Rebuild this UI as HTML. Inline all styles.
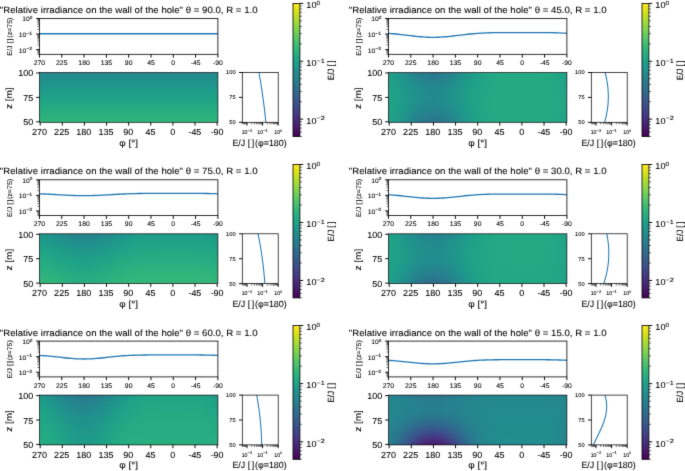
<!DOCTYPE html>
<html><head><meta charset="utf-8"><title>Relative irradiance on the wall of the hole</title>
<style>
html,body{margin:0;padding:0;background:#fff;}
body{width:685px;height:471px;overflow:hidden;font-family:"Liberation Sans",sans-serif;}
svg{display:block;font-family:"Liberation Sans",sans-serif;}
text{fill:#000;stroke:#000;stroke-width:0.08px;text-rendering:geometricPrecision;}
</style></head><body>
<svg width="685" height="471" viewBox="0 0 685 471">
<defs>
<filter id="soft" x="0" y="0" width="685" height="471" filterUnits="userSpaceOnUse" color-interpolation-filters="sRGB"><feConvolveMatrix order="3" kernelMatrix="0.01000 0.08000 0.01000 0.08000 0.64000 0.08000 0.01000 0.08000 0.01000" edgeMode="duplicate" preserveAlpha="false"/></filter>
<linearGradient id="cb" x1="0" y1="0" x2="0" y2="1"><stop offset="0" stop-color="#fde725"/><stop offset="0.03125" stop-color="#ece51b"/><stop offset="0.0625" stop-color="#d8e219"/><stop offset="0.09375" stop-color="#c2df23"/><stop offset="0.125" stop-color="#addc30"/><stop offset="0.1562" stop-color="#98d83e"/><stop offset="0.1875" stop-color="#84d44b"/><stop offset="0.2188" stop-color="#70cf57"/><stop offset="0.25" stop-color="#5ec962"/><stop offset="0.2812" stop-color="#4ec36b"/><stop offset="0.3125" stop-color="#3fbc73"/><stop offset="0.3438" stop-color="#32b67a"/><stop offset="0.375" stop-color="#28ae80"/><stop offset="0.4062" stop-color="#22a785"/><stop offset="0.4375" stop-color="#1fa088"/><stop offset="0.4688" stop-color="#1f988b"/><stop offset="0.5" stop-color="#21918c"/><stop offset="0.5312" stop-color="#23898e"/><stop offset="0.5625" stop-color="#26828e"/><stop offset="0.5938" stop-color="#297a8e"/><stop offset="0.625" stop-color="#2c728e"/><stop offset="0.6562" stop-color="#2f6b8e"/><stop offset="0.6875" stop-color="#33638d"/><stop offset="0.7188" stop-color="#375b8d"/><stop offset="0.75" stop-color="#3b528b"/><stop offset="0.7812" stop-color="#3e4989"/><stop offset="0.8125" stop-color="#424086"/><stop offset="0.8438" stop-color="#453781"/><stop offset="0.875" stop-color="#472d7b"/><stop offset="0.9062" stop-color="#482374"/><stop offset="0.9375" stop-color="#48186a"/><stop offset="0.9688" stop-color="#470d60"/><stop offset="1" stop-color="#440154"/></linearGradient>
<clipPath id="c0"><rect x="39.45" y="72.50" width="178.45" height="49.80"/></clipPath>
<linearGradient id="g0_0"><stop offset="0" stop-color="#23888e"/><stop offset="0.05" stop-color="#23888e"/><stop offset="0.1" stop-color="#23888e"/><stop offset="0.15" stop-color="#23888e"/><stop offset="0.2" stop-color="#23888e"/><stop offset="0.25" stop-color="#23888e"/><stop offset="0.3" stop-color="#23888e"/><stop offset="0.35" stop-color="#23888e"/><stop offset="0.4" stop-color="#23888e"/><stop offset="0.45" stop-color="#23888e"/><stop offset="0.5" stop-color="#23888e"/><stop offset="0.55" stop-color="#23888e"/><stop offset="0.6" stop-color="#23888e"/><stop offset="0.65" stop-color="#23888e"/><stop offset="0.7" stop-color="#23888e"/><stop offset="0.75" stop-color="#23888e"/><stop offset="0.8" stop-color="#23888e"/><stop offset="0.85" stop-color="#23888e"/><stop offset="0.9" stop-color="#23888e"/><stop offset="0.95" stop-color="#23888e"/><stop offset="1" stop-color="#23888e"/></linearGradient>
<linearGradient id="g0_1"><stop offset="0" stop-color="#228b8d"/><stop offset="0.05" stop-color="#228b8d"/><stop offset="0.1" stop-color="#228b8d"/><stop offset="0.15" stop-color="#228b8d"/><stop offset="0.2" stop-color="#228b8d"/><stop offset="0.25" stop-color="#228b8d"/><stop offset="0.3" stop-color="#228b8d"/><stop offset="0.35" stop-color="#228b8d"/><stop offset="0.4" stop-color="#228b8d"/><stop offset="0.45" stop-color="#228b8d"/><stop offset="0.5" stop-color="#228b8d"/><stop offset="0.55" stop-color="#228b8d"/><stop offset="0.6" stop-color="#228b8d"/><stop offset="0.65" stop-color="#228b8d"/><stop offset="0.7" stop-color="#228b8d"/><stop offset="0.75" stop-color="#228b8d"/><stop offset="0.8" stop-color="#228b8d"/><stop offset="0.85" stop-color="#228b8d"/><stop offset="0.9" stop-color="#228b8d"/><stop offset="0.95" stop-color="#228b8d"/><stop offset="1" stop-color="#228b8d"/></linearGradient>
<linearGradient id="g0_2"><stop offset="0" stop-color="#228d8d"/><stop offset="0.05" stop-color="#228d8d"/><stop offset="0.1" stop-color="#228d8d"/><stop offset="0.15" stop-color="#228d8d"/><stop offset="0.2" stop-color="#228d8d"/><stop offset="0.25" stop-color="#228d8d"/><stop offset="0.3" stop-color="#228d8d"/><stop offset="0.35" stop-color="#228d8d"/><stop offset="0.4" stop-color="#228d8d"/><stop offset="0.45" stop-color="#228d8d"/><stop offset="0.5" stop-color="#228d8d"/><stop offset="0.55" stop-color="#228d8d"/><stop offset="0.6" stop-color="#228d8d"/><stop offset="0.65" stop-color="#228d8d"/><stop offset="0.7" stop-color="#228d8d"/><stop offset="0.75" stop-color="#228d8d"/><stop offset="0.8" stop-color="#228d8d"/><stop offset="0.85" stop-color="#228d8d"/><stop offset="0.9" stop-color="#228d8d"/><stop offset="0.95" stop-color="#228d8d"/><stop offset="1" stop-color="#228d8d"/></linearGradient>
<linearGradient id="g0_3"><stop offset="0" stop-color="#21908d"/><stop offset="0.05" stop-color="#21908d"/><stop offset="0.1" stop-color="#21908d"/><stop offset="0.15" stop-color="#21908d"/><stop offset="0.2" stop-color="#21908d"/><stop offset="0.25" stop-color="#21908d"/><stop offset="0.3" stop-color="#21908d"/><stop offset="0.35" stop-color="#21908d"/><stop offset="0.4" stop-color="#21908d"/><stop offset="0.45" stop-color="#21908d"/><stop offset="0.5" stop-color="#21908d"/><stop offset="0.55" stop-color="#21908d"/><stop offset="0.6" stop-color="#21908d"/><stop offset="0.65" stop-color="#21908d"/><stop offset="0.7" stop-color="#21908d"/><stop offset="0.75" stop-color="#21908d"/><stop offset="0.8" stop-color="#21908d"/><stop offset="0.85" stop-color="#21908d"/><stop offset="0.9" stop-color="#21908d"/><stop offset="0.95" stop-color="#21908d"/><stop offset="1" stop-color="#21908d"/></linearGradient>
<linearGradient id="g0_4"><stop offset="0" stop-color="#20928c"/><stop offset="0.05" stop-color="#20928c"/><stop offset="0.1" stop-color="#20928c"/><stop offset="0.15" stop-color="#20928c"/><stop offset="0.2" stop-color="#20928c"/><stop offset="0.25" stop-color="#20928c"/><stop offset="0.3" stop-color="#20928c"/><stop offset="0.35" stop-color="#20928c"/><stop offset="0.4" stop-color="#20928c"/><stop offset="0.45" stop-color="#20928c"/><stop offset="0.5" stop-color="#20928c"/><stop offset="0.55" stop-color="#20928c"/><stop offset="0.6" stop-color="#20928c"/><stop offset="0.65" stop-color="#20928c"/><stop offset="0.7" stop-color="#20928c"/><stop offset="0.75" stop-color="#20928c"/><stop offset="0.8" stop-color="#20928c"/><stop offset="0.85" stop-color="#20928c"/><stop offset="0.9" stop-color="#20928c"/><stop offset="0.95" stop-color="#20928c"/><stop offset="1" stop-color="#20928c"/></linearGradient>
<linearGradient id="g0_5"><stop offset="0" stop-color="#20938c"/><stop offset="0.05" stop-color="#20938c"/><stop offset="0.1" stop-color="#20938c"/><stop offset="0.15" stop-color="#20938c"/><stop offset="0.2" stop-color="#20938c"/><stop offset="0.25" stop-color="#20938c"/><stop offset="0.3" stop-color="#20938c"/><stop offset="0.35" stop-color="#20938c"/><stop offset="0.4" stop-color="#20938c"/><stop offset="0.45" stop-color="#20938c"/><stop offset="0.5" stop-color="#20938c"/><stop offset="0.55" stop-color="#20938c"/><stop offset="0.6" stop-color="#20938c"/><stop offset="0.65" stop-color="#20938c"/><stop offset="0.7" stop-color="#20938c"/><stop offset="0.75" stop-color="#20938c"/><stop offset="0.8" stop-color="#20938c"/><stop offset="0.85" stop-color="#20938c"/><stop offset="0.9" stop-color="#20938c"/><stop offset="0.95" stop-color="#20938c"/><stop offset="1" stop-color="#20938c"/></linearGradient>
<linearGradient id="g0_6"><stop offset="0" stop-color="#1f968b"/><stop offset="0.05" stop-color="#1f968b"/><stop offset="0.1" stop-color="#1f968b"/><stop offset="0.15" stop-color="#1f968b"/><stop offset="0.2" stop-color="#1f968b"/><stop offset="0.25" stop-color="#1f968b"/><stop offset="0.3" stop-color="#1f968b"/><stop offset="0.35" stop-color="#1f968b"/><stop offset="0.4" stop-color="#1f968b"/><stop offset="0.45" stop-color="#1f968b"/><stop offset="0.5" stop-color="#1f968b"/><stop offset="0.55" stop-color="#1f968b"/><stop offset="0.6" stop-color="#1f968b"/><stop offset="0.65" stop-color="#1f968b"/><stop offset="0.7" stop-color="#1f968b"/><stop offset="0.75" stop-color="#1f968b"/><stop offset="0.8" stop-color="#1f968b"/><stop offset="0.85" stop-color="#1f968b"/><stop offset="0.9" stop-color="#1f968b"/><stop offset="0.95" stop-color="#1f968b"/><stop offset="1" stop-color="#1f968b"/></linearGradient>
<linearGradient id="g0_7"><stop offset="0" stop-color="#1f988b"/><stop offset="0.05" stop-color="#1f988b"/><stop offset="0.1" stop-color="#1f988b"/><stop offset="0.15" stop-color="#1f988b"/><stop offset="0.2" stop-color="#1f988b"/><stop offset="0.25" stop-color="#1f988b"/><stop offset="0.3" stop-color="#1f988b"/><stop offset="0.35" stop-color="#1f988b"/><stop offset="0.4" stop-color="#1f988b"/><stop offset="0.45" stop-color="#1f988b"/><stop offset="0.5" stop-color="#1f988b"/><stop offset="0.55" stop-color="#1f988b"/><stop offset="0.6" stop-color="#1f988b"/><stop offset="0.65" stop-color="#1f988b"/><stop offset="0.7" stop-color="#1f988b"/><stop offset="0.75" stop-color="#1f988b"/><stop offset="0.8" stop-color="#1f988b"/><stop offset="0.85" stop-color="#1f988b"/><stop offset="0.9" stop-color="#1f988b"/><stop offset="0.95" stop-color="#1f988b"/><stop offset="1" stop-color="#1f988b"/></linearGradient>
<linearGradient id="g0_8"><stop offset="0" stop-color="#1f9a8a"/><stop offset="0.05" stop-color="#1f9a8a"/><stop offset="0.1" stop-color="#1f9a8a"/><stop offset="0.15" stop-color="#1f9a8a"/><stop offset="0.2" stop-color="#1f9a8a"/><stop offset="0.25" stop-color="#1f9a8a"/><stop offset="0.3" stop-color="#1f9a8a"/><stop offset="0.35" stop-color="#1f9a8a"/><stop offset="0.4" stop-color="#1f9a8a"/><stop offset="0.45" stop-color="#1f9a8a"/><stop offset="0.5" stop-color="#1f9a8a"/><stop offset="0.55" stop-color="#1f9a8a"/><stop offset="0.6" stop-color="#1f9a8a"/><stop offset="0.65" stop-color="#1f9a8a"/><stop offset="0.7" stop-color="#1f9a8a"/><stop offset="0.75" stop-color="#1f9a8a"/><stop offset="0.8" stop-color="#1f9a8a"/><stop offset="0.85" stop-color="#1f9a8a"/><stop offset="0.9" stop-color="#1f9a8a"/><stop offset="0.95" stop-color="#1f9a8a"/><stop offset="1" stop-color="#1f9a8a"/></linearGradient>
<linearGradient id="g0_9"><stop offset="0" stop-color="#1e9c89"/><stop offset="0.05" stop-color="#1e9c89"/><stop offset="0.1" stop-color="#1e9c89"/><stop offset="0.15" stop-color="#1e9c89"/><stop offset="0.2" stop-color="#1e9c89"/><stop offset="0.25" stop-color="#1e9c89"/><stop offset="0.3" stop-color="#1e9c89"/><stop offset="0.35" stop-color="#1e9c89"/><stop offset="0.4" stop-color="#1e9c89"/><stop offset="0.45" stop-color="#1e9c89"/><stop offset="0.5" stop-color="#1e9c89"/><stop offset="0.55" stop-color="#1e9c89"/><stop offset="0.6" stop-color="#1e9c89"/><stop offset="0.65" stop-color="#1e9c89"/><stop offset="0.7" stop-color="#1e9c89"/><stop offset="0.75" stop-color="#1e9c89"/><stop offset="0.8" stop-color="#1e9c89"/><stop offset="0.85" stop-color="#1e9c89"/><stop offset="0.9" stop-color="#1e9c89"/><stop offset="0.95" stop-color="#1e9c89"/><stop offset="1" stop-color="#1e9c89"/></linearGradient>
<linearGradient id="g0_10"><stop offset="0" stop-color="#1f9e89"/><stop offset="0.05" stop-color="#1f9e89"/><stop offset="0.1" stop-color="#1f9e89"/><stop offset="0.15" stop-color="#1f9e89"/><stop offset="0.2" stop-color="#1f9e89"/><stop offset="0.25" stop-color="#1f9e89"/><stop offset="0.3" stop-color="#1f9e89"/><stop offset="0.35" stop-color="#1f9e89"/><stop offset="0.4" stop-color="#1f9e89"/><stop offset="0.45" stop-color="#1f9e89"/><stop offset="0.5" stop-color="#1f9e89"/><stop offset="0.55" stop-color="#1f9e89"/><stop offset="0.6" stop-color="#1f9e89"/><stop offset="0.65" stop-color="#1f9e89"/><stop offset="0.7" stop-color="#1f9e89"/><stop offset="0.75" stop-color="#1f9e89"/><stop offset="0.8" stop-color="#1f9e89"/><stop offset="0.85" stop-color="#1f9e89"/><stop offset="0.9" stop-color="#1f9e89"/><stop offset="0.95" stop-color="#1f9e89"/><stop offset="1" stop-color="#1f9e89"/></linearGradient>
<linearGradient id="g0_11"><stop offset="0" stop-color="#1fa088"/><stop offset="0.05" stop-color="#1fa088"/><stop offset="0.1" stop-color="#1fa088"/><stop offset="0.15" stop-color="#1fa088"/><stop offset="0.2" stop-color="#1fa088"/><stop offset="0.25" stop-color="#1fa088"/><stop offset="0.3" stop-color="#1fa088"/><stop offset="0.35" stop-color="#1fa088"/><stop offset="0.4" stop-color="#1fa088"/><stop offset="0.45" stop-color="#1fa088"/><stop offset="0.5" stop-color="#1fa088"/><stop offset="0.55" stop-color="#1fa088"/><stop offset="0.6" stop-color="#1fa088"/><stop offset="0.65" stop-color="#1fa088"/><stop offset="0.7" stop-color="#1fa088"/><stop offset="0.75" stop-color="#1fa088"/><stop offset="0.8" stop-color="#1fa088"/><stop offset="0.85" stop-color="#1fa088"/><stop offset="0.9" stop-color="#1fa088"/><stop offset="0.95" stop-color="#1fa088"/><stop offset="1" stop-color="#1fa088"/></linearGradient>
<linearGradient id="g0_12"><stop offset="0" stop-color="#1fa187"/><stop offset="0.05" stop-color="#1fa187"/><stop offset="0.1" stop-color="#1fa187"/><stop offset="0.15" stop-color="#1fa187"/><stop offset="0.2" stop-color="#1fa187"/><stop offset="0.25" stop-color="#1fa187"/><stop offset="0.3" stop-color="#1fa187"/><stop offset="0.35" stop-color="#1fa187"/><stop offset="0.4" stop-color="#1fa187"/><stop offset="0.45" stop-color="#1fa187"/><stop offset="0.5" stop-color="#1fa187"/><stop offset="0.55" stop-color="#1fa187"/><stop offset="0.6" stop-color="#1fa187"/><stop offset="0.65" stop-color="#1fa187"/><stop offset="0.7" stop-color="#1fa187"/><stop offset="0.75" stop-color="#1fa187"/><stop offset="0.8" stop-color="#1fa187"/><stop offset="0.85" stop-color="#1fa187"/><stop offset="0.9" stop-color="#1fa187"/><stop offset="0.95" stop-color="#1fa187"/><stop offset="1" stop-color="#1fa187"/></linearGradient>
<linearGradient id="g0_13"><stop offset="0" stop-color="#20a386"/><stop offset="0.05" stop-color="#20a386"/><stop offset="0.1" stop-color="#20a386"/><stop offset="0.15" stop-color="#20a386"/><stop offset="0.2" stop-color="#20a386"/><stop offset="0.25" stop-color="#20a386"/><stop offset="0.3" stop-color="#20a386"/><stop offset="0.35" stop-color="#20a386"/><stop offset="0.4" stop-color="#20a386"/><stop offset="0.45" stop-color="#20a386"/><stop offset="0.5" stop-color="#20a386"/><stop offset="0.55" stop-color="#20a386"/><stop offset="0.6" stop-color="#20a386"/><stop offset="0.65" stop-color="#20a386"/><stop offset="0.7" stop-color="#20a386"/><stop offset="0.75" stop-color="#20a386"/><stop offset="0.8" stop-color="#20a386"/><stop offset="0.85" stop-color="#20a386"/><stop offset="0.9" stop-color="#20a386"/><stop offset="0.95" stop-color="#20a386"/><stop offset="1" stop-color="#20a386"/></linearGradient>
<linearGradient id="g0_14"><stop offset="0" stop-color="#21a585"/><stop offset="0.05" stop-color="#21a585"/><stop offset="0.1" stop-color="#21a585"/><stop offset="0.15" stop-color="#21a585"/><stop offset="0.2" stop-color="#21a585"/><stop offset="0.25" stop-color="#21a585"/><stop offset="0.3" stop-color="#21a585"/><stop offset="0.35" stop-color="#21a585"/><stop offset="0.4" stop-color="#21a585"/><stop offset="0.45" stop-color="#21a585"/><stop offset="0.5" stop-color="#21a585"/><stop offset="0.55" stop-color="#21a585"/><stop offset="0.6" stop-color="#21a585"/><stop offset="0.65" stop-color="#21a585"/><stop offset="0.7" stop-color="#21a585"/><stop offset="0.75" stop-color="#21a585"/><stop offset="0.8" stop-color="#21a585"/><stop offset="0.85" stop-color="#21a585"/><stop offset="0.9" stop-color="#21a585"/><stop offset="0.95" stop-color="#21a585"/><stop offset="1" stop-color="#21a585"/></linearGradient>
<linearGradient id="g0_15"><stop offset="0" stop-color="#22a785"/><stop offset="0.05" stop-color="#22a785"/><stop offset="0.1" stop-color="#22a785"/><stop offset="0.15" stop-color="#22a785"/><stop offset="0.2" stop-color="#22a785"/><stop offset="0.25" stop-color="#22a785"/><stop offset="0.3" stop-color="#22a785"/><stop offset="0.35" stop-color="#22a785"/><stop offset="0.4" stop-color="#22a785"/><stop offset="0.45" stop-color="#22a785"/><stop offset="0.5" stop-color="#22a785"/><stop offset="0.55" stop-color="#22a785"/><stop offset="0.6" stop-color="#22a785"/><stop offset="0.65" stop-color="#22a785"/><stop offset="0.7" stop-color="#22a785"/><stop offset="0.75" stop-color="#22a785"/><stop offset="0.8" stop-color="#22a785"/><stop offset="0.85" stop-color="#22a785"/><stop offset="0.9" stop-color="#22a785"/><stop offset="0.95" stop-color="#22a785"/><stop offset="1" stop-color="#22a785"/></linearGradient>
<linearGradient id="g0_16"><stop offset="0" stop-color="#23a983"/><stop offset="0.05" stop-color="#23a983"/><stop offset="0.1" stop-color="#23a983"/><stop offset="0.15" stop-color="#23a983"/><stop offset="0.2" stop-color="#23a983"/><stop offset="0.25" stop-color="#23a983"/><stop offset="0.3" stop-color="#23a983"/><stop offset="0.35" stop-color="#23a983"/><stop offset="0.4" stop-color="#23a983"/><stop offset="0.45" stop-color="#23a983"/><stop offset="0.5" stop-color="#23a983"/><stop offset="0.55" stop-color="#23a983"/><stop offset="0.6" stop-color="#23a983"/><stop offset="0.65" stop-color="#23a983"/><stop offset="0.7" stop-color="#23a983"/><stop offset="0.75" stop-color="#23a983"/><stop offset="0.8" stop-color="#23a983"/><stop offset="0.85" stop-color="#23a983"/><stop offset="0.9" stop-color="#23a983"/><stop offset="0.95" stop-color="#23a983"/><stop offset="1" stop-color="#23a983"/></linearGradient>
<linearGradient id="g0_17"><stop offset="0" stop-color="#25ab82"/><stop offset="0.05" stop-color="#25ab82"/><stop offset="0.1" stop-color="#25ab82"/><stop offset="0.15" stop-color="#25ab82"/><stop offset="0.2" stop-color="#25ab82"/><stop offset="0.25" stop-color="#25ab82"/><stop offset="0.3" stop-color="#25ab82"/><stop offset="0.35" stop-color="#25ab82"/><stop offset="0.4" stop-color="#25ab82"/><stop offset="0.45" stop-color="#25ab82"/><stop offset="0.5" stop-color="#25ab82"/><stop offset="0.55" stop-color="#25ab82"/><stop offset="0.6" stop-color="#25ab82"/><stop offset="0.65" stop-color="#25ab82"/><stop offset="0.7" stop-color="#25ab82"/><stop offset="0.75" stop-color="#25ab82"/><stop offset="0.8" stop-color="#25ab82"/><stop offset="0.85" stop-color="#25ab82"/><stop offset="0.9" stop-color="#25ab82"/><stop offset="0.95" stop-color="#25ab82"/><stop offset="1" stop-color="#25ab82"/></linearGradient>
<linearGradient id="g0_18"><stop offset="0" stop-color="#26ad81"/><stop offset="0.05" stop-color="#26ad81"/><stop offset="0.1" stop-color="#26ad81"/><stop offset="0.15" stop-color="#26ad81"/><stop offset="0.2" stop-color="#26ad81"/><stop offset="0.25" stop-color="#26ad81"/><stop offset="0.3" stop-color="#26ad81"/><stop offset="0.35" stop-color="#26ad81"/><stop offset="0.4" stop-color="#26ad81"/><stop offset="0.45" stop-color="#26ad81"/><stop offset="0.5" stop-color="#26ad81"/><stop offset="0.55" stop-color="#26ad81"/><stop offset="0.6" stop-color="#26ad81"/><stop offset="0.65" stop-color="#26ad81"/><stop offset="0.7" stop-color="#26ad81"/><stop offset="0.75" stop-color="#26ad81"/><stop offset="0.8" stop-color="#26ad81"/><stop offset="0.85" stop-color="#26ad81"/><stop offset="0.9" stop-color="#26ad81"/><stop offset="0.95" stop-color="#26ad81"/><stop offset="1" stop-color="#26ad81"/></linearGradient>
<linearGradient id="g0_19"><stop offset="0" stop-color="#27ad81"/><stop offset="0.05" stop-color="#27ad81"/><stop offset="0.1" stop-color="#27ad81"/><stop offset="0.15" stop-color="#27ad81"/><stop offset="0.2" stop-color="#27ad81"/><stop offset="0.25" stop-color="#27ad81"/><stop offset="0.3" stop-color="#27ad81"/><stop offset="0.35" stop-color="#27ad81"/><stop offset="0.4" stop-color="#27ad81"/><stop offset="0.45" stop-color="#27ad81"/><stop offset="0.5" stop-color="#27ad81"/><stop offset="0.55" stop-color="#27ad81"/><stop offset="0.6" stop-color="#27ad81"/><stop offset="0.65" stop-color="#27ad81"/><stop offset="0.7" stop-color="#27ad81"/><stop offset="0.75" stop-color="#27ad81"/><stop offset="0.8" stop-color="#27ad81"/><stop offset="0.85" stop-color="#27ad81"/><stop offset="0.9" stop-color="#27ad81"/><stop offset="0.95" stop-color="#27ad81"/><stop offset="1" stop-color="#27ad81"/></linearGradient>
<linearGradient id="g0_20"><stop offset="0" stop-color="#29af7f"/><stop offset="0.05" stop-color="#29af7f"/><stop offset="0.1" stop-color="#29af7f"/><stop offset="0.15" stop-color="#29af7f"/><stop offset="0.2" stop-color="#29af7f"/><stop offset="0.25" stop-color="#29af7f"/><stop offset="0.3" stop-color="#29af7f"/><stop offset="0.35" stop-color="#29af7f"/><stop offset="0.4" stop-color="#29af7f"/><stop offset="0.45" stop-color="#29af7f"/><stop offset="0.5" stop-color="#29af7f"/><stop offset="0.55" stop-color="#29af7f"/><stop offset="0.6" stop-color="#29af7f"/><stop offset="0.65" stop-color="#29af7f"/><stop offset="0.7" stop-color="#29af7f"/><stop offset="0.75" stop-color="#29af7f"/><stop offset="0.8" stop-color="#29af7f"/><stop offset="0.85" stop-color="#29af7f"/><stop offset="0.9" stop-color="#29af7f"/><stop offset="0.95" stop-color="#29af7f"/><stop offset="1" stop-color="#29af7f"/></linearGradient>
<linearGradient id="g0_21"><stop offset="0" stop-color="#2ab07f"/><stop offset="0.05" stop-color="#2ab07f"/><stop offset="0.1" stop-color="#2ab07f"/><stop offset="0.15" stop-color="#2ab07f"/><stop offset="0.2" stop-color="#2ab07f"/><stop offset="0.25" stop-color="#2ab07f"/><stop offset="0.3" stop-color="#2ab07f"/><stop offset="0.35" stop-color="#2ab07f"/><stop offset="0.4" stop-color="#2ab07f"/><stop offset="0.45" stop-color="#2ab07f"/><stop offset="0.5" stop-color="#2ab07f"/><stop offset="0.55" stop-color="#2ab07f"/><stop offset="0.6" stop-color="#2ab07f"/><stop offset="0.65" stop-color="#2ab07f"/><stop offset="0.7" stop-color="#2ab07f"/><stop offset="0.75" stop-color="#2ab07f"/><stop offset="0.8" stop-color="#2ab07f"/><stop offset="0.85" stop-color="#2ab07f"/><stop offset="0.9" stop-color="#2ab07f"/><stop offset="0.95" stop-color="#2ab07f"/><stop offset="1" stop-color="#2ab07f"/></linearGradient>
<linearGradient id="g0_22"><stop offset="0" stop-color="#2db27d"/><stop offset="0.05" stop-color="#2db27d"/><stop offset="0.1" stop-color="#2db27d"/><stop offset="0.15" stop-color="#2db27d"/><stop offset="0.2" stop-color="#2db27d"/><stop offset="0.25" stop-color="#2db27d"/><stop offset="0.3" stop-color="#2db27d"/><stop offset="0.35" stop-color="#2db27d"/><stop offset="0.4" stop-color="#2db27d"/><stop offset="0.45" stop-color="#2db27d"/><stop offset="0.5" stop-color="#2db27d"/><stop offset="0.55" stop-color="#2db27d"/><stop offset="0.6" stop-color="#2db27d"/><stop offset="0.65" stop-color="#2db27d"/><stop offset="0.7" stop-color="#2db27d"/><stop offset="0.75" stop-color="#2db27d"/><stop offset="0.8" stop-color="#2db27d"/><stop offset="0.85" stop-color="#2db27d"/><stop offset="0.9" stop-color="#2db27d"/><stop offset="0.95" stop-color="#2db27d"/><stop offset="1" stop-color="#2db27d"/></linearGradient>
<linearGradient id="g0_23"><stop offset="0" stop-color="#2eb37c"/><stop offset="0.05" stop-color="#2eb37c"/><stop offset="0.1" stop-color="#2eb37c"/><stop offset="0.15" stop-color="#2eb37c"/><stop offset="0.2" stop-color="#2eb37c"/><stop offset="0.25" stop-color="#2eb37c"/><stop offset="0.3" stop-color="#2eb37c"/><stop offset="0.35" stop-color="#2eb37c"/><stop offset="0.4" stop-color="#2eb37c"/><stop offset="0.45" stop-color="#2eb37c"/><stop offset="0.5" stop-color="#2eb37c"/><stop offset="0.55" stop-color="#2eb37c"/><stop offset="0.6" stop-color="#2eb37c"/><stop offset="0.65" stop-color="#2eb37c"/><stop offset="0.7" stop-color="#2eb37c"/><stop offset="0.75" stop-color="#2eb37c"/><stop offset="0.8" stop-color="#2eb37c"/><stop offset="0.85" stop-color="#2eb37c"/><stop offset="0.9" stop-color="#2eb37c"/><stop offset="0.95" stop-color="#2eb37c"/><stop offset="1" stop-color="#2eb37c"/></linearGradient>
<linearGradient id="g0_24"><stop offset="0" stop-color="#31b57b"/><stop offset="0.05" stop-color="#31b57b"/><stop offset="0.1" stop-color="#31b57b"/><stop offset="0.15" stop-color="#31b57b"/><stop offset="0.2" stop-color="#31b57b"/><stop offset="0.25" stop-color="#31b57b"/><stop offset="0.3" stop-color="#31b57b"/><stop offset="0.35" stop-color="#31b57b"/><stop offset="0.4" stop-color="#31b57b"/><stop offset="0.45" stop-color="#31b57b"/><stop offset="0.5" stop-color="#31b57b"/><stop offset="0.55" stop-color="#31b57b"/><stop offset="0.6" stop-color="#31b57b"/><stop offset="0.65" stop-color="#31b57b"/><stop offset="0.7" stop-color="#31b57b"/><stop offset="0.75" stop-color="#31b57b"/><stop offset="0.8" stop-color="#31b57b"/><stop offset="0.85" stop-color="#31b57b"/><stop offset="0.9" stop-color="#31b57b"/><stop offset="0.95" stop-color="#31b57b"/><stop offset="1" stop-color="#31b57b"/></linearGradient>
<clipPath id="s1"><rect x="242.30" y="72.50" width="35.90" height="49.80"/></clipPath>
<clipPath id="c1"><rect x="39.45" y="233.80" width="178.45" height="49.80"/></clipPath>
<linearGradient id="g1_0"><stop offset="0" stop-color="#1f978b"/><stop offset="0.05" stop-color="#20928c"/><stop offset="0.1" stop-color="#228d8d"/><stop offset="0.15" stop-color="#23888e"/><stop offset="0.2" stop-color="#25848e"/><stop offset="0.25" stop-color="#26828e"/><stop offset="0.3" stop-color="#25848e"/><stop offset="0.35" stop-color="#23888e"/><stop offset="0.4" stop-color="#228d8d"/><stop offset="0.45" stop-color="#20928c"/><stop offset="0.5" stop-color="#1f978b"/><stop offset="0.55" stop-color="#1f9a8a"/><stop offset="0.6" stop-color="#1e9d89"/><stop offset="0.65" stop-color="#1e9d89"/><stop offset="0.7" stop-color="#1f9e89"/><stop offset="0.75" stop-color="#1f9e89"/><stop offset="0.8" stop-color="#1f9e89"/><stop offset="0.85" stop-color="#1e9d89"/><stop offset="0.9" stop-color="#1e9d89"/><stop offset="0.95" stop-color="#1f9a8a"/><stop offset="1" stop-color="#1f978b"/></linearGradient>
<linearGradient id="g1_1"><stop offset="0" stop-color="#1f998a"/><stop offset="0.05" stop-color="#1f948c"/><stop offset="0.1" stop-color="#218f8d"/><stop offset="0.15" stop-color="#238a8d"/><stop offset="0.2" stop-color="#24878e"/><stop offset="0.25" stop-color="#25858e"/><stop offset="0.3" stop-color="#24878e"/><stop offset="0.35" stop-color="#238a8d"/><stop offset="0.4" stop-color="#218f8d"/><stop offset="0.45" stop-color="#1f948c"/><stop offset="0.5" stop-color="#1f998a"/><stop offset="0.55" stop-color="#1e9c89"/><stop offset="0.6" stop-color="#1f9e89"/><stop offset="0.65" stop-color="#1f9f88"/><stop offset="0.7" stop-color="#1f9f88"/><stop offset="0.75" stop-color="#1f9f88"/><stop offset="0.8" stop-color="#1f9f88"/><stop offset="0.85" stop-color="#1f9f88"/><stop offset="0.9" stop-color="#1f9e89"/><stop offset="0.95" stop-color="#1e9c89"/><stop offset="1" stop-color="#1f998a"/></linearGradient>
<linearGradient id="g1_2"><stop offset="0" stop-color="#1e9b8a"/><stop offset="0.05" stop-color="#1f968b"/><stop offset="0.1" stop-color="#20928c"/><stop offset="0.15" stop-color="#228d8d"/><stop offset="0.2" stop-color="#23898e"/><stop offset="0.25" stop-color="#23888e"/><stop offset="0.3" stop-color="#23898e"/><stop offset="0.35" stop-color="#228d8d"/><stop offset="0.4" stop-color="#20928c"/><stop offset="0.45" stop-color="#1f968b"/><stop offset="0.5" stop-color="#1e9b8a"/><stop offset="0.55" stop-color="#1f9e89"/><stop offset="0.6" stop-color="#1fa088"/><stop offset="0.65" stop-color="#1fa188"/><stop offset="0.7" stop-color="#1fa188"/><stop offset="0.75" stop-color="#1fa188"/><stop offset="0.8" stop-color="#1fa188"/><stop offset="0.85" stop-color="#1fa188"/><stop offset="0.9" stop-color="#1fa088"/><stop offset="0.95" stop-color="#1f9e89"/><stop offset="1" stop-color="#1e9b8a"/></linearGradient>
<linearGradient id="g1_3"><stop offset="0" stop-color="#1e9d89"/><stop offset="0.05" stop-color="#1f988b"/><stop offset="0.1" stop-color="#20938c"/><stop offset="0.15" stop-color="#218f8d"/><stop offset="0.2" stop-color="#228c8d"/><stop offset="0.25" stop-color="#228b8d"/><stop offset="0.3" stop-color="#228c8d"/><stop offset="0.35" stop-color="#218f8d"/><stop offset="0.4" stop-color="#20938c"/><stop offset="0.45" stop-color="#1f988b"/><stop offset="0.5" stop-color="#1e9d89"/><stop offset="0.55" stop-color="#1fa088"/><stop offset="0.6" stop-color="#1fa187"/><stop offset="0.65" stop-color="#1fa187"/><stop offset="0.7" stop-color="#1fa187"/><stop offset="0.75" stop-color="#1fa187"/><stop offset="0.8" stop-color="#1fa187"/><stop offset="0.85" stop-color="#1fa187"/><stop offset="0.9" stop-color="#1fa187"/><stop offset="0.95" stop-color="#1fa088"/><stop offset="1" stop-color="#1e9d89"/></linearGradient>
<linearGradient id="g1_4"><stop offset="0" stop-color="#1f9f88"/><stop offset="0.05" stop-color="#1f9a8a"/><stop offset="0.1" stop-color="#1f968b"/><stop offset="0.15" stop-color="#20928c"/><stop offset="0.2" stop-color="#218e8d"/><stop offset="0.25" stop-color="#228d8d"/><stop offset="0.3" stop-color="#218e8d"/><stop offset="0.35" stop-color="#20928c"/><stop offset="0.4" stop-color="#1f968b"/><stop offset="0.45" stop-color="#1f9a8a"/><stop offset="0.5" stop-color="#1f9f88"/><stop offset="0.55" stop-color="#1fa188"/><stop offset="0.6" stop-color="#1fa287"/><stop offset="0.65" stop-color="#20a386"/><stop offset="0.7" stop-color="#20a386"/><stop offset="0.75" stop-color="#20a386"/><stop offset="0.8" stop-color="#20a386"/><stop offset="0.85" stop-color="#20a386"/><stop offset="0.9" stop-color="#1fa287"/><stop offset="0.95" stop-color="#1fa188"/><stop offset="1" stop-color="#1f9f88"/></linearGradient>
<linearGradient id="g1_5"><stop offset="0" stop-color="#1fa088"/><stop offset="0.05" stop-color="#1e9c89"/><stop offset="0.1" stop-color="#1f988b"/><stop offset="0.15" stop-color="#20938c"/><stop offset="0.2" stop-color="#21918c"/><stop offset="0.25" stop-color="#21908d"/><stop offset="0.3" stop-color="#21918c"/><stop offset="0.35" stop-color="#20938c"/><stop offset="0.4" stop-color="#1f988b"/><stop offset="0.45" stop-color="#1e9c89"/><stop offset="0.5" stop-color="#1fa088"/><stop offset="0.55" stop-color="#1fa287"/><stop offset="0.6" stop-color="#20a486"/><stop offset="0.65" stop-color="#20a486"/><stop offset="0.7" stop-color="#20a486"/><stop offset="0.75" stop-color="#20a486"/><stop offset="0.8" stop-color="#20a486"/><stop offset="0.85" stop-color="#20a486"/><stop offset="0.9" stop-color="#20a486"/><stop offset="0.95" stop-color="#1fa287"/><stop offset="1" stop-color="#1fa088"/></linearGradient>
<linearGradient id="g1_6"><stop offset="0" stop-color="#1fa187"/><stop offset="0.05" stop-color="#1f9e89"/><stop offset="0.1" stop-color="#1f9a8a"/><stop offset="0.15" stop-color="#1f958b"/><stop offset="0.2" stop-color="#20928c"/><stop offset="0.25" stop-color="#20928c"/><stop offset="0.3" stop-color="#20928c"/><stop offset="0.35" stop-color="#1f958b"/><stop offset="0.4" stop-color="#1f9a8a"/><stop offset="0.45" stop-color="#1f9e89"/><stop offset="0.5" stop-color="#1fa187"/><stop offset="0.55" stop-color="#20a486"/><stop offset="0.6" stop-color="#21a585"/><stop offset="0.65" stop-color="#21a685"/><stop offset="0.7" stop-color="#21a685"/><stop offset="0.75" stop-color="#21a685"/><stop offset="0.8" stop-color="#21a685"/><stop offset="0.85" stop-color="#21a685"/><stop offset="0.9" stop-color="#21a585"/><stop offset="0.95" stop-color="#20a486"/><stop offset="1" stop-color="#1fa187"/></linearGradient>
<linearGradient id="g1_7"><stop offset="0" stop-color="#20a386"/><stop offset="0.05" stop-color="#1fa088"/><stop offset="0.1" stop-color="#1e9c89"/><stop offset="0.15" stop-color="#1f988b"/><stop offset="0.2" stop-color="#1f958b"/><stop offset="0.25" stop-color="#20938c"/><stop offset="0.3" stop-color="#1f958b"/><stop offset="0.35" stop-color="#1f988b"/><stop offset="0.4" stop-color="#1e9c89"/><stop offset="0.45" stop-color="#1fa088"/><stop offset="0.5" stop-color="#20a386"/><stop offset="0.55" stop-color="#21a585"/><stop offset="0.6" stop-color="#21a685"/><stop offset="0.65" stop-color="#22a785"/><stop offset="0.7" stop-color="#22a785"/><stop offset="0.75" stop-color="#22a785"/><stop offset="0.8" stop-color="#22a785"/><stop offset="0.85" stop-color="#22a785"/><stop offset="0.9" stop-color="#21a685"/><stop offset="0.95" stop-color="#21a585"/><stop offset="1" stop-color="#20a386"/></linearGradient>
<linearGradient id="g1_8"><stop offset="0" stop-color="#20a486"/><stop offset="0.05" stop-color="#1fa187"/><stop offset="0.1" stop-color="#1f9e89"/><stop offset="0.15" stop-color="#1f9a8a"/><stop offset="0.2" stop-color="#1f978b"/><stop offset="0.25" stop-color="#1f968b"/><stop offset="0.3" stop-color="#1f978b"/><stop offset="0.35" stop-color="#1f9a8a"/><stop offset="0.4" stop-color="#1f9e89"/><stop offset="0.45" stop-color="#1fa187"/><stop offset="0.5" stop-color="#20a486"/><stop offset="0.55" stop-color="#22a785"/><stop offset="0.6" stop-color="#22a884"/><stop offset="0.65" stop-color="#22a884"/><stop offset="0.7" stop-color="#22a884"/><stop offset="0.75" stop-color="#22a884"/><stop offset="0.8" stop-color="#22a884"/><stop offset="0.85" stop-color="#22a884"/><stop offset="0.9" stop-color="#22a884"/><stop offset="0.95" stop-color="#22a785"/><stop offset="1" stop-color="#20a486"/></linearGradient>
<linearGradient id="g1_9"><stop offset="0" stop-color="#21a685"/><stop offset="0.05" stop-color="#20a386"/><stop offset="0.1" stop-color="#1fa088"/><stop offset="0.15" stop-color="#1e9c89"/><stop offset="0.2" stop-color="#1f998a"/><stop offset="0.25" stop-color="#1f988b"/><stop offset="0.3" stop-color="#1f998a"/><stop offset="0.35" stop-color="#1e9c89"/><stop offset="0.4" stop-color="#1fa088"/><stop offset="0.45" stop-color="#20a386"/><stop offset="0.5" stop-color="#21a685"/><stop offset="0.55" stop-color="#22a884"/><stop offset="0.6" stop-color="#23a983"/><stop offset="0.65" stop-color="#24aa83"/><stop offset="0.7" stop-color="#24aa83"/><stop offset="0.75" stop-color="#24aa83"/><stop offset="0.8" stop-color="#24aa83"/><stop offset="0.85" stop-color="#24aa83"/><stop offset="0.9" stop-color="#23a983"/><stop offset="0.95" stop-color="#22a884"/><stop offset="1" stop-color="#21a685"/></linearGradient>
<linearGradient id="g1_10"><stop offset="0" stop-color="#22a884"/><stop offset="0.05" stop-color="#21a585"/><stop offset="0.1" stop-color="#1fa187"/><stop offset="0.15" stop-color="#1f9e89"/><stop offset="0.2" stop-color="#1e9b8a"/><stop offset="0.25" stop-color="#1f9a8a"/><stop offset="0.3" stop-color="#1e9b8a"/><stop offset="0.35" stop-color="#1f9e89"/><stop offset="0.4" stop-color="#1fa187"/><stop offset="0.45" stop-color="#21a585"/><stop offset="0.5" stop-color="#22a884"/><stop offset="0.55" stop-color="#24aa83"/><stop offset="0.6" stop-color="#25ab82"/><stop offset="0.65" stop-color="#25ab82"/><stop offset="0.7" stop-color="#25ab82"/><stop offset="0.75" stop-color="#25ab82"/><stop offset="0.8" stop-color="#25ab82"/><stop offset="0.85" stop-color="#25ab82"/><stop offset="0.9" stop-color="#25ab82"/><stop offset="0.95" stop-color="#24aa83"/><stop offset="1" stop-color="#22a884"/></linearGradient>
<linearGradient id="g1_11"><stop offset="0" stop-color="#23a983"/><stop offset="0.05" stop-color="#21a685"/><stop offset="0.1" stop-color="#1fa287"/><stop offset="0.15" stop-color="#1fa088"/><stop offset="0.2" stop-color="#1e9d89"/><stop offset="0.25" stop-color="#1e9c89"/><stop offset="0.3" stop-color="#1e9d89"/><stop offset="0.35" stop-color="#1fa088"/><stop offset="0.4" stop-color="#1fa287"/><stop offset="0.45" stop-color="#21a685"/><stop offset="0.5" stop-color="#23a983"/><stop offset="0.55" stop-color="#25ab82"/><stop offset="0.6" stop-color="#25ac82"/><stop offset="0.65" stop-color="#25ac82"/><stop offset="0.7" stop-color="#25ac82"/><stop offset="0.75" stop-color="#25ac82"/><stop offset="0.8" stop-color="#25ac82"/><stop offset="0.85" stop-color="#25ac82"/><stop offset="0.9" stop-color="#25ac82"/><stop offset="0.95" stop-color="#25ab82"/><stop offset="1" stop-color="#23a983"/></linearGradient>
<linearGradient id="g1_12"><stop offset="0" stop-color="#24aa83"/><stop offset="0.05" stop-color="#22a884"/><stop offset="0.1" stop-color="#20a486"/><stop offset="0.15" stop-color="#1fa187"/><stop offset="0.2" stop-color="#1f9f88"/><stop offset="0.25" stop-color="#1f9e89"/><stop offset="0.3" stop-color="#1f9f88"/><stop offset="0.35" stop-color="#1fa187"/><stop offset="0.4" stop-color="#20a486"/><stop offset="0.45" stop-color="#22a884"/><stop offset="0.5" stop-color="#24aa83"/><stop offset="0.55" stop-color="#25ac82"/><stop offset="0.6" stop-color="#26ad81"/><stop offset="0.65" stop-color="#26ad81"/><stop offset="0.7" stop-color="#26ad81"/><stop offset="0.75" stop-color="#26ad81"/><stop offset="0.8" stop-color="#26ad81"/><stop offset="0.85" stop-color="#26ad81"/><stop offset="0.9" stop-color="#26ad81"/><stop offset="0.95" stop-color="#25ac82"/><stop offset="1" stop-color="#24aa83"/></linearGradient>
<linearGradient id="g1_13"><stop offset="0" stop-color="#25ac82"/><stop offset="0.05" stop-color="#23a983"/><stop offset="0.1" stop-color="#21a685"/><stop offset="0.15" stop-color="#1fa287"/><stop offset="0.2" stop-color="#1fa188"/><stop offset="0.25" stop-color="#1fa088"/><stop offset="0.3" stop-color="#1fa188"/><stop offset="0.35" stop-color="#1fa287"/><stop offset="0.4" stop-color="#21a685"/><stop offset="0.45" stop-color="#23a983"/><stop offset="0.5" stop-color="#25ac82"/><stop offset="0.55" stop-color="#26ad81"/><stop offset="0.6" stop-color="#27ad81"/><stop offset="0.65" stop-color="#27ad81"/><stop offset="0.7" stop-color="#28ae80"/><stop offset="0.75" stop-color="#28ae80"/><stop offset="0.8" stop-color="#28ae80"/><stop offset="0.85" stop-color="#27ad81"/><stop offset="0.9" stop-color="#27ad81"/><stop offset="0.95" stop-color="#26ad81"/><stop offset="1" stop-color="#25ac82"/></linearGradient>
<linearGradient id="g1_14"><stop offset="0" stop-color="#26ad81"/><stop offset="0.05" stop-color="#25ab82"/><stop offset="0.1" stop-color="#22a785"/><stop offset="0.15" stop-color="#20a486"/><stop offset="0.2" stop-color="#1fa287"/><stop offset="0.25" stop-color="#1fa187"/><stop offset="0.3" stop-color="#1fa287"/><stop offset="0.35" stop-color="#20a486"/><stop offset="0.4" stop-color="#22a785"/><stop offset="0.45" stop-color="#25ab82"/><stop offset="0.5" stop-color="#26ad81"/><stop offset="0.55" stop-color="#28ae80"/><stop offset="0.6" stop-color="#28ae80"/><stop offset="0.65" stop-color="#29af7f"/><stop offset="0.7" stop-color="#29af7f"/><stop offset="0.75" stop-color="#29af7f"/><stop offset="0.8" stop-color="#29af7f"/><stop offset="0.85" stop-color="#29af7f"/><stop offset="0.9" stop-color="#28ae80"/><stop offset="0.95" stop-color="#28ae80"/><stop offset="1" stop-color="#26ad81"/></linearGradient>
<linearGradient id="g1_15"><stop offset="0" stop-color="#27ad81"/><stop offset="0.05" stop-color="#25ac82"/><stop offset="0.1" stop-color="#23a983"/><stop offset="0.15" stop-color="#21a685"/><stop offset="0.2" stop-color="#20a386"/><stop offset="0.25" stop-color="#1fa287"/><stop offset="0.3" stop-color="#20a386"/><stop offset="0.35" stop-color="#21a685"/><stop offset="0.4" stop-color="#23a983"/><stop offset="0.45" stop-color="#25ac82"/><stop offset="0.5" stop-color="#27ad81"/><stop offset="0.55" stop-color="#29af7f"/><stop offset="0.6" stop-color="#2ab07f"/><stop offset="0.65" stop-color="#2ab07f"/><stop offset="0.7" stop-color="#2ab07f"/><stop offset="0.75" stop-color="#2ab07f"/><stop offset="0.8" stop-color="#2ab07f"/><stop offset="0.85" stop-color="#2ab07f"/><stop offset="0.9" stop-color="#2ab07f"/><stop offset="0.95" stop-color="#29af7f"/><stop offset="1" stop-color="#27ad81"/></linearGradient>
<linearGradient id="g1_16"><stop offset="0" stop-color="#29af7f"/><stop offset="0.05" stop-color="#26ad81"/><stop offset="0.1" stop-color="#24aa83"/><stop offset="0.15" stop-color="#22a785"/><stop offset="0.2" stop-color="#21a585"/><stop offset="0.25" stop-color="#20a486"/><stop offset="0.3" stop-color="#21a585"/><stop offset="0.35" stop-color="#22a785"/><stop offset="0.4" stop-color="#24aa83"/><stop offset="0.45" stop-color="#26ad81"/><stop offset="0.5" stop-color="#29af7f"/><stop offset="0.55" stop-color="#2ab07f"/><stop offset="0.6" stop-color="#2cb17e"/><stop offset="0.65" stop-color="#2cb17e"/><stop offset="0.7" stop-color="#2cb17e"/><stop offset="0.75" stop-color="#2cb17e"/><stop offset="0.8" stop-color="#2cb17e"/><stop offset="0.85" stop-color="#2cb17e"/><stop offset="0.9" stop-color="#2cb17e"/><stop offset="0.95" stop-color="#2ab07f"/><stop offset="1" stop-color="#29af7f"/></linearGradient>
<linearGradient id="g1_17"><stop offset="0" stop-color="#2ab07f"/><stop offset="0.05" stop-color="#28ae80"/><stop offset="0.1" stop-color="#25ac82"/><stop offset="0.15" stop-color="#23a983"/><stop offset="0.2" stop-color="#22a785"/><stop offset="0.25" stop-color="#21a685"/><stop offset="0.3" stop-color="#22a785"/><stop offset="0.35" stop-color="#23a983"/><stop offset="0.4" stop-color="#25ac82"/><stop offset="0.45" stop-color="#28ae80"/><stop offset="0.5" stop-color="#2ab07f"/><stop offset="0.55" stop-color="#2cb17e"/><stop offset="0.6" stop-color="#2db27d"/><stop offset="0.65" stop-color="#2db27d"/><stop offset="0.7" stop-color="#2db27d"/><stop offset="0.75" stop-color="#2db27d"/><stop offset="0.8" stop-color="#2db27d"/><stop offset="0.85" stop-color="#2db27d"/><stop offset="0.9" stop-color="#2db27d"/><stop offset="0.95" stop-color="#2cb17e"/><stop offset="1" stop-color="#2ab07f"/></linearGradient>
<linearGradient id="g1_18"><stop offset="0" stop-color="#2cb17e"/><stop offset="0.05" stop-color="#29af7f"/><stop offset="0.1" stop-color="#26ad81"/><stop offset="0.15" stop-color="#24aa83"/><stop offset="0.2" stop-color="#22a884"/><stop offset="0.25" stop-color="#22a785"/><stop offset="0.3" stop-color="#22a884"/><stop offset="0.35" stop-color="#24aa83"/><stop offset="0.4" stop-color="#26ad81"/><stop offset="0.45" stop-color="#29af7f"/><stop offset="0.5" stop-color="#2cb17e"/><stop offset="0.55" stop-color="#2db27d"/><stop offset="0.6" stop-color="#2eb37c"/><stop offset="0.65" stop-color="#2eb37c"/><stop offset="0.7" stop-color="#2eb37c"/><stop offset="0.75" stop-color="#2eb37c"/><stop offset="0.8" stop-color="#2eb37c"/><stop offset="0.85" stop-color="#2eb37c"/><stop offset="0.9" stop-color="#2eb37c"/><stop offset="0.95" stop-color="#2db27d"/><stop offset="1" stop-color="#2cb17e"/></linearGradient>
<linearGradient id="g1_19"><stop offset="0" stop-color="#2db27d"/><stop offset="0.05" stop-color="#2ab07f"/><stop offset="0.1" stop-color="#27ad81"/><stop offset="0.15" stop-color="#25ac82"/><stop offset="0.2" stop-color="#23a983"/><stop offset="0.25" stop-color="#23a983"/><stop offset="0.3" stop-color="#23a983"/><stop offset="0.35" stop-color="#25ac82"/><stop offset="0.4" stop-color="#27ad81"/><stop offset="0.45" stop-color="#2ab07f"/><stop offset="0.5" stop-color="#2db27d"/><stop offset="0.55" stop-color="#2eb37c"/><stop offset="0.6" stop-color="#2fb47c"/><stop offset="0.65" stop-color="#2fb47c"/><stop offset="0.7" stop-color="#2fb47c"/><stop offset="0.75" stop-color="#2fb47c"/><stop offset="0.8" stop-color="#2fb47c"/><stop offset="0.85" stop-color="#2fb47c"/><stop offset="0.9" stop-color="#2fb47c"/><stop offset="0.95" stop-color="#2eb37c"/><stop offset="1" stop-color="#2db27d"/></linearGradient>
<linearGradient id="g1_20"><stop offset="0" stop-color="#2eb37c"/><stop offset="0.05" stop-color="#2cb17e"/><stop offset="0.1" stop-color="#29af7f"/><stop offset="0.15" stop-color="#26ad81"/><stop offset="0.2" stop-color="#25ab82"/><stop offset="0.25" stop-color="#24aa83"/><stop offset="0.3" stop-color="#25ab82"/><stop offset="0.35" stop-color="#26ad81"/><stop offset="0.4" stop-color="#29af7f"/><stop offset="0.45" stop-color="#2cb17e"/><stop offset="0.5" stop-color="#2eb37c"/><stop offset="0.55" stop-color="#2fb47c"/><stop offset="0.6" stop-color="#31b57b"/><stop offset="0.65" stop-color="#31b57b"/><stop offset="0.7" stop-color="#31b57b"/><stop offset="0.75" stop-color="#31b57b"/><stop offset="0.8" stop-color="#31b57b"/><stop offset="0.85" stop-color="#31b57b"/><stop offset="0.9" stop-color="#31b57b"/><stop offset="0.95" stop-color="#2fb47c"/><stop offset="1" stop-color="#2eb37c"/></linearGradient>
<linearGradient id="g1_21"><stop offset="0" stop-color="#2fb47c"/><stop offset="0.05" stop-color="#2db27d"/><stop offset="0.1" stop-color="#2ab07f"/><stop offset="0.15" stop-color="#27ad81"/><stop offset="0.2" stop-color="#25ac82"/><stop offset="0.25" stop-color="#25ab82"/><stop offset="0.3" stop-color="#25ac82"/><stop offset="0.35" stop-color="#27ad81"/><stop offset="0.4" stop-color="#2ab07f"/><stop offset="0.45" stop-color="#2db27d"/><stop offset="0.5" stop-color="#2fb47c"/><stop offset="0.55" stop-color="#31b57b"/><stop offset="0.6" stop-color="#31b57b"/><stop offset="0.65" stop-color="#32b67a"/><stop offset="0.7" stop-color="#32b67a"/><stop offset="0.75" stop-color="#32b67a"/><stop offset="0.8" stop-color="#32b67a"/><stop offset="0.85" stop-color="#32b67a"/><stop offset="0.9" stop-color="#31b57b"/><stop offset="0.95" stop-color="#31b57b"/><stop offset="1" stop-color="#2fb47c"/></linearGradient>
<linearGradient id="g1_22"><stop offset="0" stop-color="#31b57b"/><stop offset="0.05" stop-color="#2eb37c"/><stop offset="0.1" stop-color="#2cb17e"/><stop offset="0.15" stop-color="#28ae80"/><stop offset="0.2" stop-color="#26ad81"/><stop offset="0.25" stop-color="#26ad81"/><stop offset="0.3" stop-color="#26ad81"/><stop offset="0.35" stop-color="#28ae80"/><stop offset="0.4" stop-color="#2cb17e"/><stop offset="0.45" stop-color="#2eb37c"/><stop offset="0.5" stop-color="#31b57b"/><stop offset="0.55" stop-color="#32b67a"/><stop offset="0.6" stop-color="#32b67a"/><stop offset="0.65" stop-color="#32b67a"/><stop offset="0.7" stop-color="#32b67a"/><stop offset="0.75" stop-color="#32b67a"/><stop offset="0.8" stop-color="#32b67a"/><stop offset="0.85" stop-color="#32b67a"/><stop offset="0.9" stop-color="#32b67a"/><stop offset="0.95" stop-color="#32b67a"/><stop offset="1" stop-color="#31b57b"/></linearGradient>
<linearGradient id="g1_23"><stop offset="0" stop-color="#32b67a"/><stop offset="0.05" stop-color="#2fb47c"/><stop offset="0.1" stop-color="#2db27d"/><stop offset="0.15" stop-color="#29af7f"/><stop offset="0.2" stop-color="#27ad81"/><stop offset="0.25" stop-color="#27ad81"/><stop offset="0.3" stop-color="#27ad81"/><stop offset="0.35" stop-color="#29af7f"/><stop offset="0.4" stop-color="#2db27d"/><stop offset="0.45" stop-color="#2fb47c"/><stop offset="0.5" stop-color="#32b67a"/><stop offset="0.55" stop-color="#34b679"/><stop offset="0.6" stop-color="#34b679"/><stop offset="0.65" stop-color="#34b679"/><stop offset="0.7" stop-color="#34b679"/><stop offset="0.75" stop-color="#34b679"/><stop offset="0.8" stop-color="#34b679"/><stop offset="0.85" stop-color="#34b679"/><stop offset="0.9" stop-color="#34b679"/><stop offset="0.95" stop-color="#34b679"/><stop offset="1" stop-color="#32b67a"/></linearGradient>
<linearGradient id="g1_24"><stop offset="0" stop-color="#34b679"/><stop offset="0.05" stop-color="#31b57b"/><stop offset="0.1" stop-color="#2eb37c"/><stop offset="0.15" stop-color="#2ab07f"/><stop offset="0.2" stop-color="#28ae80"/><stop offset="0.25" stop-color="#28ae80"/><stop offset="0.3" stop-color="#28ae80"/><stop offset="0.35" stop-color="#2ab07f"/><stop offset="0.4" stop-color="#2eb37c"/><stop offset="0.45" stop-color="#31b57b"/><stop offset="0.5" stop-color="#34b679"/><stop offset="0.55" stop-color="#35b779"/><stop offset="0.6" stop-color="#35b779"/><stop offset="0.65" stop-color="#35b779"/><stop offset="0.7" stop-color="#35b779"/><stop offset="0.75" stop-color="#35b779"/><stop offset="0.8" stop-color="#35b779"/><stop offset="0.85" stop-color="#35b779"/><stop offset="0.9" stop-color="#35b779"/><stop offset="0.95" stop-color="#35b779"/><stop offset="1" stop-color="#34b679"/></linearGradient>
<clipPath id="s2"><rect x="242.30" y="233.80" width="35.90" height="49.80"/></clipPath>
<clipPath id="c2"><rect x="39.45" y="395.10" width="178.45" height="49.80"/></clipPath>
<linearGradient id="g2_0"><stop offset="0" stop-color="#1e9b8a"/><stop offset="0.05" stop-color="#20928c"/><stop offset="0.1" stop-color="#238a8d"/><stop offset="0.15" stop-color="#26828e"/><stop offset="0.2" stop-color="#287c8e"/><stop offset="0.25" stop-color="#29798e"/><stop offset="0.3" stop-color="#287c8e"/><stop offset="0.35" stop-color="#26828e"/><stop offset="0.4" stop-color="#238a8d"/><stop offset="0.45" stop-color="#20928c"/><stop offset="0.5" stop-color="#1e9b8a"/><stop offset="0.55" stop-color="#1fa188"/><stop offset="0.6" stop-color="#20a386"/><stop offset="0.65" stop-color="#21a585"/><stop offset="0.7" stop-color="#21a585"/><stop offset="0.75" stop-color="#21a585"/><stop offset="0.8" stop-color="#21a585"/><stop offset="0.85" stop-color="#21a585"/><stop offset="0.9" stop-color="#20a386"/><stop offset="0.95" stop-color="#1fa188"/><stop offset="1" stop-color="#1e9b8a"/></linearGradient>
<linearGradient id="g2_1"><stop offset="0" stop-color="#1e9c89"/><stop offset="0.05" stop-color="#1f948c"/><stop offset="0.1" stop-color="#228c8d"/><stop offset="0.15" stop-color="#25838e"/><stop offset="0.2" stop-color="#277e8e"/><stop offset="0.25" stop-color="#287c8e"/><stop offset="0.3" stop-color="#277e8e"/><stop offset="0.35" stop-color="#25838e"/><stop offset="0.4" stop-color="#228c8d"/><stop offset="0.45" stop-color="#1f948c"/><stop offset="0.5" stop-color="#1e9c89"/><stop offset="0.55" stop-color="#1fa187"/><stop offset="0.6" stop-color="#20a486"/><stop offset="0.65" stop-color="#21a585"/><stop offset="0.7" stop-color="#21a685"/><stop offset="0.75" stop-color="#21a685"/><stop offset="0.8" stop-color="#21a685"/><stop offset="0.85" stop-color="#21a585"/><stop offset="0.9" stop-color="#20a486"/><stop offset="0.95" stop-color="#1fa187"/><stop offset="1" stop-color="#1e9c89"/></linearGradient>
<linearGradient id="g2_2"><stop offset="0" stop-color="#1f9e89"/><stop offset="0.05" stop-color="#1f968b"/><stop offset="0.1" stop-color="#218e8d"/><stop offset="0.15" stop-color="#24868e"/><stop offset="0.2" stop-color="#26818e"/><stop offset="0.25" stop-color="#277e8e"/><stop offset="0.3" stop-color="#26818e"/><stop offset="0.35" stop-color="#24868e"/><stop offset="0.4" stop-color="#218e8d"/><stop offset="0.45" stop-color="#1f968b"/><stop offset="0.5" stop-color="#1f9e89"/><stop offset="0.55" stop-color="#1fa287"/><stop offset="0.6" stop-color="#21a585"/><stop offset="0.65" stop-color="#21a685"/><stop offset="0.7" stop-color="#21a685"/><stop offset="0.75" stop-color="#21a685"/><stop offset="0.8" stop-color="#21a685"/><stop offset="0.85" stop-color="#21a685"/><stop offset="0.9" stop-color="#21a585"/><stop offset="0.95" stop-color="#1fa287"/><stop offset="1" stop-color="#1f9e89"/></linearGradient>
<linearGradient id="g2_3"><stop offset="0" stop-color="#1f9f88"/><stop offset="0.05" stop-color="#1f988b"/><stop offset="0.1" stop-color="#21918c"/><stop offset="0.15" stop-color="#23888e"/><stop offset="0.2" stop-color="#26828e"/><stop offset="0.25" stop-color="#26818e"/><stop offset="0.3" stop-color="#26828e"/><stop offset="0.35" stop-color="#23888e"/><stop offset="0.4" stop-color="#21918c"/><stop offset="0.45" stop-color="#1f988b"/><stop offset="0.5" stop-color="#1f9f88"/><stop offset="0.55" stop-color="#20a386"/><stop offset="0.6" stop-color="#21a685"/><stop offset="0.65" stop-color="#22a785"/><stop offset="0.7" stop-color="#22a785"/><stop offset="0.75" stop-color="#22a785"/><stop offset="0.8" stop-color="#22a785"/><stop offset="0.85" stop-color="#22a785"/><stop offset="0.9" stop-color="#21a685"/><stop offset="0.95" stop-color="#20a386"/><stop offset="1" stop-color="#1f9f88"/></linearGradient>
<linearGradient id="g2_4"><stop offset="0" stop-color="#1fa188"/><stop offset="0.05" stop-color="#1f9a8a"/><stop offset="0.1" stop-color="#20928c"/><stop offset="0.15" stop-color="#238a8d"/><stop offset="0.2" stop-color="#25848e"/><stop offset="0.25" stop-color="#26828e"/><stop offset="0.3" stop-color="#25848e"/><stop offset="0.35" stop-color="#238a8d"/><stop offset="0.4" stop-color="#20928c"/><stop offset="0.45" stop-color="#1f9a8a"/><stop offset="0.5" stop-color="#1fa188"/><stop offset="0.55" stop-color="#20a486"/><stop offset="0.6" stop-color="#22a785"/><stop offset="0.65" stop-color="#22a785"/><stop offset="0.7" stop-color="#22a785"/><stop offset="0.75" stop-color="#22a785"/><stop offset="0.8" stop-color="#22a785"/><stop offset="0.85" stop-color="#22a785"/><stop offset="0.9" stop-color="#22a785"/><stop offset="0.95" stop-color="#20a486"/><stop offset="1" stop-color="#1fa188"/></linearGradient>
<linearGradient id="g2_5"><stop offset="0" stop-color="#1fa187"/><stop offset="0.05" stop-color="#1e9c89"/><stop offset="0.1" stop-color="#20938c"/><stop offset="0.15" stop-color="#228c8d"/><stop offset="0.2" stop-color="#24868e"/><stop offset="0.25" stop-color="#25848e"/><stop offset="0.3" stop-color="#24868e"/><stop offset="0.35" stop-color="#228c8d"/><stop offset="0.4" stop-color="#20938c"/><stop offset="0.45" stop-color="#1e9c89"/><stop offset="0.5" stop-color="#1fa187"/><stop offset="0.55" stop-color="#21a585"/><stop offset="0.6" stop-color="#22a785"/><stop offset="0.65" stop-color="#22a884"/><stop offset="0.7" stop-color="#22a884"/><stop offset="0.75" stop-color="#22a884"/><stop offset="0.8" stop-color="#22a884"/><stop offset="0.85" stop-color="#22a884"/><stop offset="0.9" stop-color="#22a785"/><stop offset="0.95" stop-color="#21a585"/><stop offset="1" stop-color="#1fa187"/></linearGradient>
<linearGradient id="g2_6"><stop offset="0" stop-color="#1fa287"/><stop offset="0.05" stop-color="#1e9d89"/><stop offset="0.1" stop-color="#1f958b"/><stop offset="0.15" stop-color="#218e8d"/><stop offset="0.2" stop-color="#23888e"/><stop offset="0.25" stop-color="#24868e"/><stop offset="0.3" stop-color="#23888e"/><stop offset="0.35" stop-color="#218e8d"/><stop offset="0.4" stop-color="#1f958b"/><stop offset="0.45" stop-color="#1e9d89"/><stop offset="0.5" stop-color="#1fa287"/><stop offset="0.55" stop-color="#21a685"/><stop offset="0.6" stop-color="#22a884"/><stop offset="0.65" stop-color="#22a884"/><stop offset="0.7" stop-color="#23a983"/><stop offset="0.75" stop-color="#23a983"/><stop offset="0.8" stop-color="#23a983"/><stop offset="0.85" stop-color="#22a884"/><stop offset="0.9" stop-color="#22a884"/><stop offset="0.95" stop-color="#21a685"/><stop offset="1" stop-color="#1fa287"/></linearGradient>
<linearGradient id="g2_7"><stop offset="0" stop-color="#20a386"/><stop offset="0.05" stop-color="#1f9e89"/><stop offset="0.1" stop-color="#1f978b"/><stop offset="0.15" stop-color="#21908d"/><stop offset="0.2" stop-color="#238a8d"/><stop offset="0.25" stop-color="#23888e"/><stop offset="0.3" stop-color="#238a8d"/><stop offset="0.35" stop-color="#21908d"/><stop offset="0.4" stop-color="#1f978b"/><stop offset="0.45" stop-color="#1f9e89"/><stop offset="0.5" stop-color="#20a386"/><stop offset="0.55" stop-color="#22a785"/><stop offset="0.6" stop-color="#23a983"/><stop offset="0.65" stop-color="#23a983"/><stop offset="0.7" stop-color="#23a983"/><stop offset="0.75" stop-color="#23a983"/><stop offset="0.8" stop-color="#23a983"/><stop offset="0.85" stop-color="#23a983"/><stop offset="0.9" stop-color="#23a983"/><stop offset="0.95" stop-color="#22a785"/><stop offset="1" stop-color="#20a386"/></linearGradient>
<linearGradient id="g2_8"><stop offset="0" stop-color="#20a486"/><stop offset="0.05" stop-color="#1fa088"/><stop offset="0.1" stop-color="#1f998a"/><stop offset="0.15" stop-color="#20928c"/><stop offset="0.2" stop-color="#228c8d"/><stop offset="0.25" stop-color="#238a8d"/><stop offset="0.3" stop-color="#228c8d"/><stop offset="0.35" stop-color="#20928c"/><stop offset="0.4" stop-color="#1f998a"/><stop offset="0.45" stop-color="#1fa088"/><stop offset="0.5" stop-color="#20a486"/><stop offset="0.55" stop-color="#22a884"/><stop offset="0.6" stop-color="#23a983"/><stop offset="0.65" stop-color="#24aa83"/><stop offset="0.7" stop-color="#24aa83"/><stop offset="0.75" stop-color="#24aa83"/><stop offset="0.8" stop-color="#24aa83"/><stop offset="0.85" stop-color="#24aa83"/><stop offset="0.9" stop-color="#23a983"/><stop offset="0.95" stop-color="#22a884"/><stop offset="1" stop-color="#20a486"/></linearGradient>
<linearGradient id="g2_9"><stop offset="0" stop-color="#21a585"/><stop offset="0.05" stop-color="#1fa188"/><stop offset="0.1" stop-color="#1f9a8a"/><stop offset="0.15" stop-color="#20938c"/><stop offset="0.2" stop-color="#218e8d"/><stop offset="0.25" stop-color="#228c8d"/><stop offset="0.3" stop-color="#218e8d"/><stop offset="0.35" stop-color="#20938c"/><stop offset="0.4" stop-color="#1f9a8a"/><stop offset="0.45" stop-color="#1fa188"/><stop offset="0.5" stop-color="#21a585"/><stop offset="0.55" stop-color="#22a884"/><stop offset="0.6" stop-color="#24aa83"/><stop offset="0.65" stop-color="#24aa83"/><stop offset="0.7" stop-color="#24aa83"/><stop offset="0.75" stop-color="#24aa83"/><stop offset="0.8" stop-color="#24aa83"/><stop offset="0.85" stop-color="#24aa83"/><stop offset="0.9" stop-color="#24aa83"/><stop offset="0.95" stop-color="#22a884"/><stop offset="1" stop-color="#21a585"/></linearGradient>
<linearGradient id="g2_10"><stop offset="0" stop-color="#21a685"/><stop offset="0.05" stop-color="#1fa187"/><stop offset="0.1" stop-color="#1e9b8a"/><stop offset="0.15" stop-color="#1f948c"/><stop offset="0.2" stop-color="#21908d"/><stop offset="0.25" stop-color="#228d8d"/><stop offset="0.3" stop-color="#21908d"/><stop offset="0.35" stop-color="#1f948c"/><stop offset="0.4" stop-color="#1e9b8a"/><stop offset="0.45" stop-color="#1fa187"/><stop offset="0.5" stop-color="#21a685"/><stop offset="0.55" stop-color="#23a983"/><stop offset="0.6" stop-color="#24aa83"/><stop offset="0.65" stop-color="#25ab82"/><stop offset="0.7" stop-color="#25ab82"/><stop offset="0.75" stop-color="#25ab82"/><stop offset="0.8" stop-color="#25ab82"/><stop offset="0.85" stop-color="#25ab82"/><stop offset="0.9" stop-color="#24aa83"/><stop offset="0.95" stop-color="#23a983"/><stop offset="1" stop-color="#21a685"/></linearGradient>
<linearGradient id="g2_11"><stop offset="0" stop-color="#22a785"/><stop offset="0.05" stop-color="#1fa287"/><stop offset="0.1" stop-color="#1e9d89"/><stop offset="0.15" stop-color="#1f968b"/><stop offset="0.2" stop-color="#21918c"/><stop offset="0.25" stop-color="#218f8d"/><stop offset="0.3" stop-color="#21918c"/><stop offset="0.35" stop-color="#1f968b"/><stop offset="0.4" stop-color="#1e9d89"/><stop offset="0.45" stop-color="#1fa287"/><stop offset="0.5" stop-color="#22a785"/><stop offset="0.55" stop-color="#24aa83"/><stop offset="0.6" stop-color="#25ab82"/><stop offset="0.65" stop-color="#25ab82"/><stop offset="0.7" stop-color="#25ab82"/><stop offset="0.75" stop-color="#25ab82"/><stop offset="0.8" stop-color="#25ab82"/><stop offset="0.85" stop-color="#25ab82"/><stop offset="0.9" stop-color="#25ab82"/><stop offset="0.95" stop-color="#24aa83"/><stop offset="1" stop-color="#22a785"/></linearGradient>
<linearGradient id="g2_12"><stop offset="0" stop-color="#22a884"/><stop offset="0.05" stop-color="#20a386"/><stop offset="0.1" stop-color="#1f9e89"/><stop offset="0.15" stop-color="#1f978b"/><stop offset="0.2" stop-color="#20928c"/><stop offset="0.25" stop-color="#21918c"/><stop offset="0.3" stop-color="#20928c"/><stop offset="0.35" stop-color="#1f978b"/><stop offset="0.4" stop-color="#1f9e89"/><stop offset="0.45" stop-color="#20a386"/><stop offset="0.5" stop-color="#22a884"/><stop offset="0.55" stop-color="#24aa83"/><stop offset="0.6" stop-color="#25ab82"/><stop offset="0.65" stop-color="#25ab82"/><stop offset="0.7" stop-color="#25ab82"/><stop offset="0.75" stop-color="#25ab82"/><stop offset="0.8" stop-color="#25ab82"/><stop offset="0.85" stop-color="#25ab82"/><stop offset="0.9" stop-color="#25ab82"/><stop offset="0.95" stop-color="#24aa83"/><stop offset="1" stop-color="#22a884"/></linearGradient>
<linearGradient id="g2_13"><stop offset="0" stop-color="#23a983"/><stop offset="0.05" stop-color="#20a486"/><stop offset="0.1" stop-color="#1f9f88"/><stop offset="0.15" stop-color="#1f988b"/><stop offset="0.2" stop-color="#20938c"/><stop offset="0.25" stop-color="#20928c"/><stop offset="0.3" stop-color="#20938c"/><stop offset="0.35" stop-color="#1f988b"/><stop offset="0.4" stop-color="#1f9f88"/><stop offset="0.45" stop-color="#20a486"/><stop offset="0.5" stop-color="#23a983"/><stop offset="0.55" stop-color="#25ab82"/><stop offset="0.6" stop-color="#25ac82"/><stop offset="0.65" stop-color="#25ac82"/><stop offset="0.7" stop-color="#25ac82"/><stop offset="0.75" stop-color="#25ac82"/><stop offset="0.8" stop-color="#25ac82"/><stop offset="0.85" stop-color="#25ac82"/><stop offset="0.9" stop-color="#25ac82"/><stop offset="0.95" stop-color="#25ab82"/><stop offset="1" stop-color="#23a983"/></linearGradient>
<linearGradient id="g2_14"><stop offset="0" stop-color="#23a983"/><stop offset="0.05" stop-color="#21a585"/><stop offset="0.1" stop-color="#1fa088"/><stop offset="0.15" stop-color="#1f9a8a"/><stop offset="0.2" stop-color="#1f948c"/><stop offset="0.25" stop-color="#20928c"/><stop offset="0.3" stop-color="#1f948c"/><stop offset="0.35" stop-color="#1f9a8a"/><stop offset="0.4" stop-color="#1fa088"/><stop offset="0.45" stop-color="#21a585"/><stop offset="0.5" stop-color="#23a983"/><stop offset="0.55" stop-color="#25ab82"/><stop offset="0.6" stop-color="#25ac82"/><stop offset="0.65" stop-color="#25ac82"/><stop offset="0.7" stop-color="#25ac82"/><stop offset="0.75" stop-color="#25ac82"/><stop offset="0.8" stop-color="#25ac82"/><stop offset="0.85" stop-color="#25ac82"/><stop offset="0.9" stop-color="#25ac82"/><stop offset="0.95" stop-color="#25ab82"/><stop offset="1" stop-color="#23a983"/></linearGradient>
<linearGradient id="g2_15"><stop offset="0" stop-color="#24aa83"/><stop offset="0.05" stop-color="#21a685"/><stop offset="0.1" stop-color="#1fa188"/><stop offset="0.15" stop-color="#1e9b8a"/><stop offset="0.2" stop-color="#1f958b"/><stop offset="0.25" stop-color="#20938c"/><stop offset="0.3" stop-color="#1f958b"/><stop offset="0.35" stop-color="#1e9b8a"/><stop offset="0.4" stop-color="#1fa188"/><stop offset="0.45" stop-color="#21a685"/><stop offset="0.5" stop-color="#24aa83"/><stop offset="0.55" stop-color="#25ac82"/><stop offset="0.6" stop-color="#26ad81"/><stop offset="0.65" stop-color="#26ad81"/><stop offset="0.7" stop-color="#26ad81"/><stop offset="0.75" stop-color="#26ad81"/><stop offset="0.8" stop-color="#26ad81"/><stop offset="0.85" stop-color="#26ad81"/><stop offset="0.9" stop-color="#26ad81"/><stop offset="0.95" stop-color="#25ac82"/><stop offset="1" stop-color="#24aa83"/></linearGradient>
<linearGradient id="g2_16"><stop offset="0" stop-color="#25ab82"/><stop offset="0.05" stop-color="#22a785"/><stop offset="0.1" stop-color="#1fa187"/><stop offset="0.15" stop-color="#1e9c89"/><stop offset="0.2" stop-color="#1f978b"/><stop offset="0.25" stop-color="#1f958b"/><stop offset="0.3" stop-color="#1f978b"/><stop offset="0.35" stop-color="#1e9c89"/><stop offset="0.4" stop-color="#1fa187"/><stop offset="0.45" stop-color="#22a785"/><stop offset="0.5" stop-color="#25ab82"/><stop offset="0.55" stop-color="#25ac82"/><stop offset="0.6" stop-color="#26ad81"/><stop offset="0.65" stop-color="#26ad81"/><stop offset="0.7" stop-color="#26ad81"/><stop offset="0.75" stop-color="#26ad81"/><stop offset="0.8" stop-color="#26ad81"/><stop offset="0.85" stop-color="#26ad81"/><stop offset="0.9" stop-color="#26ad81"/><stop offset="0.95" stop-color="#25ac82"/><stop offset="1" stop-color="#25ab82"/></linearGradient>
<linearGradient id="g2_17"><stop offset="0" stop-color="#25ab82"/><stop offset="0.05" stop-color="#22a884"/><stop offset="0.1" stop-color="#1fa287"/><stop offset="0.15" stop-color="#1e9d89"/><stop offset="0.2" stop-color="#1f988b"/><stop offset="0.25" stop-color="#1f968b"/><stop offset="0.3" stop-color="#1f988b"/><stop offset="0.35" stop-color="#1e9d89"/><stop offset="0.4" stop-color="#1fa287"/><stop offset="0.45" stop-color="#22a884"/><stop offset="0.5" stop-color="#25ab82"/><stop offset="0.55" stop-color="#26ad81"/><stop offset="0.6" stop-color="#26ad81"/><stop offset="0.65" stop-color="#27ad81"/><stop offset="0.7" stop-color="#27ad81"/><stop offset="0.75" stop-color="#27ad81"/><stop offset="0.8" stop-color="#27ad81"/><stop offset="0.85" stop-color="#27ad81"/><stop offset="0.9" stop-color="#26ad81"/><stop offset="0.95" stop-color="#26ad81"/><stop offset="1" stop-color="#25ab82"/></linearGradient>
<linearGradient id="g2_18"><stop offset="0" stop-color="#25ac82"/><stop offset="0.05" stop-color="#22a884"/><stop offset="0.1" stop-color="#20a386"/><stop offset="0.15" stop-color="#1f9e89"/><stop offset="0.2" stop-color="#1f988b"/><stop offset="0.25" stop-color="#1f968b"/><stop offset="0.3" stop-color="#1f988b"/><stop offset="0.35" stop-color="#1f9e89"/><stop offset="0.4" stop-color="#20a386"/><stop offset="0.45" stop-color="#22a884"/><stop offset="0.5" stop-color="#25ac82"/><stop offset="0.55" stop-color="#26ad81"/><stop offset="0.6" stop-color="#27ad81"/><stop offset="0.65" stop-color="#27ad81"/><stop offset="0.7" stop-color="#27ad81"/><stop offset="0.75" stop-color="#27ad81"/><stop offset="0.8" stop-color="#27ad81"/><stop offset="0.85" stop-color="#27ad81"/><stop offset="0.9" stop-color="#27ad81"/><stop offset="0.95" stop-color="#26ad81"/><stop offset="1" stop-color="#25ac82"/></linearGradient>
<linearGradient id="g2_19"><stop offset="0" stop-color="#25ac82"/><stop offset="0.05" stop-color="#23a983"/><stop offset="0.1" stop-color="#20a486"/><stop offset="0.15" stop-color="#1f9e89"/><stop offset="0.2" stop-color="#1f998a"/><stop offset="0.25" stop-color="#1f978b"/><stop offset="0.3" stop-color="#1f998a"/><stop offset="0.35" stop-color="#1f9e89"/><stop offset="0.4" stop-color="#20a486"/><stop offset="0.45" stop-color="#23a983"/><stop offset="0.5" stop-color="#25ac82"/><stop offset="0.55" stop-color="#27ad81"/><stop offset="0.6" stop-color="#27ad81"/><stop offset="0.65" stop-color="#27ad81"/><stop offset="0.7" stop-color="#27ad81"/><stop offset="0.75" stop-color="#27ad81"/><stop offset="0.8" stop-color="#27ad81"/><stop offset="0.85" stop-color="#27ad81"/><stop offset="0.9" stop-color="#27ad81"/><stop offset="0.95" stop-color="#27ad81"/><stop offset="1" stop-color="#25ac82"/></linearGradient>
<linearGradient id="g2_20"><stop offset="0" stop-color="#26ad81"/><stop offset="0.05" stop-color="#24aa83"/><stop offset="0.1" stop-color="#20a486"/><stop offset="0.15" stop-color="#1f9f88"/><stop offset="0.2" stop-color="#1f9a8a"/><stop offset="0.25" stop-color="#1f988b"/><stop offset="0.3" stop-color="#1f9a8a"/><stop offset="0.35" stop-color="#1f9f88"/><stop offset="0.4" stop-color="#20a486"/><stop offset="0.45" stop-color="#24aa83"/><stop offset="0.5" stop-color="#26ad81"/><stop offset="0.55" stop-color="#27ad81"/><stop offset="0.6" stop-color="#28ae80"/><stop offset="0.65" stop-color="#28ae80"/><stop offset="0.7" stop-color="#28ae80"/><stop offset="0.75" stop-color="#28ae80"/><stop offset="0.8" stop-color="#28ae80"/><stop offset="0.85" stop-color="#28ae80"/><stop offset="0.9" stop-color="#28ae80"/><stop offset="0.95" stop-color="#27ad81"/><stop offset="1" stop-color="#26ad81"/></linearGradient>
<linearGradient id="g2_21"><stop offset="0" stop-color="#26ad81"/><stop offset="0.05" stop-color="#24aa83"/><stop offset="0.1" stop-color="#21a585"/><stop offset="0.15" stop-color="#1fa088"/><stop offset="0.2" stop-color="#1e9b8a"/><stop offset="0.25" stop-color="#1f998a"/><stop offset="0.3" stop-color="#1e9b8a"/><stop offset="0.35" stop-color="#1fa088"/><stop offset="0.4" stop-color="#21a585"/><stop offset="0.45" stop-color="#24aa83"/><stop offset="0.5" stop-color="#26ad81"/><stop offset="0.55" stop-color="#27ad81"/><stop offset="0.6" stop-color="#28ae80"/><stop offset="0.65" stop-color="#28ae80"/><stop offset="0.7" stop-color="#28ae80"/><stop offset="0.75" stop-color="#28ae80"/><stop offset="0.8" stop-color="#28ae80"/><stop offset="0.85" stop-color="#28ae80"/><stop offset="0.9" stop-color="#28ae80"/><stop offset="0.95" stop-color="#27ad81"/><stop offset="1" stop-color="#26ad81"/></linearGradient>
<linearGradient id="g2_22"><stop offset="0" stop-color="#27ad81"/><stop offset="0.05" stop-color="#25ab82"/><stop offset="0.1" stop-color="#21a685"/><stop offset="0.15" stop-color="#1fa088"/><stop offset="0.2" stop-color="#1e9b8a"/><stop offset="0.25" stop-color="#1f998a"/><stop offset="0.3" stop-color="#1e9b8a"/><stop offset="0.35" stop-color="#1fa088"/><stop offset="0.4" stop-color="#21a685"/><stop offset="0.45" stop-color="#25ab82"/><stop offset="0.5" stop-color="#27ad81"/><stop offset="0.55" stop-color="#28ae80"/><stop offset="0.6" stop-color="#28ae80"/><stop offset="0.65" stop-color="#28ae80"/><stop offset="0.7" stop-color="#28ae80"/><stop offset="0.75" stop-color="#28ae80"/><stop offset="0.8" stop-color="#28ae80"/><stop offset="0.85" stop-color="#28ae80"/><stop offset="0.9" stop-color="#28ae80"/><stop offset="0.95" stop-color="#28ae80"/><stop offset="1" stop-color="#27ad81"/></linearGradient>
<linearGradient id="g2_23"><stop offset="0" stop-color="#27ad81"/><stop offset="0.05" stop-color="#25ab82"/><stop offset="0.1" stop-color="#21a685"/><stop offset="0.15" stop-color="#1fa188"/><stop offset="0.2" stop-color="#1e9c89"/><stop offset="0.25" stop-color="#1f998a"/><stop offset="0.3" stop-color="#1e9c89"/><stop offset="0.35" stop-color="#1fa188"/><stop offset="0.4" stop-color="#21a685"/><stop offset="0.45" stop-color="#25ab82"/><stop offset="0.5" stop-color="#27ad81"/><stop offset="0.55" stop-color="#28ae80"/><stop offset="0.6" stop-color="#28ae80"/><stop offset="0.65" stop-color="#29af7f"/><stop offset="0.7" stop-color="#29af7f"/><stop offset="0.75" stop-color="#29af7f"/><stop offset="0.8" stop-color="#29af7f"/><stop offset="0.85" stop-color="#29af7f"/><stop offset="0.9" stop-color="#28ae80"/><stop offset="0.95" stop-color="#28ae80"/><stop offset="1" stop-color="#27ad81"/></linearGradient>
<linearGradient id="g2_24"><stop offset="0" stop-color="#27ad81"/><stop offset="0.05" stop-color="#25ac82"/><stop offset="0.1" stop-color="#22a785"/><stop offset="0.15" stop-color="#1fa188"/><stop offset="0.2" stop-color="#1e9c89"/><stop offset="0.25" stop-color="#1f9a8a"/><stop offset="0.3" stop-color="#1e9c89"/><stop offset="0.35" stop-color="#1fa188"/><stop offset="0.4" stop-color="#22a785"/><stop offset="0.45" stop-color="#25ac82"/><stop offset="0.5" stop-color="#27ad81"/><stop offset="0.55" stop-color="#28ae80"/><stop offset="0.6" stop-color="#29af7f"/><stop offset="0.65" stop-color="#29af7f"/><stop offset="0.7" stop-color="#29af7f"/><stop offset="0.75" stop-color="#29af7f"/><stop offset="0.8" stop-color="#29af7f"/><stop offset="0.85" stop-color="#29af7f"/><stop offset="0.9" stop-color="#29af7f"/><stop offset="0.95" stop-color="#28ae80"/><stop offset="1" stop-color="#27ad81"/></linearGradient>
<clipPath id="s3"><rect x="242.30" y="395.10" width="35.90" height="49.80"/></clipPath>
<clipPath id="c3"><rect x="388.45" y="72.50" width="178.45" height="49.80"/></clipPath>
<linearGradient id="g3_0"><stop offset="0" stop-color="#1fa088"/><stop offset="0.05" stop-color="#1f968b"/><stop offset="0.1" stop-color="#228c8d"/><stop offset="0.15" stop-color="#26818e"/><stop offset="0.2" stop-color="#29798e"/><stop offset="0.25" stop-color="#2b758e"/><stop offset="0.3" stop-color="#29798e"/><stop offset="0.35" stop-color="#26818e"/><stop offset="0.4" stop-color="#228c8d"/><stop offset="0.45" stop-color="#1f968b"/><stop offset="0.5" stop-color="#1fa088"/><stop offset="0.55" stop-color="#21a585"/><stop offset="0.6" stop-color="#22a884"/><stop offset="0.65" stop-color="#23a983"/><stop offset="0.7" stop-color="#23a983"/><stop offset="0.75" stop-color="#23a983"/><stop offset="0.8" stop-color="#23a983"/><stop offset="0.85" stop-color="#23a983"/><stop offset="0.9" stop-color="#22a884"/><stop offset="0.95" stop-color="#21a585"/><stop offset="1" stop-color="#1fa088"/></linearGradient>
<linearGradient id="g3_1"><stop offset="0" stop-color="#1fa088"/><stop offset="0.05" stop-color="#1f988b"/><stop offset="0.1" stop-color="#218e8d"/><stop offset="0.15" stop-color="#25838e"/><stop offset="0.2" stop-color="#287c8e"/><stop offset="0.25" stop-color="#29798e"/><stop offset="0.3" stop-color="#287c8e"/><stop offset="0.35" stop-color="#25838e"/><stop offset="0.4" stop-color="#218e8d"/><stop offset="0.45" stop-color="#1f988b"/><stop offset="0.5" stop-color="#1fa088"/><stop offset="0.55" stop-color="#21a585"/><stop offset="0.6" stop-color="#22a884"/><stop offset="0.65" stop-color="#23a983"/><stop offset="0.7" stop-color="#23a983"/><stop offset="0.75" stop-color="#23a983"/><stop offset="0.8" stop-color="#23a983"/><stop offset="0.85" stop-color="#23a983"/><stop offset="0.9" stop-color="#22a884"/><stop offset="0.95" stop-color="#21a585"/><stop offset="1" stop-color="#1fa088"/></linearGradient>
<linearGradient id="g3_2"><stop offset="0" stop-color="#1fa188"/><stop offset="0.05" stop-color="#1f998a"/><stop offset="0.1" stop-color="#21908d"/><stop offset="0.15" stop-color="#24868e"/><stop offset="0.2" stop-color="#277f8e"/><stop offset="0.25" stop-color="#287c8e"/><stop offset="0.3" stop-color="#277f8e"/><stop offset="0.35" stop-color="#24868e"/><stop offset="0.4" stop-color="#21908d"/><stop offset="0.45" stop-color="#1f998a"/><stop offset="0.5" stop-color="#1fa188"/><stop offset="0.55" stop-color="#21a585"/><stop offset="0.6" stop-color="#22a884"/><stop offset="0.65" stop-color="#23a983"/><stop offset="0.7" stop-color="#23a983"/><stop offset="0.75" stop-color="#23a983"/><stop offset="0.8" stop-color="#23a983"/><stop offset="0.85" stop-color="#23a983"/><stop offset="0.9" stop-color="#22a884"/><stop offset="0.95" stop-color="#21a585"/><stop offset="1" stop-color="#1fa188"/></linearGradient>
<linearGradient id="g3_3"><stop offset="0" stop-color="#1fa187"/><stop offset="0.05" stop-color="#1f9a8a"/><stop offset="0.1" stop-color="#20928c"/><stop offset="0.15" stop-color="#23888e"/><stop offset="0.2" stop-color="#26828e"/><stop offset="0.25" stop-color="#277f8e"/><stop offset="0.3" stop-color="#26828e"/><stop offset="0.35" stop-color="#23888e"/><stop offset="0.4" stop-color="#20928c"/><stop offset="0.45" stop-color="#1f9a8a"/><stop offset="0.5" stop-color="#1fa187"/><stop offset="0.55" stop-color="#21a685"/><stop offset="0.6" stop-color="#22a884"/><stop offset="0.65" stop-color="#23a983"/><stop offset="0.7" stop-color="#23a983"/><stop offset="0.75" stop-color="#23a983"/><stop offset="0.8" stop-color="#23a983"/><stop offset="0.85" stop-color="#23a983"/><stop offset="0.9" stop-color="#22a884"/><stop offset="0.95" stop-color="#21a685"/><stop offset="1" stop-color="#1fa187"/></linearGradient>
<linearGradient id="g3_4"><stop offset="0" stop-color="#1fa287"/><stop offset="0.05" stop-color="#1e9b8a"/><stop offset="0.1" stop-color="#20928c"/><stop offset="0.15" stop-color="#238a8d"/><stop offset="0.2" stop-color="#25838e"/><stop offset="0.25" stop-color="#26828e"/><stop offset="0.3" stop-color="#25838e"/><stop offset="0.35" stop-color="#238a8d"/><stop offset="0.4" stop-color="#20928c"/><stop offset="0.45" stop-color="#1e9b8a"/><stop offset="0.5" stop-color="#1fa287"/><stop offset="0.55" stop-color="#21a685"/><stop offset="0.6" stop-color="#22a884"/><stop offset="0.65" stop-color="#23a983"/><stop offset="0.7" stop-color="#23a983"/><stop offset="0.75" stop-color="#23a983"/><stop offset="0.8" stop-color="#23a983"/><stop offset="0.85" stop-color="#23a983"/><stop offset="0.9" stop-color="#22a884"/><stop offset="0.95" stop-color="#21a685"/><stop offset="1" stop-color="#1fa287"/></linearGradient>
<linearGradient id="g3_5"><stop offset="0" stop-color="#1fa287"/><stop offset="0.05" stop-color="#1e9c89"/><stop offset="0.1" stop-color="#1f948c"/><stop offset="0.15" stop-color="#228c8d"/><stop offset="0.2" stop-color="#25858e"/><stop offset="0.25" stop-color="#25838e"/><stop offset="0.3" stop-color="#25858e"/><stop offset="0.35" stop-color="#228c8d"/><stop offset="0.4" stop-color="#1f948c"/><stop offset="0.45" stop-color="#1e9c89"/><stop offset="0.5" stop-color="#1fa287"/><stop offset="0.55" stop-color="#21a685"/><stop offset="0.6" stop-color="#23a983"/><stop offset="0.65" stop-color="#23a983"/><stop offset="0.7" stop-color="#23a983"/><stop offset="0.75" stop-color="#23a983"/><stop offset="0.8" stop-color="#23a983"/><stop offset="0.85" stop-color="#23a983"/><stop offset="0.9" stop-color="#23a983"/><stop offset="0.95" stop-color="#21a685"/><stop offset="1" stop-color="#1fa287"/></linearGradient>
<linearGradient id="g3_6"><stop offset="0" stop-color="#20a386"/><stop offset="0.05" stop-color="#1e9d89"/><stop offset="0.1" stop-color="#1f958b"/><stop offset="0.15" stop-color="#228d8d"/><stop offset="0.2" stop-color="#24878e"/><stop offset="0.25" stop-color="#25858e"/><stop offset="0.3" stop-color="#24878e"/><stop offset="0.35" stop-color="#228d8d"/><stop offset="0.4" stop-color="#1f958b"/><stop offset="0.45" stop-color="#1e9d89"/><stop offset="0.5" stop-color="#20a386"/><stop offset="0.55" stop-color="#22a785"/><stop offset="0.6" stop-color="#23a983"/><stop offset="0.65" stop-color="#23a983"/><stop offset="0.7" stop-color="#23a983"/><stop offset="0.75" stop-color="#23a983"/><stop offset="0.8" stop-color="#23a983"/><stop offset="0.85" stop-color="#23a983"/><stop offset="0.9" stop-color="#23a983"/><stop offset="0.95" stop-color="#22a785"/><stop offset="1" stop-color="#20a386"/></linearGradient>
<linearGradient id="g3_7"><stop offset="0" stop-color="#20a386"/><stop offset="0.05" stop-color="#1f9e89"/><stop offset="0.1" stop-color="#1f968b"/><stop offset="0.15" stop-color="#218f8d"/><stop offset="0.2" stop-color="#23898e"/><stop offset="0.25" stop-color="#24878e"/><stop offset="0.3" stop-color="#23898e"/><stop offset="0.35" stop-color="#218f8d"/><stop offset="0.4" stop-color="#1f968b"/><stop offset="0.45" stop-color="#1f9e89"/><stop offset="0.5" stop-color="#20a386"/><stop offset="0.55" stop-color="#22a785"/><stop offset="0.6" stop-color="#23a983"/><stop offset="0.65" stop-color="#23a983"/><stop offset="0.7" stop-color="#23a983"/><stop offset="0.75" stop-color="#24aa83"/><stop offset="0.8" stop-color="#23a983"/><stop offset="0.85" stop-color="#23a983"/><stop offset="0.9" stop-color="#23a983"/><stop offset="0.95" stop-color="#22a785"/><stop offset="1" stop-color="#20a386"/></linearGradient>
<linearGradient id="g3_8"><stop offset="0" stop-color="#20a386"/><stop offset="0.05" stop-color="#1f9e89"/><stop offset="0.1" stop-color="#1f978b"/><stop offset="0.15" stop-color="#21908d"/><stop offset="0.2" stop-color="#238a8d"/><stop offset="0.25" stop-color="#23888e"/><stop offset="0.3" stop-color="#238a8d"/><stop offset="0.35" stop-color="#21908d"/><stop offset="0.4" stop-color="#1f978b"/><stop offset="0.45" stop-color="#1f9e89"/><stop offset="0.5" stop-color="#20a386"/><stop offset="0.55" stop-color="#22a785"/><stop offset="0.6" stop-color="#23a983"/><stop offset="0.65" stop-color="#23a983"/><stop offset="0.7" stop-color="#24aa83"/><stop offset="0.75" stop-color="#24aa83"/><stop offset="0.8" stop-color="#24aa83"/><stop offset="0.85" stop-color="#23a983"/><stop offset="0.9" stop-color="#23a983"/><stop offset="0.95" stop-color="#22a785"/><stop offset="1" stop-color="#20a386"/></linearGradient>
<linearGradient id="g3_9"><stop offset="0" stop-color="#20a486"/><stop offset="0.05" stop-color="#1f9f88"/><stop offset="0.1" stop-color="#1f978b"/><stop offset="0.15" stop-color="#21918c"/><stop offset="0.2" stop-color="#228b8d"/><stop offset="0.25" stop-color="#23898e"/><stop offset="0.3" stop-color="#228b8d"/><stop offset="0.35" stop-color="#21918c"/><stop offset="0.4" stop-color="#1f978b"/><stop offset="0.45" stop-color="#1f9f88"/><stop offset="0.5" stop-color="#20a486"/><stop offset="0.55" stop-color="#22a785"/><stop offset="0.6" stop-color="#23a983"/><stop offset="0.65" stop-color="#24aa83"/><stop offset="0.7" stop-color="#24aa83"/><stop offset="0.75" stop-color="#24aa83"/><stop offset="0.8" stop-color="#24aa83"/><stop offset="0.85" stop-color="#24aa83"/><stop offset="0.9" stop-color="#23a983"/><stop offset="0.95" stop-color="#22a785"/><stop offset="1" stop-color="#20a486"/></linearGradient>
<linearGradient id="g3_10"><stop offset="0" stop-color="#20a486"/><stop offset="0.05" stop-color="#1f9f88"/><stop offset="0.1" stop-color="#1f988b"/><stop offset="0.15" stop-color="#21918c"/><stop offset="0.2" stop-color="#228c8d"/><stop offset="0.25" stop-color="#238a8d"/><stop offset="0.3" stop-color="#228c8d"/><stop offset="0.35" stop-color="#21918c"/><stop offset="0.4" stop-color="#1f988b"/><stop offset="0.45" stop-color="#1f9f88"/><stop offset="0.5" stop-color="#20a486"/><stop offset="0.55" stop-color="#22a785"/><stop offset="0.6" stop-color="#23a983"/><stop offset="0.65" stop-color="#24aa83"/><stop offset="0.7" stop-color="#24aa83"/><stop offset="0.75" stop-color="#24aa83"/><stop offset="0.8" stop-color="#24aa83"/><stop offset="0.85" stop-color="#24aa83"/><stop offset="0.9" stop-color="#23a983"/><stop offset="0.95" stop-color="#22a785"/><stop offset="1" stop-color="#20a486"/></linearGradient>
<linearGradient id="g3_11"><stop offset="0" stop-color="#20a486"/><stop offset="0.05" stop-color="#1f9f88"/><stop offset="0.1" stop-color="#1f988b"/><stop offset="0.15" stop-color="#20928c"/><stop offset="0.2" stop-color="#228c8d"/><stop offset="0.25" stop-color="#238a8d"/><stop offset="0.3" stop-color="#228c8d"/><stop offset="0.35" stop-color="#20928c"/><stop offset="0.4" stop-color="#1f988b"/><stop offset="0.45" stop-color="#1f9f88"/><stop offset="0.5" stop-color="#20a486"/><stop offset="0.55" stop-color="#22a884"/><stop offset="0.6" stop-color="#23a983"/><stop offset="0.65" stop-color="#24aa83"/><stop offset="0.7" stop-color="#24aa83"/><stop offset="0.75" stop-color="#24aa83"/><stop offset="0.8" stop-color="#24aa83"/><stop offset="0.85" stop-color="#24aa83"/><stop offset="0.9" stop-color="#23a983"/><stop offset="0.95" stop-color="#22a884"/><stop offset="1" stop-color="#20a486"/></linearGradient>
<linearGradient id="g3_12"><stop offset="0" stop-color="#20a486"/><stop offset="0.05" stop-color="#1fa088"/><stop offset="0.1" stop-color="#1f988b"/><stop offset="0.15" stop-color="#20928c"/><stop offset="0.2" stop-color="#228c8d"/><stop offset="0.25" stop-color="#238a8d"/><stop offset="0.3" stop-color="#228c8d"/><stop offset="0.35" stop-color="#20928c"/><stop offset="0.4" stop-color="#1f988b"/><stop offset="0.45" stop-color="#1fa088"/><stop offset="0.5" stop-color="#20a486"/><stop offset="0.55" stop-color="#22a884"/><stop offset="0.6" stop-color="#23a983"/><stop offset="0.65" stop-color="#24aa83"/><stop offset="0.7" stop-color="#24aa83"/><stop offset="0.75" stop-color="#24aa83"/><stop offset="0.8" stop-color="#24aa83"/><stop offset="0.85" stop-color="#24aa83"/><stop offset="0.9" stop-color="#23a983"/><stop offset="0.95" stop-color="#22a884"/><stop offset="1" stop-color="#20a486"/></linearGradient>
<linearGradient id="g3_13"><stop offset="0" stop-color="#20a486"/><stop offset="0.05" stop-color="#1fa088"/><stop offset="0.1" stop-color="#1f988b"/><stop offset="0.15" stop-color="#20928c"/><stop offset="0.2" stop-color="#228c8d"/><stop offset="0.25" stop-color="#238a8d"/><stop offset="0.3" stop-color="#228c8d"/><stop offset="0.35" stop-color="#20928c"/><stop offset="0.4" stop-color="#1f988b"/><stop offset="0.45" stop-color="#1fa088"/><stop offset="0.5" stop-color="#20a486"/><stop offset="0.55" stop-color="#22a884"/><stop offset="0.6" stop-color="#23a983"/><stop offset="0.65" stop-color="#24aa83"/><stop offset="0.7" stop-color="#24aa83"/><stop offset="0.75" stop-color="#24aa83"/><stop offset="0.8" stop-color="#24aa83"/><stop offset="0.85" stop-color="#24aa83"/><stop offset="0.9" stop-color="#23a983"/><stop offset="0.95" stop-color="#22a884"/><stop offset="1" stop-color="#20a486"/></linearGradient>
<linearGradient id="g3_14"><stop offset="0" stop-color="#20a486"/><stop offset="0.05" stop-color="#1f9f88"/><stop offset="0.1" stop-color="#1f988b"/><stop offset="0.15" stop-color="#21918c"/><stop offset="0.2" stop-color="#228b8d"/><stop offset="0.25" stop-color="#23898e"/><stop offset="0.3" stop-color="#228b8d"/><stop offset="0.35" stop-color="#21918c"/><stop offset="0.4" stop-color="#1f988b"/><stop offset="0.45" stop-color="#1f9f88"/><stop offset="0.5" stop-color="#20a486"/><stop offset="0.55" stop-color="#22a884"/><stop offset="0.6" stop-color="#23a983"/><stop offset="0.65" stop-color="#24aa83"/><stop offset="0.7" stop-color="#24aa83"/><stop offset="0.75" stop-color="#24aa83"/><stop offset="0.8" stop-color="#24aa83"/><stop offset="0.85" stop-color="#24aa83"/><stop offset="0.9" stop-color="#23a983"/><stop offset="0.95" stop-color="#22a884"/><stop offset="1" stop-color="#20a486"/></linearGradient>
<linearGradient id="g3_15"><stop offset="0" stop-color="#20a486"/><stop offset="0.05" stop-color="#1f9f88"/><stop offset="0.1" stop-color="#1f978b"/><stop offset="0.15" stop-color="#21908d"/><stop offset="0.2" stop-color="#238a8d"/><stop offset="0.25" stop-color="#23888e"/><stop offset="0.3" stop-color="#238a8d"/><stop offset="0.35" stop-color="#21908d"/><stop offset="0.4" stop-color="#1f978b"/><stop offset="0.45" stop-color="#1f9f88"/><stop offset="0.5" stop-color="#20a486"/><stop offset="0.55" stop-color="#22a884"/><stop offset="0.6" stop-color="#23a983"/><stop offset="0.65" stop-color="#24aa83"/><stop offset="0.7" stop-color="#24aa83"/><stop offset="0.75" stop-color="#24aa83"/><stop offset="0.8" stop-color="#24aa83"/><stop offset="0.85" stop-color="#24aa83"/><stop offset="0.9" stop-color="#23a983"/><stop offset="0.95" stop-color="#22a884"/><stop offset="1" stop-color="#20a486"/></linearGradient>
<linearGradient id="g3_16"><stop offset="0" stop-color="#20a486"/><stop offset="0.05" stop-color="#1f9f88"/><stop offset="0.1" stop-color="#1f978b"/><stop offset="0.15" stop-color="#21908d"/><stop offset="0.2" stop-color="#23898e"/><stop offset="0.25" stop-color="#24878e"/><stop offset="0.3" stop-color="#23898e"/><stop offset="0.35" stop-color="#21908d"/><stop offset="0.4" stop-color="#1f978b"/><stop offset="0.45" stop-color="#1f9f88"/><stop offset="0.5" stop-color="#20a486"/><stop offset="0.55" stop-color="#22a884"/><stop offset="0.6" stop-color="#23a983"/><stop offset="0.65" stop-color="#24aa83"/><stop offset="0.7" stop-color="#24aa83"/><stop offset="0.75" stop-color="#24aa83"/><stop offset="0.8" stop-color="#24aa83"/><stop offset="0.85" stop-color="#24aa83"/><stop offset="0.9" stop-color="#23a983"/><stop offset="0.95" stop-color="#22a884"/><stop offset="1" stop-color="#20a486"/></linearGradient>
<linearGradient id="g3_17"><stop offset="0" stop-color="#20a486"/><stop offset="0.05" stop-color="#1f9f88"/><stop offset="0.1" stop-color="#1f968b"/><stop offset="0.15" stop-color="#218e8d"/><stop offset="0.2" stop-color="#23888e"/><stop offset="0.25" stop-color="#25858e"/><stop offset="0.3" stop-color="#23888e"/><stop offset="0.35" stop-color="#218e8d"/><stop offset="0.4" stop-color="#1f968b"/><stop offset="0.45" stop-color="#1f9f88"/><stop offset="0.5" stop-color="#20a486"/><stop offset="0.55" stop-color="#22a884"/><stop offset="0.6" stop-color="#23a983"/><stop offset="0.65" stop-color="#24aa83"/><stop offset="0.7" stop-color="#24aa83"/><stop offset="0.75" stop-color="#24aa83"/><stop offset="0.8" stop-color="#24aa83"/><stop offset="0.85" stop-color="#24aa83"/><stop offset="0.9" stop-color="#23a983"/><stop offset="0.95" stop-color="#22a884"/><stop offset="1" stop-color="#20a486"/></linearGradient>
<linearGradient id="g3_18"><stop offset="0" stop-color="#20a486"/><stop offset="0.05" stop-color="#1f9e89"/><stop offset="0.1" stop-color="#1f958b"/><stop offset="0.15" stop-color="#228d8d"/><stop offset="0.2" stop-color="#24868e"/><stop offset="0.25" stop-color="#25838e"/><stop offset="0.3" stop-color="#24868e"/><stop offset="0.35" stop-color="#228d8d"/><stop offset="0.4" stop-color="#1f958b"/><stop offset="0.45" stop-color="#1f9e89"/><stop offset="0.5" stop-color="#20a486"/><stop offset="0.55" stop-color="#22a884"/><stop offset="0.6" stop-color="#23a983"/><stop offset="0.65" stop-color="#24aa83"/><stop offset="0.7" stop-color="#24aa83"/><stop offset="0.75" stop-color="#24aa83"/><stop offset="0.8" stop-color="#24aa83"/><stop offset="0.85" stop-color="#24aa83"/><stop offset="0.9" stop-color="#23a983"/><stop offset="0.95" stop-color="#22a884"/><stop offset="1" stop-color="#20a486"/></linearGradient>
<linearGradient id="g3_19"><stop offset="0" stop-color="#20a386"/><stop offset="0.05" stop-color="#1e9d89"/><stop offset="0.1" stop-color="#1f948c"/><stop offset="0.15" stop-color="#228b8d"/><stop offset="0.2" stop-color="#25848e"/><stop offset="0.25" stop-color="#26828e"/><stop offset="0.3" stop-color="#25848e"/><stop offset="0.35" stop-color="#228b8d"/><stop offset="0.4" stop-color="#1f948c"/><stop offset="0.45" stop-color="#1e9d89"/><stop offset="0.5" stop-color="#20a386"/><stop offset="0.55" stop-color="#22a884"/><stop offset="0.6" stop-color="#23a983"/><stop offset="0.65" stop-color="#24aa83"/><stop offset="0.7" stop-color="#24aa83"/><stop offset="0.75" stop-color="#24aa83"/><stop offset="0.8" stop-color="#24aa83"/><stop offset="0.85" stop-color="#24aa83"/><stop offset="0.9" stop-color="#23a983"/><stop offset="0.95" stop-color="#22a884"/><stop offset="1" stop-color="#20a386"/></linearGradient>
<linearGradient id="g3_20"><stop offset="0" stop-color="#20a386"/><stop offset="0.05" stop-color="#1e9d89"/><stop offset="0.1" stop-color="#20938c"/><stop offset="0.15" stop-color="#23898e"/><stop offset="0.2" stop-color="#26828e"/><stop offset="0.25" stop-color="#27808e"/><stop offset="0.3" stop-color="#26828e"/><stop offset="0.35" stop-color="#23898e"/><stop offset="0.4" stop-color="#20938c"/><stop offset="0.45" stop-color="#1e9d89"/><stop offset="0.5" stop-color="#20a386"/><stop offset="0.55" stop-color="#22a785"/><stop offset="0.6" stop-color="#23a983"/><stop offset="0.65" stop-color="#24aa83"/><stop offset="0.7" stop-color="#24aa83"/><stop offset="0.75" stop-color="#24aa83"/><stop offset="0.8" stop-color="#24aa83"/><stop offset="0.85" stop-color="#24aa83"/><stop offset="0.9" stop-color="#23a983"/><stop offset="0.95" stop-color="#22a785"/><stop offset="1" stop-color="#20a386"/></linearGradient>
<linearGradient id="g3_21"><stop offset="0" stop-color="#20a386"/><stop offset="0.05" stop-color="#1e9c89"/><stop offset="0.1" stop-color="#20928c"/><stop offset="0.15" stop-color="#24878e"/><stop offset="0.2" stop-color="#27808e"/><stop offset="0.25" stop-color="#287d8e"/><stop offset="0.3" stop-color="#27808e"/><stop offset="0.35" stop-color="#24878e"/><stop offset="0.4" stop-color="#20928c"/><stop offset="0.45" stop-color="#1e9c89"/><stop offset="0.5" stop-color="#20a386"/><stop offset="0.55" stop-color="#22a785"/><stop offset="0.6" stop-color="#23a983"/><stop offset="0.65" stop-color="#24aa83"/><stop offset="0.7" stop-color="#24aa83"/><stop offset="0.75" stop-color="#24aa83"/><stop offset="0.8" stop-color="#24aa83"/><stop offset="0.85" stop-color="#24aa83"/><stop offset="0.9" stop-color="#23a983"/><stop offset="0.95" stop-color="#22a785"/><stop offset="1" stop-color="#20a386"/></linearGradient>
<linearGradient id="g3_22"><stop offset="0" stop-color="#1fa287"/><stop offset="0.05" stop-color="#1e9b8a"/><stop offset="0.1" stop-color="#21918c"/><stop offset="0.15" stop-color="#25858e"/><stop offset="0.2" stop-color="#287d8e"/><stop offset="0.25" stop-color="#297a8e"/><stop offset="0.3" stop-color="#287d8e"/><stop offset="0.35" stop-color="#25858e"/><stop offset="0.4" stop-color="#21918c"/><stop offset="0.45" stop-color="#1e9b8a"/><stop offset="0.5" stop-color="#1fa287"/><stop offset="0.55" stop-color="#22a785"/><stop offset="0.6" stop-color="#23a983"/><stop offset="0.65" stop-color="#24aa83"/><stop offset="0.7" stop-color="#24aa83"/><stop offset="0.75" stop-color="#24aa83"/><stop offset="0.8" stop-color="#24aa83"/><stop offset="0.85" stop-color="#24aa83"/><stop offset="0.9" stop-color="#23a983"/><stop offset="0.95" stop-color="#22a785"/><stop offset="1" stop-color="#1fa287"/></linearGradient>
<linearGradient id="g3_23"><stop offset="0" stop-color="#1fa287"/><stop offset="0.05" stop-color="#1f9a8a"/><stop offset="0.1" stop-color="#218f8d"/><stop offset="0.15" stop-color="#26828e"/><stop offset="0.2" stop-color="#297a8e"/><stop offset="0.25" stop-color="#2a768e"/><stop offset="0.3" stop-color="#297a8e"/><stop offset="0.35" stop-color="#26828e"/><stop offset="0.4" stop-color="#218f8d"/><stop offset="0.45" stop-color="#1f9a8a"/><stop offset="0.5" stop-color="#1fa287"/><stop offset="0.55" stop-color="#22a785"/><stop offset="0.6" stop-color="#23a983"/><stop offset="0.65" stop-color="#24aa83"/><stop offset="0.7" stop-color="#24aa83"/><stop offset="0.75" stop-color="#24aa83"/><stop offset="0.8" stop-color="#24aa83"/><stop offset="0.85" stop-color="#24aa83"/><stop offset="0.9" stop-color="#23a983"/><stop offset="0.95" stop-color="#22a785"/><stop offset="1" stop-color="#1fa287"/></linearGradient>
<linearGradient id="g3_24"><stop offset="0" stop-color="#1fa187"/><stop offset="0.05" stop-color="#1f998a"/><stop offset="0.1" stop-color="#228d8d"/><stop offset="0.15" stop-color="#26818e"/><stop offset="0.2" stop-color="#2a768e"/><stop offset="0.25" stop-color="#2c728e"/><stop offset="0.3" stop-color="#2a768e"/><stop offset="0.35" stop-color="#26818e"/><stop offset="0.4" stop-color="#228d8d"/><stop offset="0.45" stop-color="#1f998a"/><stop offset="0.5" stop-color="#1fa187"/><stop offset="0.55" stop-color="#22a785"/><stop offset="0.6" stop-color="#23a983"/><stop offset="0.65" stop-color="#24aa83"/><stop offset="0.7" stop-color="#24aa83"/><stop offset="0.75" stop-color="#24aa83"/><stop offset="0.8" stop-color="#24aa83"/><stop offset="0.85" stop-color="#24aa83"/><stop offset="0.9" stop-color="#23a983"/><stop offset="0.95" stop-color="#22a785"/><stop offset="1" stop-color="#1fa187"/></linearGradient>
<clipPath id="s4"><rect x="591.30" y="72.50" width="35.90" height="49.80"/></clipPath>
<clipPath id="c4"><rect x="388.45" y="233.80" width="178.45" height="49.80"/></clipPath>
<linearGradient id="g4_0"><stop offset="0" stop-color="#1fa187"/><stop offset="0.05" stop-color="#1e9b8a"/><stop offset="0.1" stop-color="#20928c"/><stop offset="0.15" stop-color="#238a8d"/><stop offset="0.2" stop-color="#25838e"/><stop offset="0.25" stop-color="#26818e"/><stop offset="0.3" stop-color="#25838e"/><stop offset="0.35" stop-color="#238a8d"/><stop offset="0.4" stop-color="#20928c"/><stop offset="0.45" stop-color="#1e9b8a"/><stop offset="0.5" stop-color="#1fa187"/><stop offset="0.55" stop-color="#21a685"/><stop offset="0.6" stop-color="#22a884"/><stop offset="0.65" stop-color="#23a983"/><stop offset="0.7" stop-color="#23a983"/><stop offset="0.75" stop-color="#23a983"/><stop offset="0.8" stop-color="#23a983"/><stop offset="0.85" stop-color="#23a983"/><stop offset="0.9" stop-color="#22a884"/><stop offset="0.95" stop-color="#21a685"/><stop offset="1" stop-color="#1fa187"/></linearGradient>
<linearGradient id="g4_1"><stop offset="0" stop-color="#1fa287"/><stop offset="0.05" stop-color="#1e9c89"/><stop offset="0.1" stop-color="#20938c"/><stop offset="0.15" stop-color="#228c8d"/><stop offset="0.2" stop-color="#25858e"/><stop offset="0.25" stop-color="#25838e"/><stop offset="0.3" stop-color="#25858e"/><stop offset="0.35" stop-color="#228c8d"/><stop offset="0.4" stop-color="#20938c"/><stop offset="0.45" stop-color="#1e9c89"/><stop offset="0.5" stop-color="#1fa287"/><stop offset="0.55" stop-color="#21a685"/><stop offset="0.6" stop-color="#22a884"/><stop offset="0.65" stop-color="#23a983"/><stop offset="0.7" stop-color="#23a983"/><stop offset="0.75" stop-color="#23a983"/><stop offset="0.8" stop-color="#23a983"/><stop offset="0.85" stop-color="#23a983"/><stop offset="0.9" stop-color="#22a884"/><stop offset="0.95" stop-color="#21a685"/><stop offset="1" stop-color="#1fa287"/></linearGradient>
<linearGradient id="g4_2"><stop offset="0" stop-color="#1fa287"/><stop offset="0.05" stop-color="#1e9d89"/><stop offset="0.1" stop-color="#1f958b"/><stop offset="0.15" stop-color="#218e8d"/><stop offset="0.2" stop-color="#23888e"/><stop offset="0.25" stop-color="#25858e"/><stop offset="0.3" stop-color="#23888e"/><stop offset="0.35" stop-color="#218e8d"/><stop offset="0.4" stop-color="#1f958b"/><stop offset="0.45" stop-color="#1e9d89"/><stop offset="0.5" stop-color="#1fa287"/><stop offset="0.55" stop-color="#21a685"/><stop offset="0.6" stop-color="#22a884"/><stop offset="0.65" stop-color="#23a983"/><stop offset="0.7" stop-color="#23a983"/><stop offset="0.75" stop-color="#23a983"/><stop offset="0.8" stop-color="#23a983"/><stop offset="0.85" stop-color="#23a983"/><stop offset="0.9" stop-color="#22a884"/><stop offset="0.95" stop-color="#21a685"/><stop offset="1" stop-color="#1fa287"/></linearGradient>
<linearGradient id="g4_3"><stop offset="0" stop-color="#20a386"/><stop offset="0.05" stop-color="#1f9e89"/><stop offset="0.1" stop-color="#1f968b"/><stop offset="0.15" stop-color="#218f8d"/><stop offset="0.2" stop-color="#23898e"/><stop offset="0.25" stop-color="#24878e"/><stop offset="0.3" stop-color="#23898e"/><stop offset="0.35" stop-color="#218f8d"/><stop offset="0.4" stop-color="#1f968b"/><stop offset="0.45" stop-color="#1f9e89"/><stop offset="0.5" stop-color="#20a386"/><stop offset="0.55" stop-color="#21a685"/><stop offset="0.6" stop-color="#22a884"/><stop offset="0.65" stop-color="#23a983"/><stop offset="0.7" stop-color="#23a983"/><stop offset="0.75" stop-color="#23a983"/><stop offset="0.8" stop-color="#23a983"/><stop offset="0.85" stop-color="#23a983"/><stop offset="0.9" stop-color="#22a884"/><stop offset="0.95" stop-color="#21a685"/><stop offset="1" stop-color="#20a386"/></linearGradient>
<linearGradient id="g4_4"><stop offset="0" stop-color="#20a386"/><stop offset="0.05" stop-color="#1f9e89"/><stop offset="0.1" stop-color="#1f978b"/><stop offset="0.15" stop-color="#21918c"/><stop offset="0.2" stop-color="#228b8d"/><stop offset="0.25" stop-color="#23898e"/><stop offset="0.3" stop-color="#228b8d"/><stop offset="0.35" stop-color="#21918c"/><stop offset="0.4" stop-color="#1f978b"/><stop offset="0.45" stop-color="#1f9e89"/><stop offset="0.5" stop-color="#20a386"/><stop offset="0.55" stop-color="#22a785"/><stop offset="0.6" stop-color="#22a884"/><stop offset="0.65" stop-color="#23a983"/><stop offset="0.7" stop-color="#23a983"/><stop offset="0.75" stop-color="#23a983"/><stop offset="0.8" stop-color="#23a983"/><stop offset="0.85" stop-color="#23a983"/><stop offset="0.9" stop-color="#22a884"/><stop offset="0.95" stop-color="#22a785"/><stop offset="1" stop-color="#20a386"/></linearGradient>
<linearGradient id="g4_5"><stop offset="0" stop-color="#20a386"/><stop offset="0.05" stop-color="#1f9f88"/><stop offset="0.1" stop-color="#1f988b"/><stop offset="0.15" stop-color="#20928c"/><stop offset="0.2" stop-color="#228d8d"/><stop offset="0.25" stop-color="#228b8d"/><stop offset="0.3" stop-color="#228d8d"/><stop offset="0.35" stop-color="#20928c"/><stop offset="0.4" stop-color="#1f988b"/><stop offset="0.45" stop-color="#1f9f88"/><stop offset="0.5" stop-color="#20a386"/><stop offset="0.55" stop-color="#22a785"/><stop offset="0.6" stop-color="#22a884"/><stop offset="0.65" stop-color="#23a983"/><stop offset="0.7" stop-color="#23a983"/><stop offset="0.75" stop-color="#23a983"/><stop offset="0.8" stop-color="#23a983"/><stop offset="0.85" stop-color="#23a983"/><stop offset="0.9" stop-color="#22a884"/><stop offset="0.95" stop-color="#22a785"/><stop offset="1" stop-color="#20a386"/></linearGradient>
<linearGradient id="g4_6"><stop offset="0" stop-color="#20a486"/><stop offset="0.05" stop-color="#1f9f88"/><stop offset="0.1" stop-color="#1f998a"/><stop offset="0.15" stop-color="#20928c"/><stop offset="0.2" stop-color="#218e8d"/><stop offset="0.25" stop-color="#228c8d"/><stop offset="0.3" stop-color="#218e8d"/><stop offset="0.35" stop-color="#20928c"/><stop offset="0.4" stop-color="#1f998a"/><stop offset="0.45" stop-color="#1f9f88"/><stop offset="0.5" stop-color="#20a486"/><stop offset="0.55" stop-color="#22a785"/><stop offset="0.6" stop-color="#22a884"/><stop offset="0.65" stop-color="#23a983"/><stop offset="0.7" stop-color="#23a983"/><stop offset="0.75" stop-color="#23a983"/><stop offset="0.8" stop-color="#23a983"/><stop offset="0.85" stop-color="#23a983"/><stop offset="0.9" stop-color="#22a884"/><stop offset="0.95" stop-color="#22a785"/><stop offset="1" stop-color="#20a486"/></linearGradient>
<linearGradient id="g4_7"><stop offset="0" stop-color="#20a486"/><stop offset="0.05" stop-color="#1fa088"/><stop offset="0.1" stop-color="#1f998a"/><stop offset="0.15" stop-color="#20928c"/><stop offset="0.2" stop-color="#218e8d"/><stop offset="0.25" stop-color="#228d8d"/><stop offset="0.3" stop-color="#218e8d"/><stop offset="0.35" stop-color="#20928c"/><stop offset="0.4" stop-color="#1f998a"/><stop offset="0.45" stop-color="#1fa088"/><stop offset="0.5" stop-color="#20a486"/><stop offset="0.55" stop-color="#22a785"/><stop offset="0.6" stop-color="#22a884"/><stop offset="0.65" stop-color="#23a983"/><stop offset="0.7" stop-color="#23a983"/><stop offset="0.75" stop-color="#23a983"/><stop offset="0.8" stop-color="#23a983"/><stop offset="0.85" stop-color="#23a983"/><stop offset="0.9" stop-color="#22a884"/><stop offset="0.95" stop-color="#22a785"/><stop offset="1" stop-color="#20a486"/></linearGradient>
<linearGradient id="g4_8"><stop offset="0" stop-color="#20a486"/><stop offset="0.05" stop-color="#1fa088"/><stop offset="0.1" stop-color="#1f998a"/><stop offset="0.15" stop-color="#20938c"/><stop offset="0.2" stop-color="#218f8d"/><stop offset="0.25" stop-color="#228d8d"/><stop offset="0.3" stop-color="#218f8d"/><stop offset="0.35" stop-color="#20938c"/><stop offset="0.4" stop-color="#1f998a"/><stop offset="0.45" stop-color="#1fa088"/><stop offset="0.5" stop-color="#20a486"/><stop offset="0.55" stop-color="#22a785"/><stop offset="0.6" stop-color="#22a884"/><stop offset="0.65" stop-color="#23a983"/><stop offset="0.7" stop-color="#23a983"/><stop offset="0.75" stop-color="#23a983"/><stop offset="0.8" stop-color="#23a983"/><stop offset="0.85" stop-color="#23a983"/><stop offset="0.9" stop-color="#22a884"/><stop offset="0.95" stop-color="#22a785"/><stop offset="1" stop-color="#20a486"/></linearGradient>
<linearGradient id="g4_9"><stop offset="0" stop-color="#20a486"/><stop offset="0.05" stop-color="#1fa088"/><stop offset="0.1" stop-color="#1f9a8a"/><stop offset="0.15" stop-color="#20938c"/><stop offset="0.2" stop-color="#218f8d"/><stop offset="0.25" stop-color="#228d8d"/><stop offset="0.3" stop-color="#218f8d"/><stop offset="0.35" stop-color="#20938c"/><stop offset="0.4" stop-color="#1f9a8a"/><stop offset="0.45" stop-color="#1fa088"/><stop offset="0.5" stop-color="#20a486"/><stop offset="0.55" stop-color="#22a785"/><stop offset="0.6" stop-color="#22a884"/><stop offset="0.65" stop-color="#23a983"/><stop offset="0.7" stop-color="#23a983"/><stop offset="0.75" stop-color="#23a983"/><stop offset="0.8" stop-color="#23a983"/><stop offset="0.85" stop-color="#23a983"/><stop offset="0.9" stop-color="#22a884"/><stop offset="0.95" stop-color="#22a785"/><stop offset="1" stop-color="#20a486"/></linearGradient>
<linearGradient id="g4_10"><stop offset="0" stop-color="#20a486"/><stop offset="0.05" stop-color="#1fa088"/><stop offset="0.1" stop-color="#1f9a8a"/><stop offset="0.15" stop-color="#20938c"/><stop offset="0.2" stop-color="#218f8d"/><stop offset="0.25" stop-color="#228d8d"/><stop offset="0.3" stop-color="#218f8d"/><stop offset="0.35" stop-color="#20938c"/><stop offset="0.4" stop-color="#1f9a8a"/><stop offset="0.45" stop-color="#1fa088"/><stop offset="0.5" stop-color="#20a486"/><stop offset="0.55" stop-color="#22a785"/><stop offset="0.6" stop-color="#22a884"/><stop offset="0.65" stop-color="#23a983"/><stop offset="0.7" stop-color="#23a983"/><stop offset="0.75" stop-color="#23a983"/><stop offset="0.8" stop-color="#23a983"/><stop offset="0.85" stop-color="#23a983"/><stop offset="0.9" stop-color="#22a884"/><stop offset="0.95" stop-color="#22a785"/><stop offset="1" stop-color="#20a486"/></linearGradient>
<linearGradient id="g4_11"><stop offset="0" stop-color="#20a486"/><stop offset="0.05" stop-color="#1fa088"/><stop offset="0.1" stop-color="#1f998a"/><stop offset="0.15" stop-color="#20938c"/><stop offset="0.2" stop-color="#218f8d"/><stop offset="0.25" stop-color="#228d8d"/><stop offset="0.3" stop-color="#218f8d"/><stop offset="0.35" stop-color="#20938c"/><stop offset="0.4" stop-color="#1f998a"/><stop offset="0.45" stop-color="#1fa088"/><stop offset="0.5" stop-color="#20a486"/><stop offset="0.55" stop-color="#22a785"/><stop offset="0.6" stop-color="#22a884"/><stop offset="0.65" stop-color="#23a983"/><stop offset="0.7" stop-color="#23a983"/><stop offset="0.75" stop-color="#23a983"/><stop offset="0.8" stop-color="#23a983"/><stop offset="0.85" stop-color="#23a983"/><stop offset="0.9" stop-color="#22a884"/><stop offset="0.95" stop-color="#22a785"/><stop offset="1" stop-color="#20a486"/></linearGradient>
<linearGradient id="g4_12"><stop offset="0" stop-color="#20a486"/><stop offset="0.05" stop-color="#1fa088"/><stop offset="0.1" stop-color="#1f998a"/><stop offset="0.15" stop-color="#20928c"/><stop offset="0.2" stop-color="#218e8d"/><stop offset="0.25" stop-color="#228c8d"/><stop offset="0.3" stop-color="#218e8d"/><stop offset="0.35" stop-color="#20928c"/><stop offset="0.4" stop-color="#1f998a"/><stop offset="0.45" stop-color="#1fa088"/><stop offset="0.5" stop-color="#20a486"/><stop offset="0.55" stop-color="#22a785"/><stop offset="0.6" stop-color="#22a884"/><stop offset="0.65" stop-color="#23a983"/><stop offset="0.7" stop-color="#23a983"/><stop offset="0.75" stop-color="#23a983"/><stop offset="0.8" stop-color="#23a983"/><stop offset="0.85" stop-color="#23a983"/><stop offset="0.9" stop-color="#22a884"/><stop offset="0.95" stop-color="#22a785"/><stop offset="1" stop-color="#20a486"/></linearGradient>
<linearGradient id="g4_13"><stop offset="0" stop-color="#20a486"/><stop offset="0.05" stop-color="#1f9f88"/><stop offset="0.1" stop-color="#1f998a"/><stop offset="0.15" stop-color="#20928c"/><stop offset="0.2" stop-color="#228d8d"/><stop offset="0.25" stop-color="#228b8d"/><stop offset="0.3" stop-color="#228d8d"/><stop offset="0.35" stop-color="#20928c"/><stop offset="0.4" stop-color="#1f998a"/><stop offset="0.45" stop-color="#1f9f88"/><stop offset="0.5" stop-color="#20a486"/><stop offset="0.55" stop-color="#22a785"/><stop offset="0.6" stop-color="#22a884"/><stop offset="0.65" stop-color="#23a983"/><stop offset="0.7" stop-color="#23a983"/><stop offset="0.75" stop-color="#23a983"/><stop offset="0.8" stop-color="#23a983"/><stop offset="0.85" stop-color="#23a983"/><stop offset="0.9" stop-color="#22a884"/><stop offset="0.95" stop-color="#22a785"/><stop offset="1" stop-color="#20a486"/></linearGradient>
<linearGradient id="g4_14"><stop offset="0" stop-color="#20a386"/><stop offset="0.05" stop-color="#1f9f88"/><stop offset="0.1" stop-color="#1f988b"/><stop offset="0.15" stop-color="#20928c"/><stop offset="0.2" stop-color="#228c8d"/><stop offset="0.25" stop-color="#238a8d"/><stop offset="0.3" stop-color="#228c8d"/><stop offset="0.35" stop-color="#20928c"/><stop offset="0.4" stop-color="#1f988b"/><stop offset="0.45" stop-color="#1f9f88"/><stop offset="0.5" stop-color="#20a386"/><stop offset="0.55" stop-color="#22a785"/><stop offset="0.6" stop-color="#22a884"/><stop offset="0.65" stop-color="#23a983"/><stop offset="0.7" stop-color="#23a983"/><stop offset="0.75" stop-color="#23a983"/><stop offset="0.8" stop-color="#23a983"/><stop offset="0.85" stop-color="#23a983"/><stop offset="0.9" stop-color="#22a884"/><stop offset="0.95" stop-color="#22a785"/><stop offset="1" stop-color="#20a386"/></linearGradient>
<linearGradient id="g4_15"><stop offset="0" stop-color="#20a386"/><stop offset="0.05" stop-color="#1f9f88"/><stop offset="0.1" stop-color="#1f978b"/><stop offset="0.15" stop-color="#21908d"/><stop offset="0.2" stop-color="#238a8d"/><stop offset="0.25" stop-color="#23888e"/><stop offset="0.3" stop-color="#238a8d"/><stop offset="0.35" stop-color="#21908d"/><stop offset="0.4" stop-color="#1f978b"/><stop offset="0.45" stop-color="#1f9f88"/><stop offset="0.5" stop-color="#20a386"/><stop offset="0.55" stop-color="#22a785"/><stop offset="0.6" stop-color="#22a884"/><stop offset="0.65" stop-color="#22a884"/><stop offset="0.7" stop-color="#23a983"/><stop offset="0.75" stop-color="#23a983"/><stop offset="0.8" stop-color="#23a983"/><stop offset="0.85" stop-color="#22a884"/><stop offset="0.9" stop-color="#22a884"/><stop offset="0.95" stop-color="#22a785"/><stop offset="1" stop-color="#20a386"/></linearGradient>
<linearGradient id="g4_16"><stop offset="0" stop-color="#20a386"/><stop offset="0.05" stop-color="#1f9e89"/><stop offset="0.1" stop-color="#1f968b"/><stop offset="0.15" stop-color="#218f8d"/><stop offset="0.2" stop-color="#23898e"/><stop offset="0.25" stop-color="#24868e"/><stop offset="0.3" stop-color="#23898e"/><stop offset="0.35" stop-color="#218f8d"/><stop offset="0.4" stop-color="#1f968b"/><stop offset="0.45" stop-color="#1f9e89"/><stop offset="0.5" stop-color="#20a386"/><stop offset="0.55" stop-color="#21a685"/><stop offset="0.6" stop-color="#22a884"/><stop offset="0.65" stop-color="#22a884"/><stop offset="0.7" stop-color="#22a884"/><stop offset="0.75" stop-color="#22a884"/><stop offset="0.8" stop-color="#22a884"/><stop offset="0.85" stop-color="#22a884"/><stop offset="0.9" stop-color="#22a884"/><stop offset="0.95" stop-color="#21a685"/><stop offset="1" stop-color="#20a386"/></linearGradient>
<linearGradient id="g4_17"><stop offset="0" stop-color="#20a386"/><stop offset="0.05" stop-color="#1e9d89"/><stop offset="0.1" stop-color="#1f958b"/><stop offset="0.15" stop-color="#228d8d"/><stop offset="0.2" stop-color="#24878e"/><stop offset="0.25" stop-color="#25848e"/><stop offset="0.3" stop-color="#24878e"/><stop offset="0.35" stop-color="#228d8d"/><stop offset="0.4" stop-color="#1f958b"/><stop offset="0.45" stop-color="#1e9d89"/><stop offset="0.5" stop-color="#20a386"/><stop offset="0.55" stop-color="#21a685"/><stop offset="0.6" stop-color="#22a884"/><stop offset="0.65" stop-color="#22a884"/><stop offset="0.7" stop-color="#22a884"/><stop offset="0.75" stop-color="#22a884"/><stop offset="0.8" stop-color="#22a884"/><stop offset="0.85" stop-color="#22a884"/><stop offset="0.9" stop-color="#22a884"/><stop offset="0.95" stop-color="#21a685"/><stop offset="1" stop-color="#20a386"/></linearGradient>
<linearGradient id="g4_18"><stop offset="0" stop-color="#1fa287"/><stop offset="0.05" stop-color="#1e9c89"/><stop offset="0.1" stop-color="#1f948c"/><stop offset="0.15" stop-color="#228b8d"/><stop offset="0.2" stop-color="#25848e"/><stop offset="0.25" stop-color="#26828e"/><stop offset="0.3" stop-color="#25848e"/><stop offset="0.35" stop-color="#228b8d"/><stop offset="0.4" stop-color="#1f948c"/><stop offset="0.45" stop-color="#1e9c89"/><stop offset="0.5" stop-color="#1fa287"/><stop offset="0.55" stop-color="#21a685"/><stop offset="0.6" stop-color="#22a884"/><stop offset="0.65" stop-color="#22a884"/><stop offset="0.7" stop-color="#22a884"/><stop offset="0.75" stop-color="#22a884"/><stop offset="0.8" stop-color="#22a884"/><stop offset="0.85" stop-color="#22a884"/><stop offset="0.9" stop-color="#22a884"/><stop offset="0.95" stop-color="#21a685"/><stop offset="1" stop-color="#1fa287"/></linearGradient>
<linearGradient id="g4_19"><stop offset="0" stop-color="#1fa287"/><stop offset="0.05" stop-color="#1e9c89"/><stop offset="0.1" stop-color="#20928c"/><stop offset="0.15" stop-color="#23898e"/><stop offset="0.2" stop-color="#26828e"/><stop offset="0.25" stop-color="#27808e"/><stop offset="0.3" stop-color="#26828e"/><stop offset="0.35" stop-color="#23898e"/><stop offset="0.4" stop-color="#20928c"/><stop offset="0.45" stop-color="#1e9c89"/><stop offset="0.5" stop-color="#1fa287"/><stop offset="0.55" stop-color="#21a685"/><stop offset="0.6" stop-color="#22a884"/><stop offset="0.65" stop-color="#22a884"/><stop offset="0.7" stop-color="#22a884"/><stop offset="0.75" stop-color="#22a884"/><stop offset="0.8" stop-color="#22a884"/><stop offset="0.85" stop-color="#22a884"/><stop offset="0.9" stop-color="#22a884"/><stop offset="0.95" stop-color="#21a685"/><stop offset="1" stop-color="#1fa287"/></linearGradient>
<linearGradient id="g4_20"><stop offset="0" stop-color="#1fa187"/><stop offset="0.05" stop-color="#1e9b8a"/><stop offset="0.1" stop-color="#21918c"/><stop offset="0.15" stop-color="#24878e"/><stop offset="0.2" stop-color="#27808e"/><stop offset="0.25" stop-color="#287d8e"/><stop offset="0.3" stop-color="#27808e"/><stop offset="0.35" stop-color="#24878e"/><stop offset="0.4" stop-color="#21918c"/><stop offset="0.45" stop-color="#1e9b8a"/><stop offset="0.5" stop-color="#1fa187"/><stop offset="0.55" stop-color="#21a685"/><stop offset="0.6" stop-color="#22a884"/><stop offset="0.65" stop-color="#22a884"/><stop offset="0.7" stop-color="#22a884"/><stop offset="0.75" stop-color="#22a884"/><stop offset="0.8" stop-color="#22a884"/><stop offset="0.85" stop-color="#22a884"/><stop offset="0.9" stop-color="#22a884"/><stop offset="0.95" stop-color="#21a685"/><stop offset="1" stop-color="#1fa187"/></linearGradient>
<linearGradient id="g4_21"><stop offset="0" stop-color="#1fa187"/><stop offset="0.05" stop-color="#1f9a8a"/><stop offset="0.1" stop-color="#21908d"/><stop offset="0.15" stop-color="#25848e"/><stop offset="0.2" stop-color="#287c8e"/><stop offset="0.25" stop-color="#29798e"/><stop offset="0.3" stop-color="#287c8e"/><stop offset="0.35" stop-color="#25848e"/><stop offset="0.4" stop-color="#21908d"/><stop offset="0.45" stop-color="#1f9a8a"/><stop offset="0.5" stop-color="#1fa187"/><stop offset="0.55" stop-color="#21a585"/><stop offset="0.6" stop-color="#22a785"/><stop offset="0.65" stop-color="#22a884"/><stop offset="0.7" stop-color="#22a884"/><stop offset="0.75" stop-color="#22a884"/><stop offset="0.8" stop-color="#22a884"/><stop offset="0.85" stop-color="#22a884"/><stop offset="0.9" stop-color="#22a785"/><stop offset="0.95" stop-color="#21a585"/><stop offset="1" stop-color="#1fa187"/></linearGradient>
<linearGradient id="g4_22"><stop offset="0" stop-color="#1fa188"/><stop offset="0.05" stop-color="#1f988b"/><stop offset="0.1" stop-color="#218e8d"/><stop offset="0.15" stop-color="#26828e"/><stop offset="0.2" stop-color="#29798e"/><stop offset="0.25" stop-color="#2b758e"/><stop offset="0.3" stop-color="#29798e"/><stop offset="0.35" stop-color="#26828e"/><stop offset="0.4" stop-color="#218e8d"/><stop offset="0.45" stop-color="#1f988b"/><stop offset="0.5" stop-color="#1fa188"/><stop offset="0.55" stop-color="#21a585"/><stop offset="0.6" stop-color="#22a785"/><stop offset="0.65" stop-color="#22a884"/><stop offset="0.7" stop-color="#22a884"/><stop offset="0.75" stop-color="#22a884"/><stop offset="0.8" stop-color="#22a884"/><stop offset="0.85" stop-color="#22a884"/><stop offset="0.9" stop-color="#22a785"/><stop offset="0.95" stop-color="#21a585"/><stop offset="1" stop-color="#1fa188"/></linearGradient>
<linearGradient id="g4_23"><stop offset="0" stop-color="#1fa088"/><stop offset="0.05" stop-color="#1f978b"/><stop offset="0.1" stop-color="#228c8d"/><stop offset="0.15" stop-color="#277f8e"/><stop offset="0.2" stop-color="#2b758e"/><stop offset="0.25" stop-color="#2c718e"/><stop offset="0.3" stop-color="#2b758e"/><stop offset="0.35" stop-color="#277f8e"/><stop offset="0.4" stop-color="#228c8d"/><stop offset="0.45" stop-color="#1f978b"/><stop offset="0.5" stop-color="#1fa088"/><stop offset="0.55" stop-color="#21a585"/><stop offset="0.6" stop-color="#22a785"/><stop offset="0.65" stop-color="#22a884"/><stop offset="0.7" stop-color="#22a884"/><stop offset="0.75" stop-color="#22a884"/><stop offset="0.8" stop-color="#22a884"/><stop offset="0.85" stop-color="#22a884"/><stop offset="0.9" stop-color="#22a785"/><stop offset="0.95" stop-color="#21a585"/><stop offset="1" stop-color="#1fa088"/></linearGradient>
<linearGradient id="g4_24"><stop offset="0" stop-color="#1fa088"/><stop offset="0.05" stop-color="#1f968b"/><stop offset="0.1" stop-color="#23898e"/><stop offset="0.15" stop-color="#287c8e"/><stop offset="0.2" stop-color="#2c718e"/><stop offset="0.25" stop-color="#2e6e8e"/><stop offset="0.3" stop-color="#2c718e"/><stop offset="0.35" stop-color="#287c8e"/><stop offset="0.4" stop-color="#23898e"/><stop offset="0.45" stop-color="#1f968b"/><stop offset="0.5" stop-color="#1fa088"/><stop offset="0.55" stop-color="#20a486"/><stop offset="0.6" stop-color="#22a785"/><stop offset="0.65" stop-color="#22a884"/><stop offset="0.7" stop-color="#22a884"/><stop offset="0.75" stop-color="#22a884"/><stop offset="0.8" stop-color="#22a884"/><stop offset="0.85" stop-color="#22a884"/><stop offset="0.9" stop-color="#22a785"/><stop offset="0.95" stop-color="#20a486"/><stop offset="1" stop-color="#1fa088"/></linearGradient>
<clipPath id="s5"><rect x="591.30" y="233.80" width="35.90" height="49.80"/></clipPath>
<clipPath id="c5"><rect x="388.45" y="395.10" width="178.45" height="49.80"/></clipPath>
<linearGradient id="g5_0"><stop offset="0" stop-color="#25848e"/><stop offset="0.05" stop-color="#26828e"/><stop offset="0.1" stop-color="#287d8e"/><stop offset="0.15" stop-color="#29798e"/><stop offset="0.2" stop-color="#2a768e"/><stop offset="0.25" stop-color="#2b758e"/><stop offset="0.3" stop-color="#2a768e"/><stop offset="0.35" stop-color="#29798e"/><stop offset="0.4" stop-color="#287d8e"/><stop offset="0.45" stop-color="#26828e"/><stop offset="0.5" stop-color="#25848e"/><stop offset="0.55" stop-color="#24878e"/><stop offset="0.6" stop-color="#23888e"/><stop offset="0.65" stop-color="#23888e"/><stop offset="0.7" stop-color="#23888e"/><stop offset="0.75" stop-color="#23888e"/><stop offset="0.8" stop-color="#23888e"/><stop offset="0.85" stop-color="#23888e"/><stop offset="0.9" stop-color="#23888e"/><stop offset="0.95" stop-color="#24878e"/><stop offset="1" stop-color="#25848e"/></linearGradient>
<linearGradient id="g5_1"><stop offset="0" stop-color="#25858e"/><stop offset="0.05" stop-color="#25838e"/><stop offset="0.1" stop-color="#27808e"/><stop offset="0.15" stop-color="#287c8e"/><stop offset="0.2" stop-color="#29798e"/><stop offset="0.25" stop-color="#2a788e"/><stop offset="0.3" stop-color="#29798e"/><stop offset="0.35" stop-color="#287c8e"/><stop offset="0.4" stop-color="#27808e"/><stop offset="0.45" stop-color="#25838e"/><stop offset="0.5" stop-color="#25858e"/><stop offset="0.55" stop-color="#24878e"/><stop offset="0.6" stop-color="#23888e"/><stop offset="0.65" stop-color="#23898e"/><stop offset="0.7" stop-color="#23898e"/><stop offset="0.75" stop-color="#23898e"/><stop offset="0.8" stop-color="#23898e"/><stop offset="0.85" stop-color="#23898e"/><stop offset="0.9" stop-color="#23888e"/><stop offset="0.95" stop-color="#24878e"/><stop offset="1" stop-color="#25858e"/></linearGradient>
<linearGradient id="g5_2"><stop offset="0" stop-color="#24868e"/><stop offset="0.05" stop-color="#25848e"/><stop offset="0.1" stop-color="#26828e"/><stop offset="0.15" stop-color="#277e8e"/><stop offset="0.2" stop-color="#287c8e"/><stop offset="0.25" stop-color="#297b8e"/><stop offset="0.3" stop-color="#287c8e"/><stop offset="0.35" stop-color="#277e8e"/><stop offset="0.4" stop-color="#26828e"/><stop offset="0.45" stop-color="#25848e"/><stop offset="0.5" stop-color="#24868e"/><stop offset="0.55" stop-color="#23888e"/><stop offset="0.6" stop-color="#23898e"/><stop offset="0.65" stop-color="#23898e"/><stop offset="0.7" stop-color="#23898e"/><stop offset="0.75" stop-color="#23898e"/><stop offset="0.8" stop-color="#23898e"/><stop offset="0.85" stop-color="#23898e"/><stop offset="0.9" stop-color="#23898e"/><stop offset="0.95" stop-color="#23888e"/><stop offset="1" stop-color="#24868e"/></linearGradient>
<linearGradient id="g5_3"><stop offset="0" stop-color="#24878e"/><stop offset="0.05" stop-color="#25858e"/><stop offset="0.1" stop-color="#26828e"/><stop offset="0.15" stop-color="#27808e"/><stop offset="0.2" stop-color="#277e8e"/><stop offset="0.25" stop-color="#287d8e"/><stop offset="0.3" stop-color="#277e8e"/><stop offset="0.35" stop-color="#27808e"/><stop offset="0.4" stop-color="#26828e"/><stop offset="0.45" stop-color="#25858e"/><stop offset="0.5" stop-color="#24878e"/><stop offset="0.55" stop-color="#23888e"/><stop offset="0.6" stop-color="#23898e"/><stop offset="0.65" stop-color="#23898e"/><stop offset="0.7" stop-color="#23898e"/><stop offset="0.75" stop-color="#23898e"/><stop offset="0.8" stop-color="#23898e"/><stop offset="0.85" stop-color="#23898e"/><stop offset="0.9" stop-color="#23898e"/><stop offset="0.95" stop-color="#23888e"/><stop offset="1" stop-color="#24878e"/></linearGradient>
<linearGradient id="g5_4"><stop offset="0" stop-color="#23888e"/><stop offset="0.05" stop-color="#25858e"/><stop offset="0.1" stop-color="#25838e"/><stop offset="0.15" stop-color="#26818e"/><stop offset="0.2" stop-color="#277f8e"/><stop offset="0.25" stop-color="#277f8e"/><stop offset="0.3" stop-color="#277f8e"/><stop offset="0.35" stop-color="#26818e"/><stop offset="0.4" stop-color="#25838e"/><stop offset="0.45" stop-color="#25858e"/><stop offset="0.5" stop-color="#23888e"/><stop offset="0.55" stop-color="#23898e"/><stop offset="0.6" stop-color="#23898e"/><stop offset="0.65" stop-color="#238a8d"/><stop offset="0.7" stop-color="#238a8d"/><stop offset="0.75" stop-color="#238a8d"/><stop offset="0.8" stop-color="#238a8d"/><stop offset="0.85" stop-color="#238a8d"/><stop offset="0.9" stop-color="#23898e"/><stop offset="0.95" stop-color="#23898e"/><stop offset="1" stop-color="#23888e"/></linearGradient>
<linearGradient id="g5_5"><stop offset="0" stop-color="#23888e"/><stop offset="0.05" stop-color="#24868e"/><stop offset="0.1" stop-color="#25838e"/><stop offset="0.15" stop-color="#26828e"/><stop offset="0.2" stop-color="#27808e"/><stop offset="0.25" stop-color="#277f8e"/><stop offset="0.3" stop-color="#27808e"/><stop offset="0.35" stop-color="#26828e"/><stop offset="0.4" stop-color="#25838e"/><stop offset="0.45" stop-color="#24868e"/><stop offset="0.5" stop-color="#23888e"/><stop offset="0.55" stop-color="#23898e"/><stop offset="0.6" stop-color="#238a8d"/><stop offset="0.65" stop-color="#238a8d"/><stop offset="0.7" stop-color="#238a8d"/><stop offset="0.75" stop-color="#238a8d"/><stop offset="0.8" stop-color="#238a8d"/><stop offset="0.85" stop-color="#238a8d"/><stop offset="0.9" stop-color="#238a8d"/><stop offset="0.95" stop-color="#23898e"/><stop offset="1" stop-color="#23888e"/></linearGradient>
<linearGradient id="g5_6"><stop offset="0" stop-color="#23888e"/><stop offset="0.05" stop-color="#24868e"/><stop offset="0.1" stop-color="#25838e"/><stop offset="0.15" stop-color="#26828e"/><stop offset="0.2" stop-color="#27808e"/><stop offset="0.25" stop-color="#277f8e"/><stop offset="0.3" stop-color="#27808e"/><stop offset="0.35" stop-color="#26828e"/><stop offset="0.4" stop-color="#25838e"/><stop offset="0.45" stop-color="#24868e"/><stop offset="0.5" stop-color="#23888e"/><stop offset="0.55" stop-color="#23898e"/><stop offset="0.6" stop-color="#238a8d"/><stop offset="0.65" stop-color="#238a8d"/><stop offset="0.7" stop-color="#238a8d"/><stop offset="0.75" stop-color="#238a8d"/><stop offset="0.8" stop-color="#238a8d"/><stop offset="0.85" stop-color="#238a8d"/><stop offset="0.9" stop-color="#238a8d"/><stop offset="0.95" stop-color="#23898e"/><stop offset="1" stop-color="#23888e"/></linearGradient>
<linearGradient id="g5_7"><stop offset="0" stop-color="#23888e"/><stop offset="0.05" stop-color="#24868e"/><stop offset="0.1" stop-color="#25838e"/><stop offset="0.15" stop-color="#26818e"/><stop offset="0.2" stop-color="#277f8e"/><stop offset="0.25" stop-color="#277e8e"/><stop offset="0.3" stop-color="#277f8e"/><stop offset="0.35" stop-color="#26818e"/><stop offset="0.4" stop-color="#25838e"/><stop offset="0.45" stop-color="#24868e"/><stop offset="0.5" stop-color="#23888e"/><stop offset="0.55" stop-color="#238a8d"/><stop offset="0.6" stop-color="#238a8d"/><stop offset="0.65" stop-color="#238a8d"/><stop offset="0.7" stop-color="#238a8d"/><stop offset="0.75" stop-color="#238a8d"/><stop offset="0.8" stop-color="#238a8d"/><stop offset="0.85" stop-color="#238a8d"/><stop offset="0.9" stop-color="#238a8d"/><stop offset="0.95" stop-color="#238a8d"/><stop offset="1" stop-color="#23888e"/></linearGradient>
<linearGradient id="g5_8"><stop offset="0" stop-color="#23888e"/><stop offset="0.05" stop-color="#24868e"/><stop offset="0.1" stop-color="#26828e"/><stop offset="0.15" stop-color="#27808e"/><stop offset="0.2" stop-color="#287d8e"/><stop offset="0.25" stop-color="#287c8e"/><stop offset="0.3" stop-color="#287d8e"/><stop offset="0.35" stop-color="#27808e"/><stop offset="0.4" stop-color="#26828e"/><stop offset="0.45" stop-color="#24868e"/><stop offset="0.5" stop-color="#23888e"/><stop offset="0.55" stop-color="#238a8d"/><stop offset="0.6" stop-color="#238a8d"/><stop offset="0.65" stop-color="#228b8d"/><stop offset="0.7" stop-color="#228b8d"/><stop offset="0.75" stop-color="#228b8d"/><stop offset="0.8" stop-color="#228b8d"/><stop offset="0.85" stop-color="#228b8d"/><stop offset="0.9" stop-color="#238a8d"/><stop offset="0.95" stop-color="#238a8d"/><stop offset="1" stop-color="#23888e"/></linearGradient>
<linearGradient id="g5_9"><stop offset="0" stop-color="#23888e"/><stop offset="0.05" stop-color="#25858e"/><stop offset="0.1" stop-color="#26828e"/><stop offset="0.15" stop-color="#277e8e"/><stop offset="0.2" stop-color="#297b8e"/><stop offset="0.25" stop-color="#297a8e"/><stop offset="0.3" stop-color="#297b8e"/><stop offset="0.35" stop-color="#277e8e"/><stop offset="0.4" stop-color="#26828e"/><stop offset="0.45" stop-color="#25858e"/><stop offset="0.5" stop-color="#23888e"/><stop offset="0.55" stop-color="#238a8d"/><stop offset="0.6" stop-color="#228b8d"/><stop offset="0.65" stop-color="#228b8d"/><stop offset="0.7" stop-color="#228b8d"/><stop offset="0.75" stop-color="#228b8d"/><stop offset="0.8" stop-color="#228b8d"/><stop offset="0.85" stop-color="#228b8d"/><stop offset="0.9" stop-color="#228b8d"/><stop offset="0.95" stop-color="#238a8d"/><stop offset="1" stop-color="#23888e"/></linearGradient>
<linearGradient id="g5_10"><stop offset="0" stop-color="#23888e"/><stop offset="0.05" stop-color="#25848e"/><stop offset="0.1" stop-color="#26818e"/><stop offset="0.15" stop-color="#287c8e"/><stop offset="0.2" stop-color="#2a788e"/><stop offset="0.25" stop-color="#2a778e"/><stop offset="0.3" stop-color="#2a788e"/><stop offset="0.35" stop-color="#287c8e"/><stop offset="0.4" stop-color="#26818e"/><stop offset="0.45" stop-color="#25848e"/><stop offset="0.5" stop-color="#23888e"/><stop offset="0.55" stop-color="#238a8d"/><stop offset="0.6" stop-color="#228b8d"/><stop offset="0.65" stop-color="#228b8d"/><stop offset="0.7" stop-color="#228b8d"/><stop offset="0.75" stop-color="#228b8d"/><stop offset="0.8" stop-color="#228b8d"/><stop offset="0.85" stop-color="#228b8d"/><stop offset="0.9" stop-color="#228b8d"/><stop offset="0.95" stop-color="#238a8d"/><stop offset="1" stop-color="#23888e"/></linearGradient>
<linearGradient id="g5_11"><stop offset="0" stop-color="#24878e"/><stop offset="0.05" stop-color="#25838e"/><stop offset="0.1" stop-color="#277f8e"/><stop offset="0.15" stop-color="#29798e"/><stop offset="0.2" stop-color="#2b758e"/><stop offset="0.25" stop-color="#2c738e"/><stop offset="0.3" stop-color="#2b758e"/><stop offset="0.35" stop-color="#29798e"/><stop offset="0.4" stop-color="#277f8e"/><stop offset="0.45" stop-color="#25838e"/><stop offset="0.5" stop-color="#24878e"/><stop offset="0.55" stop-color="#238a8d"/><stop offset="0.6" stop-color="#228b8d"/><stop offset="0.65" stop-color="#228b8d"/><stop offset="0.7" stop-color="#228b8d"/><stop offset="0.75" stop-color="#228b8d"/><stop offset="0.8" stop-color="#228b8d"/><stop offset="0.85" stop-color="#228b8d"/><stop offset="0.9" stop-color="#228b8d"/><stop offset="0.95" stop-color="#238a8d"/><stop offset="1" stop-color="#24878e"/></linearGradient>
<linearGradient id="g5_12"><stop offset="0" stop-color="#24878e"/><stop offset="0.05" stop-color="#26828e"/><stop offset="0.1" stop-color="#287d8e"/><stop offset="0.15" stop-color="#2a768e"/><stop offset="0.2" stop-color="#2c718e"/><stop offset="0.25" stop-color="#2d708e"/><stop offset="0.3" stop-color="#2c718e"/><stop offset="0.35" stop-color="#2a768e"/><stop offset="0.4" stop-color="#287d8e"/><stop offset="0.45" stop-color="#26828e"/><stop offset="0.5" stop-color="#24878e"/><stop offset="0.55" stop-color="#238a8d"/><stop offset="0.6" stop-color="#228b8d"/><stop offset="0.65" stop-color="#228b8d"/><stop offset="0.7" stop-color="#228c8d"/><stop offset="0.75" stop-color="#228c8d"/><stop offset="0.8" stop-color="#228c8d"/><stop offset="0.85" stop-color="#228b8d"/><stop offset="0.9" stop-color="#228b8d"/><stop offset="0.95" stop-color="#238a8d"/><stop offset="1" stop-color="#24878e"/></linearGradient>
<linearGradient id="g5_13"><stop offset="0" stop-color="#24868e"/><stop offset="0.05" stop-color="#26828e"/><stop offset="0.1" stop-color="#297a8e"/><stop offset="0.15" stop-color="#2c728e"/><stop offset="0.2" stop-color="#2e6e8e"/><stop offset="0.25" stop-color="#2f6b8e"/><stop offset="0.3" stop-color="#2e6e8e"/><stop offset="0.35" stop-color="#2c728e"/><stop offset="0.4" stop-color="#297a8e"/><stop offset="0.45" stop-color="#26828e"/><stop offset="0.5" stop-color="#24868e"/><stop offset="0.55" stop-color="#238a8d"/><stop offset="0.6" stop-color="#228b8d"/><stop offset="0.65" stop-color="#228c8d"/><stop offset="0.7" stop-color="#228c8d"/><stop offset="0.75" stop-color="#228c8d"/><stop offset="0.8" stop-color="#228c8d"/><stop offset="0.85" stop-color="#228c8d"/><stop offset="0.9" stop-color="#228b8d"/><stop offset="0.95" stop-color="#238a8d"/><stop offset="1" stop-color="#24868e"/></linearGradient>
<linearGradient id="g5_14"><stop offset="0" stop-color="#24868e"/><stop offset="0.05" stop-color="#27808e"/><stop offset="0.1" stop-color="#2a788e"/><stop offset="0.15" stop-color="#2d708e"/><stop offset="0.2" stop-color="#30698e"/><stop offset="0.25" stop-color="#31668e"/><stop offset="0.3" stop-color="#30698e"/><stop offset="0.35" stop-color="#2d708e"/><stop offset="0.4" stop-color="#2a788e"/><stop offset="0.45" stop-color="#27808e"/><stop offset="0.5" stop-color="#24868e"/><stop offset="0.55" stop-color="#238a8d"/><stop offset="0.6" stop-color="#228b8d"/><stop offset="0.65" stop-color="#228c8d"/><stop offset="0.7" stop-color="#228c8d"/><stop offset="0.75" stop-color="#228c8d"/><stop offset="0.8" stop-color="#228c8d"/><stop offset="0.85" stop-color="#228c8d"/><stop offset="0.9" stop-color="#228b8d"/><stop offset="0.95" stop-color="#238a8d"/><stop offset="1" stop-color="#24868e"/></linearGradient>
<linearGradient id="g5_15"><stop offset="0" stop-color="#25858e"/><stop offset="0.05" stop-color="#277f8e"/><stop offset="0.1" stop-color="#2b758e"/><stop offset="0.15" stop-color="#2f6b8e"/><stop offset="0.2" stop-color="#33638d"/><stop offset="0.25" stop-color="#34618d"/><stop offset="0.3" stop-color="#33638d"/><stop offset="0.35" stop-color="#2f6b8e"/><stop offset="0.4" stop-color="#2b758e"/><stop offset="0.45" stop-color="#277f8e"/><stop offset="0.5" stop-color="#25858e"/><stop offset="0.55" stop-color="#23898e"/><stop offset="0.6" stop-color="#228b8d"/><stop offset="0.65" stop-color="#228c8d"/><stop offset="0.7" stop-color="#228c8d"/><stop offset="0.75" stop-color="#228c8d"/><stop offset="0.8" stop-color="#228c8d"/><stop offset="0.85" stop-color="#228c8d"/><stop offset="0.9" stop-color="#228b8d"/><stop offset="0.95" stop-color="#23898e"/><stop offset="1" stop-color="#25858e"/></linearGradient>
<linearGradient id="g5_16"><stop offset="0" stop-color="#25848e"/><stop offset="0.05" stop-color="#287d8e"/><stop offset="0.1" stop-color="#2c728e"/><stop offset="0.15" stop-color="#31678e"/><stop offset="0.2" stop-color="#355e8d"/><stop offset="0.25" stop-color="#375b8d"/><stop offset="0.3" stop-color="#355e8d"/><stop offset="0.35" stop-color="#31678e"/><stop offset="0.4" stop-color="#2c728e"/><stop offset="0.45" stop-color="#287d8e"/><stop offset="0.5" stop-color="#25848e"/><stop offset="0.55" stop-color="#23898e"/><stop offset="0.6" stop-color="#228b8d"/><stop offset="0.65" stop-color="#228c8d"/><stop offset="0.7" stop-color="#228c8d"/><stop offset="0.75" stop-color="#228c8d"/><stop offset="0.8" stop-color="#228c8d"/><stop offset="0.85" stop-color="#228c8d"/><stop offset="0.9" stop-color="#228b8d"/><stop offset="0.95" stop-color="#23898e"/><stop offset="1" stop-color="#25848e"/></linearGradient>
<linearGradient id="g5_17"><stop offset="0" stop-color="#25848e"/><stop offset="0.05" stop-color="#297b8e"/><stop offset="0.1" stop-color="#2e6f8e"/><stop offset="0.15" stop-color="#33628d"/><stop offset="0.2" stop-color="#38588c"/><stop offset="0.25" stop-color="#3a538b"/><stop offset="0.3" stop-color="#38588c"/><stop offset="0.35" stop-color="#33628d"/><stop offset="0.4" stop-color="#2e6f8e"/><stop offset="0.45" stop-color="#297b8e"/><stop offset="0.5" stop-color="#25848e"/><stop offset="0.55" stop-color="#23898e"/><stop offset="0.6" stop-color="#228c8d"/><stop offset="0.65" stop-color="#228c8d"/><stop offset="0.7" stop-color="#228c8d"/><stop offset="0.75" stop-color="#228c8d"/><stop offset="0.8" stop-color="#228c8d"/><stop offset="0.85" stop-color="#228c8d"/><stop offset="0.9" stop-color="#228c8d"/><stop offset="0.95" stop-color="#23898e"/><stop offset="1" stop-color="#25848e"/></linearGradient>
<linearGradient id="g5_18"><stop offset="0" stop-color="#25838e"/><stop offset="0.05" stop-color="#29798e"/><stop offset="0.1" stop-color="#2f6c8e"/><stop offset="0.15" stop-color="#365d8d"/><stop offset="0.2" stop-color="#3b518b"/><stop offset="0.25" stop-color="#3d4d8a"/><stop offset="0.3" stop-color="#3b518b"/><stop offset="0.35" stop-color="#365d8d"/><stop offset="0.4" stop-color="#2f6c8e"/><stop offset="0.45" stop-color="#29798e"/><stop offset="0.5" stop-color="#25838e"/><stop offset="0.55" stop-color="#23898e"/><stop offset="0.6" stop-color="#228c8d"/><stop offset="0.65" stop-color="#228c8d"/><stop offset="0.7" stop-color="#228c8d"/><stop offset="0.75" stop-color="#228c8d"/><stop offset="0.8" stop-color="#228c8d"/><stop offset="0.85" stop-color="#228c8d"/><stop offset="0.9" stop-color="#228c8d"/><stop offset="0.95" stop-color="#23898e"/><stop offset="1" stop-color="#25838e"/></linearGradient>
<linearGradient id="g5_19"><stop offset="0" stop-color="#26828e"/><stop offset="0.05" stop-color="#2a778e"/><stop offset="0.1" stop-color="#30698e"/><stop offset="0.15" stop-color="#38588c"/><stop offset="0.2" stop-color="#3e4a89"/><stop offset="0.25" stop-color="#404588"/><stop offset="0.3" stop-color="#3e4a89"/><stop offset="0.35" stop-color="#38588c"/><stop offset="0.4" stop-color="#30698e"/><stop offset="0.45" stop-color="#2a778e"/><stop offset="0.5" stop-color="#26828e"/><stop offset="0.55" stop-color="#23898e"/><stop offset="0.6" stop-color="#228c8d"/><stop offset="0.65" stop-color="#228c8d"/><stop offset="0.7" stop-color="#228c8d"/><stop offset="0.75" stop-color="#228c8d"/><stop offset="0.8" stop-color="#228c8d"/><stop offset="0.85" stop-color="#228c8d"/><stop offset="0.9" stop-color="#228c8d"/><stop offset="0.95" stop-color="#23898e"/><stop offset="1" stop-color="#26828e"/></linearGradient>
<linearGradient id="g5_20"><stop offset="0" stop-color="#26828e"/><stop offset="0.05" stop-color="#2a768e"/><stop offset="0.1" stop-color="#32658e"/><stop offset="0.15" stop-color="#3b528b"/><stop offset="0.2" stop-color="#414287"/><stop offset="0.25" stop-color="#433d84"/><stop offset="0.3" stop-color="#414287"/><stop offset="0.35" stop-color="#3b528b"/><stop offset="0.4" stop-color="#32658e"/><stop offset="0.45" stop-color="#2a768e"/><stop offset="0.5" stop-color="#26828e"/><stop offset="0.55" stop-color="#23898e"/><stop offset="0.6" stop-color="#228c8d"/><stop offset="0.65" stop-color="#228c8d"/><stop offset="0.7" stop-color="#228d8d"/><stop offset="0.75" stop-color="#228d8d"/><stop offset="0.8" stop-color="#228d8d"/><stop offset="0.85" stop-color="#228c8d"/><stop offset="0.9" stop-color="#228c8d"/><stop offset="0.95" stop-color="#23898e"/><stop offset="1" stop-color="#26828e"/></linearGradient>
<linearGradient id="g5_21"><stop offset="0" stop-color="#26828e"/><stop offset="0.05" stop-color="#2b748e"/><stop offset="0.1" stop-color="#33628d"/><stop offset="0.15" stop-color="#3d4d8a"/><stop offset="0.2" stop-color="#443b84"/><stop offset="0.25" stop-color="#463480"/><stop offset="0.3" stop-color="#443b84"/><stop offset="0.35" stop-color="#3d4d8a"/><stop offset="0.4" stop-color="#33628d"/><stop offset="0.45" stop-color="#2b748e"/><stop offset="0.5" stop-color="#26828e"/><stop offset="0.55" stop-color="#23888e"/><stop offset="0.6" stop-color="#228c8d"/><stop offset="0.65" stop-color="#228c8d"/><stop offset="0.7" stop-color="#228d8d"/><stop offset="0.75" stop-color="#228d8d"/><stop offset="0.8" stop-color="#228d8d"/><stop offset="0.85" stop-color="#228c8d"/><stop offset="0.9" stop-color="#228c8d"/><stop offset="0.95" stop-color="#23888e"/><stop offset="1" stop-color="#26828e"/></linearGradient>
<linearGradient id="g5_22"><stop offset="0" stop-color="#26818e"/><stop offset="0.05" stop-color="#2c728e"/><stop offset="0.1" stop-color="#355f8d"/><stop offset="0.15" stop-color="#3f4788"/><stop offset="0.2" stop-color="#46337f"/><stop offset="0.25" stop-color="#472c7a"/><stop offset="0.3" stop-color="#46337f"/><stop offset="0.35" stop-color="#3f4788"/><stop offset="0.4" stop-color="#355f8d"/><stop offset="0.45" stop-color="#2c728e"/><stop offset="0.5" stop-color="#26818e"/><stop offset="0.55" stop-color="#23888e"/><stop offset="0.6" stop-color="#228c8d"/><stop offset="0.65" stop-color="#228d8d"/><stop offset="0.7" stop-color="#228d8d"/><stop offset="0.75" stop-color="#228d8d"/><stop offset="0.8" stop-color="#228d8d"/><stop offset="0.85" stop-color="#228d8d"/><stop offset="0.9" stop-color="#228c8d"/><stop offset="0.95" stop-color="#23888e"/><stop offset="1" stop-color="#26818e"/></linearGradient>
<linearGradient id="g5_23"><stop offset="0" stop-color="#27808e"/><stop offset="0.05" stop-color="#2d718e"/><stop offset="0.1" stop-color="#375b8d"/><stop offset="0.15" stop-color="#424186"/><stop offset="0.2" stop-color="#472c7a"/><stop offset="0.25" stop-color="#482374"/><stop offset="0.3" stop-color="#472c7a"/><stop offset="0.35" stop-color="#424186"/><stop offset="0.4" stop-color="#375b8d"/><stop offset="0.45" stop-color="#2d718e"/><stop offset="0.5" stop-color="#27808e"/><stop offset="0.55" stop-color="#23888e"/><stop offset="0.6" stop-color="#228c8d"/><stop offset="0.65" stop-color="#228d8d"/><stop offset="0.7" stop-color="#228d8d"/><stop offset="0.75" stop-color="#228d8d"/><stop offset="0.8" stop-color="#228d8d"/><stop offset="0.85" stop-color="#228d8d"/><stop offset="0.9" stop-color="#228c8d"/><stop offset="0.95" stop-color="#23888e"/><stop offset="1" stop-color="#27808e"/></linearGradient>
<linearGradient id="g5_24"><stop offset="0" stop-color="#277f8e"/><stop offset="0.05" stop-color="#2e6f8e"/><stop offset="0.1" stop-color="#38588c"/><stop offset="0.15" stop-color="#443b84"/><stop offset="0.2" stop-color="#482475"/><stop offset="0.25" stop-color="#481a6c"/><stop offset="0.3" stop-color="#482475"/><stop offset="0.35" stop-color="#443b84"/><stop offset="0.4" stop-color="#38588c"/><stop offset="0.45" stop-color="#2e6f8e"/><stop offset="0.5" stop-color="#277f8e"/><stop offset="0.55" stop-color="#23888e"/><stop offset="0.6" stop-color="#228c8d"/><stop offset="0.65" stop-color="#228d8d"/><stop offset="0.7" stop-color="#228d8d"/><stop offset="0.75" stop-color="#228d8d"/><stop offset="0.8" stop-color="#228d8d"/><stop offset="0.85" stop-color="#228d8d"/><stop offset="0.9" stop-color="#228c8d"/><stop offset="0.95" stop-color="#23888e"/><stop offset="1" stop-color="#277f8e"/></linearGradient>
<clipPath id="s6"><rect x="591.30" y="395.10" width="35.90" height="49.80"/></clipPath>
</defs>
<rect width="685" height="471" fill="#fff"/>
<g filter="url(#soft)">
<text x="128.68" y="13.00" font-size="9.08" text-anchor="middle" textLength="257.81" lengthAdjust="spacingAndGlyphs">&quot;Relative irradiance on the wall of the hole&quot; θ = 90.0, R = 1.0</text>
<polyline points="39.45,33.75 41.93,33.75 44.41,33.75 46.89,33.75 49.36,33.75 51.84,33.75 54.32,33.75 56.80,33.75 59.28,33.75 61.76,33.75 64.23,33.75 66.71,33.75 69.19,33.75 71.67,33.75 74.15,33.75 76.63,33.75 79.11,33.75 81.58,33.75 84.06,33.75 86.54,33.75 89.02,33.75 91.50,33.75 93.98,33.75 96.45,33.75 98.93,33.75 101.41,33.75 103.89,33.75 106.37,33.75 108.85,33.75 111.33,33.75 113.80,33.75 116.28,33.75 118.76,33.75 121.24,33.75 123.72,33.75 126.20,33.75 128.68,33.75 131.15,33.75 133.63,33.75 136.11,33.75 138.59,33.75 141.07,33.75 143.55,33.75 146.02,33.75 148.50,33.75 150.98,33.75 153.46,33.75 155.94,33.75 158.42,33.75 160.90,33.75 163.37,33.75 165.85,33.75 168.33,33.75 170.81,33.75 173.29,33.75 175.77,33.75 178.24,33.75 180.72,33.75 183.20,33.75 185.68,33.75 188.16,33.75 190.64,33.75 193.12,33.75 195.59,33.75 198.07,33.75 200.55,33.75 203.03,33.75 205.51,33.75 207.99,33.75 210.46,33.75 212.94,33.75 215.42,33.75 217.90,33.75" fill="none" stroke="#1f77b4" stroke-width="1.30" stroke-linejoin="round"/>
<path d="M39.45 54.30v3.30" stroke="#000" stroke-width="0.95"/>
<text x="39.45" y="64.90" font-size="6.73" text-anchor="middle" textLength="11.45" lengthAdjust="spacingAndGlyphs">270</text>
<path d="M61.76 54.30v3.30" stroke="#000" stroke-width="0.95"/>
<text x="61.76" y="64.90" font-size="6.73" text-anchor="middle" textLength="11.45" lengthAdjust="spacingAndGlyphs">225</text>
<path d="M84.06 54.30v3.30" stroke="#000" stroke-width="0.95"/>
<text x="84.06" y="64.90" font-size="6.73" text-anchor="middle" textLength="11.45" lengthAdjust="spacingAndGlyphs">180</text>
<path d="M106.37 54.30v3.30" stroke="#000" stroke-width="0.95"/>
<text x="106.37" y="64.90" font-size="6.73" text-anchor="middle" textLength="11.45" lengthAdjust="spacingAndGlyphs">135</text>
<path d="M128.68 54.30v3.30" stroke="#000" stroke-width="0.95"/>
<text x="128.68" y="64.90" font-size="6.73" text-anchor="middle" textLength="7.63" lengthAdjust="spacingAndGlyphs">90</text>
<path d="M150.98 54.30v3.30" stroke="#000" stroke-width="0.95"/>
<text x="150.98" y="64.90" font-size="6.73" text-anchor="middle" textLength="7.63" lengthAdjust="spacingAndGlyphs">45</text>
<path d="M173.29 54.30v3.30" stroke="#000" stroke-width="0.95"/>
<text x="173.29" y="64.90" font-size="6.73" text-anchor="middle" textLength="3.82" lengthAdjust="spacingAndGlyphs">0</text>
<path d="M195.59 54.30v3.30" stroke="#000" stroke-width="0.95"/>
<text x="195.59" y="64.90" font-size="6.73" text-anchor="middle" textLength="9.80" lengthAdjust="spacingAndGlyphs">-45</text>
<path d="M217.90 54.30v3.30" stroke="#000" stroke-width="0.95"/>
<text x="217.90" y="64.90" font-size="6.73" text-anchor="middle" textLength="9.80" lengthAdjust="spacingAndGlyphs">-90</text>
<path d="M39.45 18.50h-3.30" stroke="#000" stroke-width="0.95"/>
<text x="22.16" y="21.40" font-size="6.53" text-anchor="start" textLength="7.51" lengthAdjust="spacingAndGlyphs">10</text>
<text x="29.67" y="18.97" font-size="4.57" text-anchor="start" textLength="2.63" lengthAdjust="spacingAndGlyphs">0</text>
<path d="M39.45 34.06h-3.30" stroke="#000" stroke-width="0.95"/>
<text x="18.70" y="36.96" font-size="6.53" text-anchor="start" textLength="7.51" lengthAdjust="spacingAndGlyphs">10</text>
<text x="26.21" y="34.53" font-size="4.57" text-anchor="start" textLength="6.09" lengthAdjust="spacingAndGlyphs">−1</text>
<path d="M39.45 49.62h-3.30" stroke="#000" stroke-width="0.95"/>
<text x="18.70" y="52.52" font-size="6.53" text-anchor="start" textLength="7.51" lengthAdjust="spacingAndGlyphs">10</text>
<text x="26.21" y="50.08" font-size="4.57" text-anchor="start" textLength="6.09" lengthAdjust="spacingAndGlyphs">−2</text>
<path d="M39.45 29.37h-2.00" stroke="#000" stroke-width="0.60"/>
<path d="M39.45 26.64h-2.00" stroke="#000" stroke-width="0.60"/>
<path d="M39.45 24.69h-2.00" stroke="#000" stroke-width="0.60"/>
<path d="M39.45 23.18h-2.00" stroke="#000" stroke-width="0.60"/>
<path d="M39.45 21.95h-2.00" stroke="#000" stroke-width="0.60"/>
<path d="M39.45 20.91h-2.00" stroke="#000" stroke-width="0.60"/>
<path d="M39.45 20.01h-2.00" stroke="#000" stroke-width="0.60"/>
<path d="M39.45 19.21h-2.00" stroke="#000" stroke-width="0.60"/>
<path d="M39.45 44.93h-2.00" stroke="#000" stroke-width="0.60"/>
<path d="M39.45 42.19h-2.00" stroke="#000" stroke-width="0.60"/>
<path d="M39.45 40.25h-2.00" stroke="#000" stroke-width="0.60"/>
<path d="M39.45 38.74h-2.00" stroke="#000" stroke-width="0.60"/>
<path d="M39.45 37.51h-2.00" stroke="#000" stroke-width="0.60"/>
<path d="M39.45 36.47h-2.00" stroke="#000" stroke-width="0.60"/>
<path d="M39.45 35.57h-2.00" stroke="#000" stroke-width="0.60"/>
<path d="M39.45 34.77h-2.00" stroke="#000" stroke-width="0.60"/>
<path d="M39.45 54.30h-2.00" stroke="#000" stroke-width="0.60"/>
<path d="M39.45 53.07h-2.00" stroke="#000" stroke-width="0.60"/>
<path d="M39.45 52.03h-2.00" stroke="#000" stroke-width="0.60"/>
<path d="M39.45 51.12h-2.00" stroke="#000" stroke-width="0.60"/>
<path d="M39.45 50.33h-2.00" stroke="#000" stroke-width="0.60"/>
<rect x="39.45" y="18.50" width="178.45" height="35.80" fill="none" stroke="#000" stroke-width="0.80"/>
<text x="12.30" y="36.60" font-size="6.73" text-anchor="middle" textLength="38.13" lengthAdjust="spacingAndGlyphs" transform="rotate(-90 12.30 36.60)">E/J [<tspan dx="1.14">]</tspan><tspan dx="0.67">(</tspan>z=75)</text>
<g clip-path="url(#c0)">
<rect x="39.45" y="72.50" width="178.45" height="2.99" fill="url(#g0_0)"/>
<rect x="39.45" y="74.49" width="178.45" height="2.99" fill="url(#g0_1)"/>
<rect x="39.45" y="76.48" width="178.45" height="2.99" fill="url(#g0_2)"/>
<rect x="39.45" y="78.48" width="178.45" height="2.99" fill="url(#g0_3)"/>
<rect x="39.45" y="80.47" width="178.45" height="2.99" fill="url(#g0_4)"/>
<rect x="39.45" y="82.46" width="178.45" height="2.99" fill="url(#g0_5)"/>
<rect x="39.45" y="84.45" width="178.45" height="2.99" fill="url(#g0_6)"/>
<rect x="39.45" y="86.44" width="178.45" height="2.99" fill="url(#g0_7)"/>
<rect x="39.45" y="88.44" width="178.45" height="2.99" fill="url(#g0_8)"/>
<rect x="39.45" y="90.43" width="178.45" height="2.99" fill="url(#g0_9)"/>
<rect x="39.45" y="92.42" width="178.45" height="2.99" fill="url(#g0_10)"/>
<rect x="39.45" y="94.41" width="178.45" height="2.99" fill="url(#g0_11)"/>
<rect x="39.45" y="96.40" width="178.45" height="2.99" fill="url(#g0_12)"/>
<rect x="39.45" y="98.40" width="178.45" height="2.99" fill="url(#g0_13)"/>
<rect x="39.45" y="100.39" width="178.45" height="2.99" fill="url(#g0_14)"/>
<rect x="39.45" y="102.38" width="178.45" height="2.99" fill="url(#g0_15)"/>
<rect x="39.45" y="104.37" width="178.45" height="2.99" fill="url(#g0_16)"/>
<rect x="39.45" y="106.36" width="178.45" height="2.99" fill="url(#g0_17)"/>
<rect x="39.45" y="108.36" width="178.45" height="2.99" fill="url(#g0_18)"/>
<rect x="39.45" y="110.35" width="178.45" height="2.99" fill="url(#g0_19)"/>
<rect x="39.45" y="112.34" width="178.45" height="2.99" fill="url(#g0_20)"/>
<rect x="39.45" y="114.33" width="178.45" height="2.99" fill="url(#g0_21)"/>
<rect x="39.45" y="116.32" width="178.45" height="2.99" fill="url(#g0_22)"/>
<rect x="39.45" y="118.32" width="178.45" height="2.99" fill="url(#g0_23)"/>
<rect x="39.45" y="120.31" width="178.45" height="2.99" fill="url(#g0_24)"/>
</g>
<rect x="39.45" y="72.50" width="178.45" height="49.80" fill="none" stroke="#000" stroke-width="0.68"/>
<path d="M40.20 122.30v3.30" stroke="#000" stroke-width="0.95"/>
<text x="39.45" y="134.90" font-size="8.77" text-anchor="middle" textLength="15.08" lengthAdjust="spacingAndGlyphs">270</text>
<path d="M62.32 122.30v3.30" stroke="#000" stroke-width="0.95"/>
<text x="61.66" y="134.90" font-size="8.77" text-anchor="middle" textLength="15.08" lengthAdjust="spacingAndGlyphs">225</text>
<path d="M84.44 122.30v3.30" stroke="#000" stroke-width="0.95"/>
<text x="83.86" y="134.90" font-size="8.77" text-anchor="middle" textLength="15.08" lengthAdjust="spacingAndGlyphs">180</text>
<path d="M106.56 122.30v3.30" stroke="#000" stroke-width="0.95"/>
<text x="106.07" y="134.90" font-size="8.77" text-anchor="middle" textLength="15.08" lengthAdjust="spacingAndGlyphs">135</text>
<path d="M128.68 122.30v3.30" stroke="#000" stroke-width="0.95"/>
<text x="128.27" y="134.90" font-size="8.77" text-anchor="middle" textLength="10.05" lengthAdjust="spacingAndGlyphs">90</text>
<path d="M150.79 122.30v3.30" stroke="#000" stroke-width="0.95"/>
<text x="150.48" y="134.90" font-size="8.77" text-anchor="middle" textLength="10.05" lengthAdjust="spacingAndGlyphs">45</text>
<path d="M172.91 122.30v3.30" stroke="#000" stroke-width="0.95"/>
<text x="172.69" y="134.90" font-size="8.77" text-anchor="middle" textLength="5.03" lengthAdjust="spacingAndGlyphs">0</text>
<path d="M195.03 122.30v3.30" stroke="#000" stroke-width="0.95"/>
<text x="194.89" y="134.90" font-size="8.77" text-anchor="middle" textLength="12.90" lengthAdjust="spacingAndGlyphs">-45</text>
<path d="M217.15 122.30v3.30" stroke="#000" stroke-width="0.95"/>
<text x="217.10" y="134.90" font-size="8.77" text-anchor="middle" textLength="12.90" lengthAdjust="spacingAndGlyphs">-90</text>
<path d="M39.45 72.99h-3.30" stroke="#000" stroke-width="0.95"/>
<text x="33.40" y="76.49" font-size="8.77" text-anchor="end" textLength="15.08" lengthAdjust="spacingAndGlyphs">100</text>
<path d="M39.45 97.40h-3.30" stroke="#000" stroke-width="0.95"/>
<text x="33.40" y="100.90" font-size="8.77" text-anchor="end" textLength="10.05" lengthAdjust="spacingAndGlyphs">75</text>
<path d="M39.45 121.81h-3.30" stroke="#000" stroke-width="0.95"/>
<text x="33.40" y="125.31" font-size="8.77" text-anchor="end" textLength="10.05" lengthAdjust="spacingAndGlyphs">50</text>
<text x="128.68" y="145.60" font-size="8.98" text-anchor="middle" textLength="18.74" lengthAdjust="spacingAndGlyphs">φ [°]</text>
<text x="11.80" y="98.30" font-size="8.98" text-anchor="middle" textLength="21.56" lengthAdjust="spacingAndGlyphs" transform="rotate(-90 11.80 98.30)">z [m]</text>
<polyline clip-path="url(#s1)" points="258.93,72.50 259.15,73.75 259.38,74.99 259.59,76.23 259.81,77.48 260.02,78.72 260.23,79.97 260.44,81.22 260.64,82.46 260.85,83.70 261.05,84.95 261.25,86.19 261.44,87.44 261.63,88.69 261.82,89.93 262.01,91.17 262.20,92.42 262.38,93.66 262.56,94.91 262.74,96.16 262.91,97.40 263.08,98.64 263.25,99.89 263.42,101.13 263.58,102.38 263.75,103.62 263.91,104.87 264.06,106.12 264.22,107.36 264.37,108.60 264.52,109.85 264.67,111.09 264.81,112.34 264.95,113.58 265.09,114.83 265.23,116.07 265.36,117.32 265.49,118.56 265.62,119.81 265.75,121.05 265.87,122.30" fill="none" stroke="#1f77b4" stroke-width="1.04" stroke-linejoin="round"/>
<path d="M242.30 72.50h-3.30" stroke="#000" stroke-width="0.95"/>
<text x="235.60" y="74.40" font-size="5.51" text-anchor="end" textLength="9.54" lengthAdjust="spacingAndGlyphs">100</text>
<path d="M242.30 97.40h-3.30" stroke="#000" stroke-width="0.95"/>
<text x="235.60" y="99.30" font-size="5.51" text-anchor="end" textLength="6.36" lengthAdjust="spacingAndGlyphs">75</text>
<path d="M242.30 122.30h-3.30" stroke="#000" stroke-width="0.95"/>
<text x="235.60" y="124.20" font-size="5.51" text-anchor="end" textLength="6.36" lengthAdjust="spacingAndGlyphs">50</text>
<path d="M278.20 122.30v3.30" stroke="#000" stroke-width="0.95"/>
<text x="274.25" y="133.90" font-size="5.51" text-anchor="start" textLength="5.85" lengthAdjust="spacingAndGlyphs">10</text>
<text x="280.10" y="131.85" font-size="3.86" text-anchor="start" textLength="2.05" lengthAdjust="spacingAndGlyphs">0</text>
<path d="M262.60 122.30v3.30" stroke="#000" stroke-width="0.95"/>
<text x="257.30" y="133.90" font-size="5.51" text-anchor="start" textLength="5.85" lengthAdjust="spacingAndGlyphs">10</text>
<text x="263.15" y="131.85" font-size="3.86" text-anchor="start" textLength="4.75" lengthAdjust="spacingAndGlyphs">−1</text>
<path d="M247.00 122.30v3.30" stroke="#000" stroke-width="0.95"/>
<text x="241.70" y="133.90" font-size="5.51" text-anchor="start" textLength="5.85" lengthAdjust="spacingAndGlyphs">10</text>
<text x="247.55" y="131.85" font-size="3.86" text-anchor="start" textLength="4.75" lengthAdjust="spacingAndGlyphs">−2</text>
<path d="M267.29 122.30v2.00" stroke="#000" stroke-width="0.60"/>
<path d="M270.04 122.30v2.00" stroke="#000" stroke-width="0.60"/>
<path d="M271.99 122.30v2.00" stroke="#000" stroke-width="0.60"/>
<path d="M273.50 122.30v2.00" stroke="#000" stroke-width="0.60"/>
<path d="M274.74 122.30v2.00" stroke="#000" stroke-width="0.60"/>
<path d="M275.78 122.30v2.00" stroke="#000" stroke-width="0.60"/>
<path d="M276.69 122.30v2.00" stroke="#000" stroke-width="0.60"/>
<path d="M277.49 122.30v2.00" stroke="#000" stroke-width="0.60"/>
<path d="M251.69 122.30v2.00" stroke="#000" stroke-width="0.60"/>
<path d="M254.44 122.30v2.00" stroke="#000" stroke-width="0.60"/>
<path d="M256.39 122.30v2.00" stroke="#000" stroke-width="0.60"/>
<path d="M257.90 122.30v2.00" stroke="#000" stroke-width="0.60"/>
<path d="M259.14 122.30v2.00" stroke="#000" stroke-width="0.60"/>
<path d="M260.18 122.30v2.00" stroke="#000" stroke-width="0.60"/>
<path d="M261.09 122.30v2.00" stroke="#000" stroke-width="0.60"/>
<path d="M261.88 122.30v2.00" stroke="#000" stroke-width="0.60"/>
<path d="M242.30 122.30v2.00" stroke="#000" stroke-width="0.60"/>
<path d="M243.54 122.30v2.00" stroke="#000" stroke-width="0.60"/>
<path d="M244.58 122.30v2.00" stroke="#000" stroke-width="0.60"/>
<path d="M245.48 122.30v2.00" stroke="#000" stroke-width="0.60"/>
<path d="M246.28 122.30v2.00" stroke="#000" stroke-width="0.60"/>
<rect x="242.30" y="72.50" width="35.90" height="49.80" fill="none" stroke="#000" stroke-width="0.72"/>
<text x="259.55" y="145.70" font-size="8.98" text-anchor="middle" textLength="54.35" lengthAdjust="spacingAndGlyphs">E/J [<tspan dx="1.53">]</tspan><tspan dx="0.90">(</tspan>φ=180)</text>
<rect x="293.00" y="3.40" width="6.90" height="133.15" fill="url(#cb)" stroke="#000" stroke-width="0.80"/>
<path d="M299.90 3.40h3.30" stroke="#000" stroke-width="0.95"/>
<text x="306.30" y="8.15" font-size="8.67" text-anchor="start" textLength="10.18" lengthAdjust="spacingAndGlyphs">10</text>
<text x="316.48" y="4.67" font-size="6.07" text-anchor="start" textLength="3.56" lengthAdjust="spacingAndGlyphs">0</text>
<path d="M299.90 61.27h3.30" stroke="#000" stroke-width="0.95"/>
<text x="306.30" y="66.02" font-size="8.67" text-anchor="start" textLength="10.18" lengthAdjust="spacingAndGlyphs">10</text>
<text x="316.48" y="62.53" font-size="6.07" text-anchor="start" textLength="8.26" lengthAdjust="spacingAndGlyphs">−1</text>
<path d="M299.90 119.13h3.30" stroke="#000" stroke-width="0.95"/>
<text x="306.30" y="123.88" font-size="8.67" text-anchor="start" textLength="10.18" lengthAdjust="spacingAndGlyphs">10</text>
<text x="316.48" y="120.40" font-size="6.07" text-anchor="start" textLength="8.26" lengthAdjust="spacingAndGlyphs">−2</text>
<path d="M299.90 43.85h2.00" stroke="#000" stroke-width="0.60"/>
<path d="M299.90 33.66h2.00" stroke="#000" stroke-width="0.60"/>
<path d="M299.90 26.43h2.00" stroke="#000" stroke-width="0.60"/>
<path d="M299.90 20.82h2.00" stroke="#000" stroke-width="0.60"/>
<path d="M299.90 16.24h2.00" stroke="#000" stroke-width="0.60"/>
<path d="M299.90 12.36h2.00" stroke="#000" stroke-width="0.60"/>
<path d="M299.90 9.01h2.00" stroke="#000" stroke-width="0.60"/>
<path d="M299.90 6.05h2.00" stroke="#000" stroke-width="0.60"/>
<path d="M299.90 101.71h2.00" stroke="#000" stroke-width="0.60"/>
<path d="M299.90 91.52h2.00" stroke="#000" stroke-width="0.60"/>
<path d="M299.90 84.29h2.00" stroke="#000" stroke-width="0.60"/>
<path d="M299.90 78.68h2.00" stroke="#000" stroke-width="0.60"/>
<path d="M299.90 74.10h2.00" stroke="#000" stroke-width="0.60"/>
<path d="M299.90 70.23h2.00" stroke="#000" stroke-width="0.60"/>
<path d="M299.90 66.87h2.00" stroke="#000" stroke-width="0.60"/>
<path d="M299.90 63.91h2.00" stroke="#000" stroke-width="0.60"/>
<path d="M299.90 136.55h2.00" stroke="#000" stroke-width="0.60"/>
<path d="M299.90 131.97h2.00" stroke="#000" stroke-width="0.60"/>
<path d="M299.90 128.09h2.00" stroke="#000" stroke-width="0.60"/>
<path d="M299.90 124.74h2.00" stroke="#000" stroke-width="0.60"/>
<path d="M299.90 121.78h2.00" stroke="#000" stroke-width="0.60"/>
<text x="334.20" y="70.38" font-size="8.98" text-anchor="middle" textLength="19.60" lengthAdjust="spacingAndGlyphs" transform="rotate(-90 334.20 70.38)">E/J [<tspan dx="1.53">]</tspan></text>
<text x="128.68" y="174.30" font-size="9.08" text-anchor="middle" textLength="257.81" lengthAdjust="spacingAndGlyphs">&quot;Relative irradiance on the wall of the hole&quot; θ = 75.0, R = 1.0</text>
<polyline points="39.45,193.79 41.93,193.88 44.41,193.99 46.89,194.10 49.36,194.23 51.84,194.36 54.32,194.50 56.80,194.64 59.28,194.78 61.76,194.92 64.23,195.06 66.71,195.19 69.19,195.31 71.67,195.41 74.15,195.50 76.63,195.57 79.11,195.63 81.58,195.66 84.06,195.67 86.54,195.66 89.02,195.63 91.50,195.57 93.98,195.50 96.45,195.41 98.93,195.31 101.41,195.19 103.89,195.06 106.37,194.92 108.85,194.78 111.33,194.64 113.80,194.50 116.28,194.36 118.76,194.23 121.24,194.10 123.72,193.99 126.20,193.88 128.68,193.79 131.15,193.70 133.63,193.63 136.11,193.57 138.59,193.52 141.07,193.48 143.55,193.45 146.02,193.43 148.50,193.41 150.98,193.40 153.46,193.39 155.94,193.39 158.42,193.39 160.90,193.38 163.37,193.38 165.85,193.38 168.33,193.38 170.81,193.38 173.29,193.38 175.77,193.38 178.24,193.38 180.72,193.38 183.20,193.38 185.68,193.38 188.16,193.39 190.64,193.39 193.12,193.39 195.59,193.40 198.07,193.41 200.55,193.43 203.03,193.45 205.51,193.48 207.99,193.52 210.46,193.57 212.94,193.63 215.42,193.70 217.90,193.79" fill="none" stroke="#1f77b4" stroke-width="1.30" stroke-linejoin="round"/>
<path d="M39.45 215.60v3.30" stroke="#000" stroke-width="0.95"/>
<text x="39.45" y="226.20" font-size="6.73" text-anchor="middle" textLength="11.45" lengthAdjust="spacingAndGlyphs">270</text>
<path d="M61.76 215.60v3.30" stroke="#000" stroke-width="0.95"/>
<text x="61.76" y="226.20" font-size="6.73" text-anchor="middle" textLength="11.45" lengthAdjust="spacingAndGlyphs">225</text>
<path d="M84.06 215.60v3.30" stroke="#000" stroke-width="0.95"/>
<text x="84.06" y="226.20" font-size="6.73" text-anchor="middle" textLength="11.45" lengthAdjust="spacingAndGlyphs">180</text>
<path d="M106.37 215.60v3.30" stroke="#000" stroke-width="0.95"/>
<text x="106.37" y="226.20" font-size="6.73" text-anchor="middle" textLength="11.45" lengthAdjust="spacingAndGlyphs">135</text>
<path d="M128.68 215.60v3.30" stroke="#000" stroke-width="0.95"/>
<text x="128.68" y="226.20" font-size="6.73" text-anchor="middle" textLength="7.63" lengthAdjust="spacingAndGlyphs">90</text>
<path d="M150.98 215.60v3.30" stroke="#000" stroke-width="0.95"/>
<text x="150.98" y="226.20" font-size="6.73" text-anchor="middle" textLength="7.63" lengthAdjust="spacingAndGlyphs">45</text>
<path d="M173.29 215.60v3.30" stroke="#000" stroke-width="0.95"/>
<text x="173.29" y="226.20" font-size="6.73" text-anchor="middle" textLength="3.82" lengthAdjust="spacingAndGlyphs">0</text>
<path d="M195.59 215.60v3.30" stroke="#000" stroke-width="0.95"/>
<text x="195.59" y="226.20" font-size="6.73" text-anchor="middle" textLength="9.80" lengthAdjust="spacingAndGlyphs">-45</text>
<path d="M217.90 215.60v3.30" stroke="#000" stroke-width="0.95"/>
<text x="217.90" y="226.20" font-size="6.73" text-anchor="middle" textLength="9.80" lengthAdjust="spacingAndGlyphs">-90</text>
<path d="M39.45 179.80h-3.30" stroke="#000" stroke-width="0.95"/>
<text x="22.16" y="182.70" font-size="6.53" text-anchor="start" textLength="7.51" lengthAdjust="spacingAndGlyphs">10</text>
<text x="29.67" y="180.27" font-size="4.57" text-anchor="start" textLength="2.63" lengthAdjust="spacingAndGlyphs">0</text>
<path d="M39.45 195.36h-3.30" stroke="#000" stroke-width="0.95"/>
<text x="18.70" y="198.26" font-size="6.53" text-anchor="start" textLength="7.51" lengthAdjust="spacingAndGlyphs">10</text>
<text x="26.21" y="195.83" font-size="4.57" text-anchor="start" textLength="6.09" lengthAdjust="spacingAndGlyphs">−1</text>
<path d="M39.45 210.92h-3.30" stroke="#000" stroke-width="0.95"/>
<text x="18.70" y="213.82" font-size="6.53" text-anchor="start" textLength="7.51" lengthAdjust="spacingAndGlyphs">10</text>
<text x="26.21" y="211.38" font-size="4.57" text-anchor="start" textLength="6.09" lengthAdjust="spacingAndGlyphs">−2</text>
<path d="M39.45 190.67h-2.00" stroke="#000" stroke-width="0.60"/>
<path d="M39.45 187.94h-2.00" stroke="#000" stroke-width="0.60"/>
<path d="M39.45 185.99h-2.00" stroke="#000" stroke-width="0.60"/>
<path d="M39.45 184.48h-2.00" stroke="#000" stroke-width="0.60"/>
<path d="M39.45 183.25h-2.00" stroke="#000" stroke-width="0.60"/>
<path d="M39.45 182.21h-2.00" stroke="#000" stroke-width="0.60"/>
<path d="M39.45 181.31h-2.00" stroke="#000" stroke-width="0.60"/>
<path d="M39.45 180.51h-2.00" stroke="#000" stroke-width="0.60"/>
<path d="M39.45 206.23h-2.00" stroke="#000" stroke-width="0.60"/>
<path d="M39.45 203.49h-2.00" stroke="#000" stroke-width="0.60"/>
<path d="M39.45 201.55h-2.00" stroke="#000" stroke-width="0.60"/>
<path d="M39.45 200.04h-2.00" stroke="#000" stroke-width="0.60"/>
<path d="M39.45 198.81h-2.00" stroke="#000" stroke-width="0.60"/>
<path d="M39.45 197.77h-2.00" stroke="#000" stroke-width="0.60"/>
<path d="M39.45 196.87h-2.00" stroke="#000" stroke-width="0.60"/>
<path d="M39.45 196.07h-2.00" stroke="#000" stroke-width="0.60"/>
<path d="M39.45 215.60h-2.00" stroke="#000" stroke-width="0.60"/>
<path d="M39.45 214.37h-2.00" stroke="#000" stroke-width="0.60"/>
<path d="M39.45 213.33h-2.00" stroke="#000" stroke-width="0.60"/>
<path d="M39.45 212.42h-2.00" stroke="#000" stroke-width="0.60"/>
<path d="M39.45 211.63h-2.00" stroke="#000" stroke-width="0.60"/>
<rect x="39.45" y="179.80" width="178.45" height="35.80" fill="none" stroke="#000" stroke-width="0.80"/>
<text x="12.30" y="197.90" font-size="6.73" text-anchor="middle" textLength="38.13" lengthAdjust="spacingAndGlyphs" transform="rotate(-90 12.30 197.90)">E/J [<tspan dx="1.14">]</tspan><tspan dx="0.67">(</tspan>z=75)</text>
<g clip-path="url(#c1)">
<rect x="39.45" y="233.80" width="178.45" height="2.99" fill="url(#g1_0)"/>
<rect x="39.45" y="235.79" width="178.45" height="2.99" fill="url(#g1_1)"/>
<rect x="39.45" y="237.78" width="178.45" height="2.99" fill="url(#g1_2)"/>
<rect x="39.45" y="239.78" width="178.45" height="2.99" fill="url(#g1_3)"/>
<rect x="39.45" y="241.77" width="178.45" height="2.99" fill="url(#g1_4)"/>
<rect x="39.45" y="243.76" width="178.45" height="2.99" fill="url(#g1_5)"/>
<rect x="39.45" y="245.75" width="178.45" height="2.99" fill="url(#g1_6)"/>
<rect x="39.45" y="247.74" width="178.45" height="2.99" fill="url(#g1_7)"/>
<rect x="39.45" y="249.74" width="178.45" height="2.99" fill="url(#g1_8)"/>
<rect x="39.45" y="251.73" width="178.45" height="2.99" fill="url(#g1_9)"/>
<rect x="39.45" y="253.72" width="178.45" height="2.99" fill="url(#g1_10)"/>
<rect x="39.45" y="255.71" width="178.45" height="2.99" fill="url(#g1_11)"/>
<rect x="39.45" y="257.70" width="178.45" height="2.99" fill="url(#g1_12)"/>
<rect x="39.45" y="259.70" width="178.45" height="2.99" fill="url(#g1_13)"/>
<rect x="39.45" y="261.69" width="178.45" height="2.99" fill="url(#g1_14)"/>
<rect x="39.45" y="263.68" width="178.45" height="2.99" fill="url(#g1_15)"/>
<rect x="39.45" y="265.67" width="178.45" height="2.99" fill="url(#g1_16)"/>
<rect x="39.45" y="267.66" width="178.45" height="2.99" fill="url(#g1_17)"/>
<rect x="39.45" y="269.66" width="178.45" height="2.99" fill="url(#g1_18)"/>
<rect x="39.45" y="271.65" width="178.45" height="2.99" fill="url(#g1_19)"/>
<rect x="39.45" y="273.64" width="178.45" height="2.99" fill="url(#g1_20)"/>
<rect x="39.45" y="275.63" width="178.45" height="2.99" fill="url(#g1_21)"/>
<rect x="39.45" y="277.62" width="178.45" height="2.99" fill="url(#g1_22)"/>
<rect x="39.45" y="279.62" width="178.45" height="2.99" fill="url(#g1_23)"/>
<rect x="39.45" y="281.61" width="178.45" height="2.99" fill="url(#g1_24)"/>
</g>
<rect x="39.45" y="233.80" width="178.45" height="49.80" fill="none" stroke="#000" stroke-width="0.68"/>
<path d="M40.20 283.60v3.30" stroke="#000" stroke-width="0.95"/>
<text x="39.45" y="296.20" font-size="8.77" text-anchor="middle" textLength="15.08" lengthAdjust="spacingAndGlyphs">270</text>
<path d="M62.32 283.60v3.30" stroke="#000" stroke-width="0.95"/>
<text x="61.66" y="296.20" font-size="8.77" text-anchor="middle" textLength="15.08" lengthAdjust="spacingAndGlyphs">225</text>
<path d="M84.44 283.60v3.30" stroke="#000" stroke-width="0.95"/>
<text x="83.86" y="296.20" font-size="8.77" text-anchor="middle" textLength="15.08" lengthAdjust="spacingAndGlyphs">180</text>
<path d="M106.56 283.60v3.30" stroke="#000" stroke-width="0.95"/>
<text x="106.07" y="296.20" font-size="8.77" text-anchor="middle" textLength="15.08" lengthAdjust="spacingAndGlyphs">135</text>
<path d="M128.68 283.60v3.30" stroke="#000" stroke-width="0.95"/>
<text x="128.27" y="296.20" font-size="8.77" text-anchor="middle" textLength="10.05" lengthAdjust="spacingAndGlyphs">90</text>
<path d="M150.79 283.60v3.30" stroke="#000" stroke-width="0.95"/>
<text x="150.48" y="296.20" font-size="8.77" text-anchor="middle" textLength="10.05" lengthAdjust="spacingAndGlyphs">45</text>
<path d="M172.91 283.60v3.30" stroke="#000" stroke-width="0.95"/>
<text x="172.69" y="296.20" font-size="8.77" text-anchor="middle" textLength="5.03" lengthAdjust="spacingAndGlyphs">0</text>
<path d="M195.03 283.60v3.30" stroke="#000" stroke-width="0.95"/>
<text x="194.89" y="296.20" font-size="8.77" text-anchor="middle" textLength="12.90" lengthAdjust="spacingAndGlyphs">-45</text>
<path d="M217.15 283.60v3.30" stroke="#000" stroke-width="0.95"/>
<text x="217.10" y="296.20" font-size="8.77" text-anchor="middle" textLength="12.90" lengthAdjust="spacingAndGlyphs">-90</text>
<path d="M39.45 234.29h-3.30" stroke="#000" stroke-width="0.95"/>
<text x="33.40" y="237.79" font-size="8.77" text-anchor="end" textLength="15.08" lengthAdjust="spacingAndGlyphs">100</text>
<path d="M39.45 258.70h-3.30" stroke="#000" stroke-width="0.95"/>
<text x="33.40" y="262.20" font-size="8.77" text-anchor="end" textLength="10.05" lengthAdjust="spacingAndGlyphs">75</text>
<path d="M39.45 283.11h-3.30" stroke="#000" stroke-width="0.95"/>
<text x="33.40" y="286.61" font-size="8.77" text-anchor="end" textLength="10.05" lengthAdjust="spacingAndGlyphs">50</text>
<text x="128.68" y="306.90" font-size="8.98" text-anchor="middle" textLength="18.74" lengthAdjust="spacingAndGlyphs">φ [°]</text>
<text x="11.80" y="259.60" font-size="8.98" text-anchor="middle" textLength="21.56" lengthAdjust="spacingAndGlyphs" transform="rotate(-90 11.80 259.60)">z [m]</text>
<polyline clip-path="url(#s2)" points="258.07,233.80 258.32,235.05 258.57,236.29 258.81,237.54 259.05,238.78 259.28,240.03 259.51,241.27 259.74,242.52 259.96,243.76 260.17,245.01 260.39,246.25 260.60,247.50 260.80,248.74 261.00,249.99 261.20,251.23 261.39,252.48 261.58,253.72 261.76,254.97 261.94,256.21 262.11,257.46 262.29,258.70 262.45,259.94 262.62,261.19 262.78,262.44 262.93,263.68 263.08,264.93 263.23,266.17 263.37,267.42 263.51,268.66 263.64,269.91 263.77,271.15 263.90,272.40 264.02,273.64 264.14,274.88 264.25,276.13 264.36,277.38 264.47,278.62 264.57,279.87 264.66,281.11 264.76,282.36 264.84,283.60" fill="none" stroke="#1f77b4" stroke-width="1.04" stroke-linejoin="round"/>
<path d="M242.30 233.80h-3.30" stroke="#000" stroke-width="0.95"/>
<text x="235.60" y="235.70" font-size="5.51" text-anchor="end" textLength="9.54" lengthAdjust="spacingAndGlyphs">100</text>
<path d="M242.30 258.70h-3.30" stroke="#000" stroke-width="0.95"/>
<text x="235.60" y="260.60" font-size="5.51" text-anchor="end" textLength="6.36" lengthAdjust="spacingAndGlyphs">75</text>
<path d="M242.30 283.60h-3.30" stroke="#000" stroke-width="0.95"/>
<text x="235.60" y="285.50" font-size="5.51" text-anchor="end" textLength="6.36" lengthAdjust="spacingAndGlyphs">50</text>
<path d="M278.20 283.60v3.30" stroke="#000" stroke-width="0.95"/>
<text x="274.25" y="295.20" font-size="5.51" text-anchor="start" textLength="5.85" lengthAdjust="spacingAndGlyphs">10</text>
<text x="280.10" y="293.15" font-size="3.86" text-anchor="start" textLength="2.05" lengthAdjust="spacingAndGlyphs">0</text>
<path d="M262.60 283.60v3.30" stroke="#000" stroke-width="0.95"/>
<text x="257.30" y="295.20" font-size="5.51" text-anchor="start" textLength="5.85" lengthAdjust="spacingAndGlyphs">10</text>
<text x="263.15" y="293.15" font-size="3.86" text-anchor="start" textLength="4.75" lengthAdjust="spacingAndGlyphs">−1</text>
<path d="M247.00 283.60v3.30" stroke="#000" stroke-width="0.95"/>
<text x="241.70" y="295.20" font-size="5.51" text-anchor="start" textLength="5.85" lengthAdjust="spacingAndGlyphs">10</text>
<text x="247.55" y="293.15" font-size="3.86" text-anchor="start" textLength="4.75" lengthAdjust="spacingAndGlyphs">−2</text>
<path d="M267.29 283.60v2.00" stroke="#000" stroke-width="0.60"/>
<path d="M270.04 283.60v2.00" stroke="#000" stroke-width="0.60"/>
<path d="M271.99 283.60v2.00" stroke="#000" stroke-width="0.60"/>
<path d="M273.50 283.60v2.00" stroke="#000" stroke-width="0.60"/>
<path d="M274.74 283.60v2.00" stroke="#000" stroke-width="0.60"/>
<path d="M275.78 283.60v2.00" stroke="#000" stroke-width="0.60"/>
<path d="M276.69 283.60v2.00" stroke="#000" stroke-width="0.60"/>
<path d="M277.49 283.60v2.00" stroke="#000" stroke-width="0.60"/>
<path d="M251.69 283.60v2.00" stroke="#000" stroke-width="0.60"/>
<path d="M254.44 283.60v2.00" stroke="#000" stroke-width="0.60"/>
<path d="M256.39 283.60v2.00" stroke="#000" stroke-width="0.60"/>
<path d="M257.90 283.60v2.00" stroke="#000" stroke-width="0.60"/>
<path d="M259.14 283.60v2.00" stroke="#000" stroke-width="0.60"/>
<path d="M260.18 283.60v2.00" stroke="#000" stroke-width="0.60"/>
<path d="M261.09 283.60v2.00" stroke="#000" stroke-width="0.60"/>
<path d="M261.88 283.60v2.00" stroke="#000" stroke-width="0.60"/>
<path d="M242.30 283.60v2.00" stroke="#000" stroke-width="0.60"/>
<path d="M243.54 283.60v2.00" stroke="#000" stroke-width="0.60"/>
<path d="M244.58 283.60v2.00" stroke="#000" stroke-width="0.60"/>
<path d="M245.48 283.60v2.00" stroke="#000" stroke-width="0.60"/>
<path d="M246.28 283.60v2.00" stroke="#000" stroke-width="0.60"/>
<rect x="242.30" y="233.80" width="35.90" height="49.80" fill="none" stroke="#000" stroke-width="0.72"/>
<text x="259.55" y="307.00" font-size="8.98" text-anchor="middle" textLength="54.35" lengthAdjust="spacingAndGlyphs">E/J [<tspan dx="1.53">]</tspan><tspan dx="0.90">(</tspan>φ=180)</text>
<rect x="293.00" y="164.50" width="6.90" height="133.40" fill="url(#cb)" stroke="#000" stroke-width="0.80"/>
<path d="M299.90 164.50h3.30" stroke="#000" stroke-width="0.95"/>
<text x="306.30" y="169.25" font-size="8.67" text-anchor="start" textLength="10.18" lengthAdjust="spacingAndGlyphs">10</text>
<text x="316.48" y="165.76" font-size="6.07" text-anchor="start" textLength="3.56" lengthAdjust="spacingAndGlyphs">0</text>
<path d="M299.90 222.47h3.30" stroke="#000" stroke-width="0.95"/>
<text x="306.30" y="227.22" font-size="8.67" text-anchor="start" textLength="10.18" lengthAdjust="spacingAndGlyphs">10</text>
<text x="316.48" y="223.74" font-size="6.07" text-anchor="start" textLength="8.26" lengthAdjust="spacingAndGlyphs">−1</text>
<path d="M299.90 280.45h3.30" stroke="#000" stroke-width="0.95"/>
<text x="306.30" y="285.20" font-size="8.67" text-anchor="start" textLength="10.18" lengthAdjust="spacingAndGlyphs">10</text>
<text x="316.48" y="281.71" font-size="6.07" text-anchor="start" textLength="8.26" lengthAdjust="spacingAndGlyphs">−2</text>
<path d="M299.90 205.02h2.00" stroke="#000" stroke-width="0.60"/>
<path d="M299.90 194.81h2.00" stroke="#000" stroke-width="0.60"/>
<path d="M299.90 187.57h2.00" stroke="#000" stroke-width="0.60"/>
<path d="M299.90 181.95h2.00" stroke="#000" stroke-width="0.60"/>
<path d="M299.90 177.36h2.00" stroke="#000" stroke-width="0.60"/>
<path d="M299.90 173.48h2.00" stroke="#000" stroke-width="0.60"/>
<path d="M299.90 170.12h2.00" stroke="#000" stroke-width="0.60"/>
<path d="M299.90 167.15h2.00" stroke="#000" stroke-width="0.60"/>
<path d="M299.90 263.00h2.00" stroke="#000" stroke-width="0.60"/>
<path d="M299.90 252.79h2.00" stroke="#000" stroke-width="0.60"/>
<path d="M299.90 245.54h2.00" stroke="#000" stroke-width="0.60"/>
<path d="M299.90 239.93h2.00" stroke="#000" stroke-width="0.60"/>
<path d="M299.90 235.34h2.00" stroke="#000" stroke-width="0.60"/>
<path d="M299.90 231.45h2.00" stroke="#000" stroke-width="0.60"/>
<path d="M299.90 228.09h2.00" stroke="#000" stroke-width="0.60"/>
<path d="M299.90 225.13h2.00" stroke="#000" stroke-width="0.60"/>
<path d="M299.90 297.90h2.00" stroke="#000" stroke-width="0.60"/>
<path d="M299.90 293.31h2.00" stroke="#000" stroke-width="0.60"/>
<path d="M299.90 289.43h2.00" stroke="#000" stroke-width="0.60"/>
<path d="M299.90 286.07h2.00" stroke="#000" stroke-width="0.60"/>
<path d="M299.90 283.10h2.00" stroke="#000" stroke-width="0.60"/>
<text x="334.20" y="231.60" font-size="8.98" text-anchor="middle" textLength="19.60" lengthAdjust="spacingAndGlyphs" transform="rotate(-90 334.20 231.60)">E/J [<tspan dx="1.53">]</tspan></text>
<text x="128.68" y="335.60" font-size="9.08" text-anchor="middle" textLength="257.81" lengthAdjust="spacingAndGlyphs">&quot;Relative irradiance on the wall of the hole&quot; θ = 60.0, R = 1.0</text>
<polyline points="39.45,355.45 41.93,355.60 44.41,355.76 46.89,355.96 49.36,356.17 51.84,356.40 54.32,356.65 56.80,356.92 59.28,357.19 61.76,357.46 64.23,357.73 66.71,357.99 69.19,358.23 71.67,358.45 74.15,358.64 76.63,358.79 79.11,358.90 81.58,358.97 84.06,358.99 86.54,358.97 89.02,358.90 91.50,358.79 93.98,358.64 96.45,358.45 98.93,358.23 101.41,357.99 103.89,357.73 106.37,357.46 108.85,357.19 111.33,356.92 113.80,356.65 116.28,356.40 118.76,356.17 121.24,355.96 123.72,355.76 126.20,355.60 128.68,355.45 131.15,355.33 133.63,355.23 136.11,355.15 138.59,355.09 141.07,355.04 143.55,355.01 146.02,354.99 148.50,354.97 150.98,354.96 153.46,354.95 155.94,354.95 158.42,354.95 160.90,354.95 163.37,354.95 165.85,354.95 168.33,354.95 170.81,354.95 173.29,354.95 175.77,354.95 178.24,354.95 180.72,354.95 183.20,354.95 185.68,354.95 188.16,354.95 190.64,354.95 193.12,354.95 195.59,354.96 198.07,354.97 200.55,354.99 203.03,355.01 205.51,355.04 207.99,355.09 210.46,355.15 212.94,355.23 215.42,355.33 217.90,355.45" fill="none" stroke="#1f77b4" stroke-width="1.30" stroke-linejoin="round"/>
<path d="M39.45 376.90v3.30" stroke="#000" stroke-width="0.95"/>
<text x="39.45" y="387.50" font-size="6.73" text-anchor="middle" textLength="11.45" lengthAdjust="spacingAndGlyphs">270</text>
<path d="M61.76 376.90v3.30" stroke="#000" stroke-width="0.95"/>
<text x="61.76" y="387.50" font-size="6.73" text-anchor="middle" textLength="11.45" lengthAdjust="spacingAndGlyphs">225</text>
<path d="M84.06 376.90v3.30" stroke="#000" stroke-width="0.95"/>
<text x="84.06" y="387.50" font-size="6.73" text-anchor="middle" textLength="11.45" lengthAdjust="spacingAndGlyphs">180</text>
<path d="M106.37 376.90v3.30" stroke="#000" stroke-width="0.95"/>
<text x="106.37" y="387.50" font-size="6.73" text-anchor="middle" textLength="11.45" lengthAdjust="spacingAndGlyphs">135</text>
<path d="M128.68 376.90v3.30" stroke="#000" stroke-width="0.95"/>
<text x="128.68" y="387.50" font-size="6.73" text-anchor="middle" textLength="7.63" lengthAdjust="spacingAndGlyphs">90</text>
<path d="M150.98 376.90v3.30" stroke="#000" stroke-width="0.95"/>
<text x="150.98" y="387.50" font-size="6.73" text-anchor="middle" textLength="7.63" lengthAdjust="spacingAndGlyphs">45</text>
<path d="M173.29 376.90v3.30" stroke="#000" stroke-width="0.95"/>
<text x="173.29" y="387.50" font-size="6.73" text-anchor="middle" textLength="3.82" lengthAdjust="spacingAndGlyphs">0</text>
<path d="M195.59 376.90v3.30" stroke="#000" stroke-width="0.95"/>
<text x="195.59" y="387.50" font-size="6.73" text-anchor="middle" textLength="9.80" lengthAdjust="spacingAndGlyphs">-45</text>
<path d="M217.90 376.90v3.30" stroke="#000" stroke-width="0.95"/>
<text x="217.90" y="387.50" font-size="6.73" text-anchor="middle" textLength="9.80" lengthAdjust="spacingAndGlyphs">-90</text>
<path d="M39.45 341.10h-3.30" stroke="#000" stroke-width="0.95"/>
<text x="22.16" y="344.00" font-size="6.53" text-anchor="start" textLength="7.51" lengthAdjust="spacingAndGlyphs">10</text>
<text x="29.67" y="341.57" font-size="4.57" text-anchor="start" textLength="2.63" lengthAdjust="spacingAndGlyphs">0</text>
<path d="M39.45 356.66h-3.30" stroke="#000" stroke-width="0.95"/>
<text x="18.70" y="359.56" font-size="6.53" text-anchor="start" textLength="7.51" lengthAdjust="spacingAndGlyphs">10</text>
<text x="26.21" y="357.13" font-size="4.57" text-anchor="start" textLength="6.09" lengthAdjust="spacingAndGlyphs">−1</text>
<path d="M39.45 372.22h-3.30" stroke="#000" stroke-width="0.95"/>
<text x="18.70" y="375.12" font-size="6.53" text-anchor="start" textLength="7.51" lengthAdjust="spacingAndGlyphs">10</text>
<text x="26.21" y="372.68" font-size="4.57" text-anchor="start" textLength="6.09" lengthAdjust="spacingAndGlyphs">−2</text>
<path d="M39.45 351.97h-2.00" stroke="#000" stroke-width="0.60"/>
<path d="M39.45 349.24h-2.00" stroke="#000" stroke-width="0.60"/>
<path d="M39.45 347.29h-2.00" stroke="#000" stroke-width="0.60"/>
<path d="M39.45 345.78h-2.00" stroke="#000" stroke-width="0.60"/>
<path d="M39.45 344.55h-2.00" stroke="#000" stroke-width="0.60"/>
<path d="M39.45 343.51h-2.00" stroke="#000" stroke-width="0.60"/>
<path d="M39.45 342.61h-2.00" stroke="#000" stroke-width="0.60"/>
<path d="M39.45 341.81h-2.00" stroke="#000" stroke-width="0.60"/>
<path d="M39.45 367.53h-2.00" stroke="#000" stroke-width="0.60"/>
<path d="M39.45 364.79h-2.00" stroke="#000" stroke-width="0.60"/>
<path d="M39.45 362.85h-2.00" stroke="#000" stroke-width="0.60"/>
<path d="M39.45 361.34h-2.00" stroke="#000" stroke-width="0.60"/>
<path d="M39.45 360.11h-2.00" stroke="#000" stroke-width="0.60"/>
<path d="M39.45 359.07h-2.00" stroke="#000" stroke-width="0.60"/>
<path d="M39.45 358.17h-2.00" stroke="#000" stroke-width="0.60"/>
<path d="M39.45 357.37h-2.00" stroke="#000" stroke-width="0.60"/>
<path d="M39.45 376.90h-2.00" stroke="#000" stroke-width="0.60"/>
<path d="M39.45 375.67h-2.00" stroke="#000" stroke-width="0.60"/>
<path d="M39.45 374.63h-2.00" stroke="#000" stroke-width="0.60"/>
<path d="M39.45 373.72h-2.00" stroke="#000" stroke-width="0.60"/>
<path d="M39.45 372.93h-2.00" stroke="#000" stroke-width="0.60"/>
<rect x="39.45" y="341.10" width="178.45" height="35.80" fill="none" stroke="#000" stroke-width="0.80"/>
<text x="12.30" y="359.20" font-size="6.73" text-anchor="middle" textLength="38.13" lengthAdjust="spacingAndGlyphs" transform="rotate(-90 12.30 359.20)">E/J [<tspan dx="1.14">]</tspan><tspan dx="0.67">(</tspan>z=75)</text>
<g clip-path="url(#c2)">
<rect x="39.45" y="395.10" width="178.45" height="2.99" fill="url(#g2_0)"/>
<rect x="39.45" y="397.09" width="178.45" height="2.99" fill="url(#g2_1)"/>
<rect x="39.45" y="399.08" width="178.45" height="2.99" fill="url(#g2_2)"/>
<rect x="39.45" y="401.08" width="178.45" height="2.99" fill="url(#g2_3)"/>
<rect x="39.45" y="403.07" width="178.45" height="2.99" fill="url(#g2_4)"/>
<rect x="39.45" y="405.06" width="178.45" height="2.99" fill="url(#g2_5)"/>
<rect x="39.45" y="407.05" width="178.45" height="2.99" fill="url(#g2_6)"/>
<rect x="39.45" y="409.04" width="178.45" height="2.99" fill="url(#g2_7)"/>
<rect x="39.45" y="411.04" width="178.45" height="2.99" fill="url(#g2_8)"/>
<rect x="39.45" y="413.03" width="178.45" height="2.99" fill="url(#g2_9)"/>
<rect x="39.45" y="415.02" width="178.45" height="2.99" fill="url(#g2_10)"/>
<rect x="39.45" y="417.01" width="178.45" height="2.99" fill="url(#g2_11)"/>
<rect x="39.45" y="419.00" width="178.45" height="2.99" fill="url(#g2_12)"/>
<rect x="39.45" y="421.00" width="178.45" height="2.99" fill="url(#g2_13)"/>
<rect x="39.45" y="422.99" width="178.45" height="2.99" fill="url(#g2_14)"/>
<rect x="39.45" y="424.98" width="178.45" height="2.99" fill="url(#g2_15)"/>
<rect x="39.45" y="426.97" width="178.45" height="2.99" fill="url(#g2_16)"/>
<rect x="39.45" y="428.96" width="178.45" height="2.99" fill="url(#g2_17)"/>
<rect x="39.45" y="430.96" width="178.45" height="2.99" fill="url(#g2_18)"/>
<rect x="39.45" y="432.95" width="178.45" height="2.99" fill="url(#g2_19)"/>
<rect x="39.45" y="434.94" width="178.45" height="2.99" fill="url(#g2_20)"/>
<rect x="39.45" y="436.93" width="178.45" height="2.99" fill="url(#g2_21)"/>
<rect x="39.45" y="438.92" width="178.45" height="2.99" fill="url(#g2_22)"/>
<rect x="39.45" y="440.92" width="178.45" height="2.99" fill="url(#g2_23)"/>
<rect x="39.45" y="442.91" width="178.45" height="2.99" fill="url(#g2_24)"/>
</g>
<rect x="39.45" y="395.10" width="178.45" height="49.80" fill="none" stroke="#000" stroke-width="0.68"/>
<path d="M40.20 444.90v3.30" stroke="#000" stroke-width="0.95"/>
<text x="39.45" y="457.50" font-size="8.77" text-anchor="middle" textLength="15.08" lengthAdjust="spacingAndGlyphs">270</text>
<path d="M62.32 444.90v3.30" stroke="#000" stroke-width="0.95"/>
<text x="61.66" y="457.50" font-size="8.77" text-anchor="middle" textLength="15.08" lengthAdjust="spacingAndGlyphs">225</text>
<path d="M84.44 444.90v3.30" stroke="#000" stroke-width="0.95"/>
<text x="83.86" y="457.50" font-size="8.77" text-anchor="middle" textLength="15.08" lengthAdjust="spacingAndGlyphs">180</text>
<path d="M106.56 444.90v3.30" stroke="#000" stroke-width="0.95"/>
<text x="106.07" y="457.50" font-size="8.77" text-anchor="middle" textLength="15.08" lengthAdjust="spacingAndGlyphs">135</text>
<path d="M128.68 444.90v3.30" stroke="#000" stroke-width="0.95"/>
<text x="128.27" y="457.50" font-size="8.77" text-anchor="middle" textLength="10.05" lengthAdjust="spacingAndGlyphs">90</text>
<path d="M150.79 444.90v3.30" stroke="#000" stroke-width="0.95"/>
<text x="150.48" y="457.50" font-size="8.77" text-anchor="middle" textLength="10.05" lengthAdjust="spacingAndGlyphs">45</text>
<path d="M172.91 444.90v3.30" stroke="#000" stroke-width="0.95"/>
<text x="172.69" y="457.50" font-size="8.77" text-anchor="middle" textLength="5.03" lengthAdjust="spacingAndGlyphs">0</text>
<path d="M195.03 444.90v3.30" stroke="#000" stroke-width="0.95"/>
<text x="194.89" y="457.50" font-size="8.77" text-anchor="middle" textLength="12.90" lengthAdjust="spacingAndGlyphs">-45</text>
<path d="M217.15 444.90v3.30" stroke="#000" stroke-width="0.95"/>
<text x="217.10" y="457.50" font-size="8.77" text-anchor="middle" textLength="12.90" lengthAdjust="spacingAndGlyphs">-90</text>
<path d="M39.45 395.59h-3.30" stroke="#000" stroke-width="0.95"/>
<text x="33.40" y="399.09" font-size="8.77" text-anchor="end" textLength="15.08" lengthAdjust="spacingAndGlyphs">100</text>
<path d="M39.45 420.00h-3.30" stroke="#000" stroke-width="0.95"/>
<text x="33.40" y="423.50" font-size="8.77" text-anchor="end" textLength="10.05" lengthAdjust="spacingAndGlyphs">75</text>
<path d="M39.45 444.41h-3.30" stroke="#000" stroke-width="0.95"/>
<text x="33.40" y="447.91" font-size="8.77" text-anchor="end" textLength="10.05" lengthAdjust="spacingAndGlyphs">50</text>
<text x="128.68" y="468.20" font-size="8.98" text-anchor="middle" textLength="18.74" lengthAdjust="spacingAndGlyphs">φ [°]</text>
<text x="11.80" y="420.90" font-size="8.98" text-anchor="middle" textLength="21.56" lengthAdjust="spacingAndGlyphs" transform="rotate(-90 11.80 420.90)">z [m]</text>
<polyline clip-path="url(#s3)" points="256.67,395.10 256.90,396.35 257.12,397.59 257.34,398.84 257.56,400.08 257.77,401.33 257.97,402.57 258.17,403.81 258.36,405.06 258.55,406.31 258.73,407.55 258.91,408.80 259.08,410.04 259.25,411.29 259.41,412.53 259.56,413.78 259.71,415.02 259.86,416.27 260.00,417.51 260.13,418.76 260.26,420.00 260.38,421.25 260.50,422.49 260.61,423.74 260.72,424.98 260.82,426.23 260.92,427.47 261.01,428.72 261.09,429.96 261.18,431.21 261.25,432.45 261.32,433.70 261.39,434.94 261.44,436.19 261.50,437.43 261.55,438.68 261.59,439.92 261.63,441.17 261.66,442.41 261.69,443.66 261.71,444.90" fill="none" stroke="#1f77b4" stroke-width="1.04" stroke-linejoin="round"/>
<path d="M242.30 395.10h-3.30" stroke="#000" stroke-width="0.95"/>
<text x="235.60" y="397.00" font-size="5.51" text-anchor="end" textLength="9.54" lengthAdjust="spacingAndGlyphs">100</text>
<path d="M242.30 420.00h-3.30" stroke="#000" stroke-width="0.95"/>
<text x="235.60" y="421.90" font-size="5.51" text-anchor="end" textLength="6.36" lengthAdjust="spacingAndGlyphs">75</text>
<path d="M242.30 444.90h-3.30" stroke="#000" stroke-width="0.95"/>
<text x="235.60" y="446.80" font-size="5.51" text-anchor="end" textLength="6.36" lengthAdjust="spacingAndGlyphs">50</text>
<path d="M278.20 444.90v3.30" stroke="#000" stroke-width="0.95"/>
<text x="274.25" y="456.50" font-size="5.51" text-anchor="start" textLength="5.85" lengthAdjust="spacingAndGlyphs">10</text>
<text x="280.10" y="454.45" font-size="3.86" text-anchor="start" textLength="2.05" lengthAdjust="spacingAndGlyphs">0</text>
<path d="M262.60 444.90v3.30" stroke="#000" stroke-width="0.95"/>
<text x="257.30" y="456.50" font-size="5.51" text-anchor="start" textLength="5.85" lengthAdjust="spacingAndGlyphs">10</text>
<text x="263.15" y="454.45" font-size="3.86" text-anchor="start" textLength="4.75" lengthAdjust="spacingAndGlyphs">−1</text>
<path d="M247.00 444.90v3.30" stroke="#000" stroke-width="0.95"/>
<text x="241.70" y="456.50" font-size="5.51" text-anchor="start" textLength="5.85" lengthAdjust="spacingAndGlyphs">10</text>
<text x="247.55" y="454.45" font-size="3.86" text-anchor="start" textLength="4.75" lengthAdjust="spacingAndGlyphs">−2</text>
<path d="M267.29 444.90v2.00" stroke="#000" stroke-width="0.60"/>
<path d="M270.04 444.90v2.00" stroke="#000" stroke-width="0.60"/>
<path d="M271.99 444.90v2.00" stroke="#000" stroke-width="0.60"/>
<path d="M273.50 444.90v2.00" stroke="#000" stroke-width="0.60"/>
<path d="M274.74 444.90v2.00" stroke="#000" stroke-width="0.60"/>
<path d="M275.78 444.90v2.00" stroke="#000" stroke-width="0.60"/>
<path d="M276.69 444.90v2.00" stroke="#000" stroke-width="0.60"/>
<path d="M277.49 444.90v2.00" stroke="#000" stroke-width="0.60"/>
<path d="M251.69 444.90v2.00" stroke="#000" stroke-width="0.60"/>
<path d="M254.44 444.90v2.00" stroke="#000" stroke-width="0.60"/>
<path d="M256.39 444.90v2.00" stroke="#000" stroke-width="0.60"/>
<path d="M257.90 444.90v2.00" stroke="#000" stroke-width="0.60"/>
<path d="M259.14 444.90v2.00" stroke="#000" stroke-width="0.60"/>
<path d="M260.18 444.90v2.00" stroke="#000" stroke-width="0.60"/>
<path d="M261.09 444.90v2.00" stroke="#000" stroke-width="0.60"/>
<path d="M261.88 444.90v2.00" stroke="#000" stroke-width="0.60"/>
<path d="M242.30 444.90v2.00" stroke="#000" stroke-width="0.60"/>
<path d="M243.54 444.90v2.00" stroke="#000" stroke-width="0.60"/>
<path d="M244.58 444.90v2.00" stroke="#000" stroke-width="0.60"/>
<path d="M245.48 444.90v2.00" stroke="#000" stroke-width="0.60"/>
<path d="M246.28 444.90v2.00" stroke="#000" stroke-width="0.60"/>
<rect x="242.30" y="395.10" width="35.90" height="49.80" fill="none" stroke="#000" stroke-width="0.72"/>
<text x="259.55" y="468.30" font-size="8.98" text-anchor="middle" textLength="54.35" lengthAdjust="spacingAndGlyphs">E/J [<tspan dx="1.53">]</tspan><tspan dx="0.90">(</tspan>φ=180)</text>
<rect x="293.00" y="325.50" width="6.90" height="133.80" fill="url(#cb)" stroke="#000" stroke-width="0.80"/>
<path d="M299.90 325.50h3.30" stroke="#000" stroke-width="0.95"/>
<text x="306.30" y="330.25" font-size="8.67" text-anchor="start" textLength="10.18" lengthAdjust="spacingAndGlyphs">10</text>
<text x="316.48" y="326.76" font-size="6.07" text-anchor="start" textLength="3.56" lengthAdjust="spacingAndGlyphs">0</text>
<path d="M299.90 383.65h3.30" stroke="#000" stroke-width="0.95"/>
<text x="306.30" y="388.40" font-size="8.67" text-anchor="start" textLength="10.18" lengthAdjust="spacingAndGlyphs">10</text>
<text x="316.48" y="384.91" font-size="6.07" text-anchor="start" textLength="8.26" lengthAdjust="spacingAndGlyphs">−1</text>
<path d="M299.90 441.80h3.30" stroke="#000" stroke-width="0.95"/>
<text x="306.30" y="446.55" font-size="8.67" text-anchor="start" textLength="10.18" lengthAdjust="spacingAndGlyphs">10</text>
<text x="316.48" y="443.06" font-size="6.07" text-anchor="start" textLength="8.26" lengthAdjust="spacingAndGlyphs">−2</text>
<path d="M299.90 366.14h2.00" stroke="#000" stroke-width="0.60"/>
<path d="M299.90 355.90h2.00" stroke="#000" stroke-width="0.60"/>
<path d="M299.90 348.64h2.00" stroke="#000" stroke-width="0.60"/>
<path d="M299.90 343.00h2.00" stroke="#000" stroke-width="0.60"/>
<path d="M299.90 338.40h2.00" stroke="#000" stroke-width="0.60"/>
<path d="M299.90 334.51h2.00" stroke="#000" stroke-width="0.60"/>
<path d="M299.90 331.14h2.00" stroke="#000" stroke-width="0.60"/>
<path d="M299.90 328.16h2.00" stroke="#000" stroke-width="0.60"/>
<path d="M299.90 424.29h2.00" stroke="#000" stroke-width="0.60"/>
<path d="M299.90 414.05h2.00" stroke="#000" stroke-width="0.60"/>
<path d="M299.90 406.79h2.00" stroke="#000" stroke-width="0.60"/>
<path d="M299.90 401.15h2.00" stroke="#000" stroke-width="0.60"/>
<path d="M299.90 396.55h2.00" stroke="#000" stroke-width="0.60"/>
<path d="M299.90 392.66h2.00" stroke="#000" stroke-width="0.60"/>
<path d="M299.90 389.28h2.00" stroke="#000" stroke-width="0.60"/>
<path d="M299.90 386.31h2.00" stroke="#000" stroke-width="0.60"/>
<path d="M299.90 459.30h2.00" stroke="#000" stroke-width="0.60"/>
<path d="M299.90 454.70h2.00" stroke="#000" stroke-width="0.60"/>
<path d="M299.90 450.80h2.00" stroke="#000" stroke-width="0.60"/>
<path d="M299.90 447.43h2.00" stroke="#000" stroke-width="0.60"/>
<path d="M299.90 444.46h2.00" stroke="#000" stroke-width="0.60"/>
<text x="334.20" y="392.80" font-size="8.98" text-anchor="middle" textLength="19.60" lengthAdjust="spacingAndGlyphs" transform="rotate(-90 334.20 392.80)">E/J [<tspan dx="1.53">]</tspan></text>
<text x="477.67" y="13.00" font-size="9.08" text-anchor="middle" textLength="257.81" lengthAdjust="spacingAndGlyphs">&quot;Relative irradiance on the wall of the hole&quot; θ = 45.0, R = 1.0</text>
<polyline points="388.45,33.36 390.93,33.55 393.41,33.77 395.89,34.00 398.36,34.26 400.84,34.54 403.32,34.83 405.80,35.12 408.28,35.43 410.76,35.72 413.23,36.01 415.71,36.29 418.19,36.54 420.67,36.77 423.15,36.96 425.63,37.12 428.11,37.23 430.58,37.30 433.06,37.33 435.54,37.30 438.02,37.23 440.50,37.12 442.98,36.96 445.45,36.77 447.93,36.54 450.41,36.29 452.89,36.01 455.37,35.72 457.85,35.43 460.33,35.12 462.80,34.83 465.28,34.54 467.76,34.26 470.24,34.00 472.72,33.77 475.20,33.55 477.67,33.36 480.15,33.20 482.63,33.06 485.11,32.94 487.59,32.84 490.07,32.77 492.55,32.71 495.02,32.67 497.50,32.63 499.98,32.61 502.46,32.60 504.94,32.59 507.42,32.58 509.90,32.58 512.37,32.58 514.85,32.58 517.33,32.58 519.81,32.58 522.29,32.58 524.77,32.58 527.24,32.58 529.72,32.58 532.20,32.58 534.68,32.58 537.16,32.58 539.64,32.59 542.12,32.60 544.59,32.61 547.07,32.63 549.55,32.67 552.03,32.71 554.51,32.77 556.99,32.84 559.46,32.94 561.94,33.06 564.42,33.20 566.90,33.36" fill="none" stroke="#1f77b4" stroke-width="1.30" stroke-linejoin="round"/>
<path d="M388.45 54.30v3.30" stroke="#000" stroke-width="0.95"/>
<text x="388.45" y="64.90" font-size="6.73" text-anchor="middle" textLength="11.45" lengthAdjust="spacingAndGlyphs">270</text>
<path d="M410.76 54.30v3.30" stroke="#000" stroke-width="0.95"/>
<text x="410.76" y="64.90" font-size="6.73" text-anchor="middle" textLength="11.45" lengthAdjust="spacingAndGlyphs">225</text>
<path d="M433.06 54.30v3.30" stroke="#000" stroke-width="0.95"/>
<text x="433.06" y="64.90" font-size="6.73" text-anchor="middle" textLength="11.45" lengthAdjust="spacingAndGlyphs">180</text>
<path d="M455.37 54.30v3.30" stroke="#000" stroke-width="0.95"/>
<text x="455.37" y="64.90" font-size="6.73" text-anchor="middle" textLength="11.45" lengthAdjust="spacingAndGlyphs">135</text>
<path d="M477.67 54.30v3.30" stroke="#000" stroke-width="0.95"/>
<text x="477.67" y="64.90" font-size="6.73" text-anchor="middle" textLength="7.63" lengthAdjust="spacingAndGlyphs">90</text>
<path d="M499.98 54.30v3.30" stroke="#000" stroke-width="0.95"/>
<text x="499.98" y="64.90" font-size="6.73" text-anchor="middle" textLength="7.63" lengthAdjust="spacingAndGlyphs">45</text>
<path d="M522.29 54.30v3.30" stroke="#000" stroke-width="0.95"/>
<text x="522.29" y="64.90" font-size="6.73" text-anchor="middle" textLength="3.82" lengthAdjust="spacingAndGlyphs">0</text>
<path d="M544.59 54.30v3.30" stroke="#000" stroke-width="0.95"/>
<text x="544.59" y="64.90" font-size="6.73" text-anchor="middle" textLength="9.80" lengthAdjust="spacingAndGlyphs">-45</text>
<path d="M566.90 54.30v3.30" stroke="#000" stroke-width="0.95"/>
<text x="566.90" y="64.90" font-size="6.73" text-anchor="middle" textLength="9.80" lengthAdjust="spacingAndGlyphs">-90</text>
<path d="M388.45 18.50h-3.30" stroke="#000" stroke-width="0.95"/>
<text x="371.16" y="21.40" font-size="6.53" text-anchor="start" textLength="7.51" lengthAdjust="spacingAndGlyphs">10</text>
<text x="378.67" y="18.97" font-size="4.57" text-anchor="start" textLength="2.63" lengthAdjust="spacingAndGlyphs">0</text>
<path d="M388.45 34.06h-3.30" stroke="#000" stroke-width="0.95"/>
<text x="367.70" y="36.96" font-size="6.53" text-anchor="start" textLength="7.51" lengthAdjust="spacingAndGlyphs">10</text>
<text x="375.21" y="34.53" font-size="4.57" text-anchor="start" textLength="6.09" lengthAdjust="spacingAndGlyphs">−1</text>
<path d="M388.45 49.62h-3.30" stroke="#000" stroke-width="0.95"/>
<text x="367.70" y="52.52" font-size="6.53" text-anchor="start" textLength="7.51" lengthAdjust="spacingAndGlyphs">10</text>
<text x="375.21" y="50.08" font-size="4.57" text-anchor="start" textLength="6.09" lengthAdjust="spacingAndGlyphs">−2</text>
<path d="M388.45 29.37h-2.00" stroke="#000" stroke-width="0.60"/>
<path d="M388.45 26.64h-2.00" stroke="#000" stroke-width="0.60"/>
<path d="M388.45 24.69h-2.00" stroke="#000" stroke-width="0.60"/>
<path d="M388.45 23.18h-2.00" stroke="#000" stroke-width="0.60"/>
<path d="M388.45 21.95h-2.00" stroke="#000" stroke-width="0.60"/>
<path d="M388.45 20.91h-2.00" stroke="#000" stroke-width="0.60"/>
<path d="M388.45 20.01h-2.00" stroke="#000" stroke-width="0.60"/>
<path d="M388.45 19.21h-2.00" stroke="#000" stroke-width="0.60"/>
<path d="M388.45 44.93h-2.00" stroke="#000" stroke-width="0.60"/>
<path d="M388.45 42.19h-2.00" stroke="#000" stroke-width="0.60"/>
<path d="M388.45 40.25h-2.00" stroke="#000" stroke-width="0.60"/>
<path d="M388.45 38.74h-2.00" stroke="#000" stroke-width="0.60"/>
<path d="M388.45 37.51h-2.00" stroke="#000" stroke-width="0.60"/>
<path d="M388.45 36.47h-2.00" stroke="#000" stroke-width="0.60"/>
<path d="M388.45 35.57h-2.00" stroke="#000" stroke-width="0.60"/>
<path d="M388.45 34.77h-2.00" stroke="#000" stroke-width="0.60"/>
<path d="M388.45 54.30h-2.00" stroke="#000" stroke-width="0.60"/>
<path d="M388.45 53.07h-2.00" stroke="#000" stroke-width="0.60"/>
<path d="M388.45 52.03h-2.00" stroke="#000" stroke-width="0.60"/>
<path d="M388.45 51.12h-2.00" stroke="#000" stroke-width="0.60"/>
<path d="M388.45 50.33h-2.00" stroke="#000" stroke-width="0.60"/>
<rect x="388.45" y="18.50" width="178.45" height="35.80" fill="none" stroke="#000" stroke-width="0.80"/>
<text x="361.30" y="36.60" font-size="6.73" text-anchor="middle" textLength="38.13" lengthAdjust="spacingAndGlyphs" transform="rotate(-90 361.30 36.60)">E/J [<tspan dx="1.14">]</tspan><tspan dx="0.67">(</tspan>z=75)</text>
<g clip-path="url(#c3)">
<rect x="388.45" y="72.50" width="178.45" height="2.99" fill="url(#g3_0)"/>
<rect x="388.45" y="74.49" width="178.45" height="2.99" fill="url(#g3_1)"/>
<rect x="388.45" y="76.48" width="178.45" height="2.99" fill="url(#g3_2)"/>
<rect x="388.45" y="78.48" width="178.45" height="2.99" fill="url(#g3_3)"/>
<rect x="388.45" y="80.47" width="178.45" height="2.99" fill="url(#g3_4)"/>
<rect x="388.45" y="82.46" width="178.45" height="2.99" fill="url(#g3_5)"/>
<rect x="388.45" y="84.45" width="178.45" height="2.99" fill="url(#g3_6)"/>
<rect x="388.45" y="86.44" width="178.45" height="2.99" fill="url(#g3_7)"/>
<rect x="388.45" y="88.44" width="178.45" height="2.99" fill="url(#g3_8)"/>
<rect x="388.45" y="90.43" width="178.45" height="2.99" fill="url(#g3_9)"/>
<rect x="388.45" y="92.42" width="178.45" height="2.99" fill="url(#g3_10)"/>
<rect x="388.45" y="94.41" width="178.45" height="2.99" fill="url(#g3_11)"/>
<rect x="388.45" y="96.40" width="178.45" height="2.99" fill="url(#g3_12)"/>
<rect x="388.45" y="98.40" width="178.45" height="2.99" fill="url(#g3_13)"/>
<rect x="388.45" y="100.39" width="178.45" height="2.99" fill="url(#g3_14)"/>
<rect x="388.45" y="102.38" width="178.45" height="2.99" fill="url(#g3_15)"/>
<rect x="388.45" y="104.37" width="178.45" height="2.99" fill="url(#g3_16)"/>
<rect x="388.45" y="106.36" width="178.45" height="2.99" fill="url(#g3_17)"/>
<rect x="388.45" y="108.36" width="178.45" height="2.99" fill="url(#g3_18)"/>
<rect x="388.45" y="110.35" width="178.45" height="2.99" fill="url(#g3_19)"/>
<rect x="388.45" y="112.34" width="178.45" height="2.99" fill="url(#g3_20)"/>
<rect x="388.45" y="114.33" width="178.45" height="2.99" fill="url(#g3_21)"/>
<rect x="388.45" y="116.32" width="178.45" height="2.99" fill="url(#g3_22)"/>
<rect x="388.45" y="118.32" width="178.45" height="2.99" fill="url(#g3_23)"/>
<rect x="388.45" y="120.31" width="178.45" height="2.99" fill="url(#g3_24)"/>
</g>
<rect x="388.45" y="72.50" width="178.45" height="49.80" fill="none" stroke="#000" stroke-width="0.68"/>
<path d="M389.20 122.30v3.30" stroke="#000" stroke-width="0.95"/>
<text x="388.45" y="134.90" font-size="8.77" text-anchor="middle" textLength="15.08" lengthAdjust="spacingAndGlyphs">270</text>
<path d="M411.32 122.30v3.30" stroke="#000" stroke-width="0.95"/>
<text x="410.66" y="134.90" font-size="8.77" text-anchor="middle" textLength="15.08" lengthAdjust="spacingAndGlyphs">225</text>
<path d="M433.44 122.30v3.30" stroke="#000" stroke-width="0.95"/>
<text x="432.86" y="134.90" font-size="8.77" text-anchor="middle" textLength="15.08" lengthAdjust="spacingAndGlyphs">180</text>
<path d="M455.56 122.30v3.30" stroke="#000" stroke-width="0.95"/>
<text x="455.07" y="134.90" font-size="8.77" text-anchor="middle" textLength="15.08" lengthAdjust="spacingAndGlyphs">135</text>
<path d="M477.67 122.30v3.30" stroke="#000" stroke-width="0.95"/>
<text x="477.27" y="134.90" font-size="8.77" text-anchor="middle" textLength="10.05" lengthAdjust="spacingAndGlyphs">90</text>
<path d="M499.79 122.30v3.30" stroke="#000" stroke-width="0.95"/>
<text x="499.48" y="134.90" font-size="8.77" text-anchor="middle" textLength="10.05" lengthAdjust="spacingAndGlyphs">45</text>
<path d="M521.91 122.30v3.30" stroke="#000" stroke-width="0.95"/>
<text x="521.69" y="134.90" font-size="8.77" text-anchor="middle" textLength="5.03" lengthAdjust="spacingAndGlyphs">0</text>
<path d="M544.03 122.30v3.30" stroke="#000" stroke-width="0.95"/>
<text x="543.89" y="134.90" font-size="8.77" text-anchor="middle" textLength="12.90" lengthAdjust="spacingAndGlyphs">-45</text>
<path d="M566.15 122.30v3.30" stroke="#000" stroke-width="0.95"/>
<text x="566.10" y="134.90" font-size="8.77" text-anchor="middle" textLength="12.90" lengthAdjust="spacingAndGlyphs">-90</text>
<path d="M388.45 72.99h-3.30" stroke="#000" stroke-width="0.95"/>
<text x="382.40" y="76.49" font-size="8.77" text-anchor="end" textLength="15.08" lengthAdjust="spacingAndGlyphs">100</text>
<path d="M388.45 97.40h-3.30" stroke="#000" stroke-width="0.95"/>
<text x="382.40" y="100.90" font-size="8.77" text-anchor="end" textLength="10.05" lengthAdjust="spacingAndGlyphs">75</text>
<path d="M388.45 121.81h-3.30" stroke="#000" stroke-width="0.95"/>
<text x="382.40" y="125.31" font-size="8.77" text-anchor="end" textLength="10.05" lengthAdjust="spacingAndGlyphs">50</text>
<text x="477.67" y="145.60" font-size="8.98" text-anchor="middle" textLength="18.74" lengthAdjust="spacingAndGlyphs">φ [°]</text>
<text x="360.80" y="98.30" font-size="8.98" text-anchor="middle" textLength="21.56" lengthAdjust="spacingAndGlyphs" transform="rotate(-90 360.80 98.30)">z [m]</text>
<polyline clip-path="url(#s4)" points="605.05,72.50 605.38,73.75 605.69,74.99 605.98,76.23 606.26,77.48 606.52,78.72 606.77,79.97 606.99,81.22 607.20,82.46 607.39,83.70 607.56,84.95 607.72,86.19 607.85,87.44 607.97,88.69 608.08,89.93 608.16,91.17 608.23,92.42 608.28,93.66 608.31,94.91 608.32,96.16 608.32,97.40 608.30,98.64 608.26,99.89 608.21,101.13 608.13,102.38 608.04,103.62 607.94,104.87 607.81,106.12 607.67,107.36 607.51,108.60 607.33,109.85 607.13,111.09 606.92,112.34 606.69,113.58 606.44,114.83 606.17,116.07 605.89,117.32 605.59,118.56 605.27,119.81 604.93,121.05 604.58,122.30" fill="none" stroke="#1f77b4" stroke-width="1.04" stroke-linejoin="round"/>
<path d="M591.30 72.50h-3.30" stroke="#000" stroke-width="0.95"/>
<text x="584.60" y="74.40" font-size="5.51" text-anchor="end" textLength="9.54" lengthAdjust="spacingAndGlyphs">100</text>
<path d="M591.30 97.40h-3.30" stroke="#000" stroke-width="0.95"/>
<text x="584.60" y="99.30" font-size="5.51" text-anchor="end" textLength="6.36" lengthAdjust="spacingAndGlyphs">75</text>
<path d="M591.30 122.30h-3.30" stroke="#000" stroke-width="0.95"/>
<text x="584.60" y="124.20" font-size="5.51" text-anchor="end" textLength="6.36" lengthAdjust="spacingAndGlyphs">50</text>
<path d="M627.20 122.30v3.30" stroke="#000" stroke-width="0.95"/>
<text x="623.25" y="133.90" font-size="5.51" text-anchor="start" textLength="5.85" lengthAdjust="spacingAndGlyphs">10</text>
<text x="629.10" y="131.85" font-size="3.86" text-anchor="start" textLength="2.05" lengthAdjust="spacingAndGlyphs">0</text>
<path d="M611.60 122.30v3.30" stroke="#000" stroke-width="0.95"/>
<text x="606.30" y="133.90" font-size="5.51" text-anchor="start" textLength="5.85" lengthAdjust="spacingAndGlyphs">10</text>
<text x="612.15" y="131.85" font-size="3.86" text-anchor="start" textLength="4.75" lengthAdjust="spacingAndGlyphs">−1</text>
<path d="M596.00 122.30v3.30" stroke="#000" stroke-width="0.95"/>
<text x="590.70" y="133.90" font-size="5.51" text-anchor="start" textLength="5.85" lengthAdjust="spacingAndGlyphs">10</text>
<text x="596.55" y="131.85" font-size="3.86" text-anchor="start" textLength="4.75" lengthAdjust="spacingAndGlyphs">−2</text>
<path d="M616.29 122.30v2.00" stroke="#000" stroke-width="0.60"/>
<path d="M619.04 122.30v2.00" stroke="#000" stroke-width="0.60"/>
<path d="M620.99 122.30v2.00" stroke="#000" stroke-width="0.60"/>
<path d="M622.50 122.30v2.00" stroke="#000" stroke-width="0.60"/>
<path d="M623.74 122.30v2.00" stroke="#000" stroke-width="0.60"/>
<path d="M624.78 122.30v2.00" stroke="#000" stroke-width="0.60"/>
<path d="M625.69 122.30v2.00" stroke="#000" stroke-width="0.60"/>
<path d="M626.49 122.30v2.00" stroke="#000" stroke-width="0.60"/>
<path d="M600.69 122.30v2.00" stroke="#000" stroke-width="0.60"/>
<path d="M603.44 122.30v2.00" stroke="#000" stroke-width="0.60"/>
<path d="M605.39 122.30v2.00" stroke="#000" stroke-width="0.60"/>
<path d="M606.90 122.30v2.00" stroke="#000" stroke-width="0.60"/>
<path d="M608.14 122.30v2.00" stroke="#000" stroke-width="0.60"/>
<path d="M609.18 122.30v2.00" stroke="#000" stroke-width="0.60"/>
<path d="M610.09 122.30v2.00" stroke="#000" stroke-width="0.60"/>
<path d="M610.88 122.30v2.00" stroke="#000" stroke-width="0.60"/>
<path d="M591.30 122.30v2.00" stroke="#000" stroke-width="0.60"/>
<path d="M592.54 122.30v2.00" stroke="#000" stroke-width="0.60"/>
<path d="M593.58 122.30v2.00" stroke="#000" stroke-width="0.60"/>
<path d="M594.48 122.30v2.00" stroke="#000" stroke-width="0.60"/>
<path d="M595.28 122.30v2.00" stroke="#000" stroke-width="0.60"/>
<rect x="591.30" y="72.50" width="35.90" height="49.80" fill="none" stroke="#000" stroke-width="0.72"/>
<text x="608.55" y="145.70" font-size="8.98" text-anchor="middle" textLength="54.35" lengthAdjust="spacingAndGlyphs">E/J [<tspan dx="1.53">]</tspan><tspan dx="0.90">(</tspan>φ=180)</text>
<rect x="642.00" y="3.40" width="6.90" height="133.15" fill="url(#cb)" stroke="#000" stroke-width="0.80"/>
<path d="M648.90 3.40h3.30" stroke="#000" stroke-width="0.95"/>
<text x="655.30" y="8.15" font-size="8.67" text-anchor="start" textLength="10.18" lengthAdjust="spacingAndGlyphs">10</text>
<text x="665.48" y="4.67" font-size="6.07" text-anchor="start" textLength="3.56" lengthAdjust="spacingAndGlyphs">0</text>
<path d="M648.90 61.27h3.30" stroke="#000" stroke-width="0.95"/>
<text x="655.30" y="66.02" font-size="8.67" text-anchor="start" textLength="10.18" lengthAdjust="spacingAndGlyphs">10</text>
<text x="665.48" y="62.53" font-size="6.07" text-anchor="start" textLength="8.26" lengthAdjust="spacingAndGlyphs">−1</text>
<path d="M648.90 119.13h3.30" stroke="#000" stroke-width="0.95"/>
<text x="655.30" y="123.88" font-size="8.67" text-anchor="start" textLength="10.18" lengthAdjust="spacingAndGlyphs">10</text>
<text x="665.48" y="120.40" font-size="6.07" text-anchor="start" textLength="8.26" lengthAdjust="spacingAndGlyphs">−2</text>
<path d="M648.90 43.85h2.00" stroke="#000" stroke-width="0.60"/>
<path d="M648.90 33.66h2.00" stroke="#000" stroke-width="0.60"/>
<path d="M648.90 26.43h2.00" stroke="#000" stroke-width="0.60"/>
<path d="M648.90 20.82h2.00" stroke="#000" stroke-width="0.60"/>
<path d="M648.90 16.24h2.00" stroke="#000" stroke-width="0.60"/>
<path d="M648.90 12.36h2.00" stroke="#000" stroke-width="0.60"/>
<path d="M648.90 9.01h2.00" stroke="#000" stroke-width="0.60"/>
<path d="M648.90 6.05h2.00" stroke="#000" stroke-width="0.60"/>
<path d="M648.90 101.71h2.00" stroke="#000" stroke-width="0.60"/>
<path d="M648.90 91.52h2.00" stroke="#000" stroke-width="0.60"/>
<path d="M648.90 84.29h2.00" stroke="#000" stroke-width="0.60"/>
<path d="M648.90 78.68h2.00" stroke="#000" stroke-width="0.60"/>
<path d="M648.90 74.10h2.00" stroke="#000" stroke-width="0.60"/>
<path d="M648.90 70.23h2.00" stroke="#000" stroke-width="0.60"/>
<path d="M648.90 66.87h2.00" stroke="#000" stroke-width="0.60"/>
<path d="M648.90 63.91h2.00" stroke="#000" stroke-width="0.60"/>
<path d="M648.90 136.55h2.00" stroke="#000" stroke-width="0.60"/>
<path d="M648.90 131.97h2.00" stroke="#000" stroke-width="0.60"/>
<path d="M648.90 128.09h2.00" stroke="#000" stroke-width="0.60"/>
<path d="M648.90 124.74h2.00" stroke="#000" stroke-width="0.60"/>
<path d="M648.90 121.78h2.00" stroke="#000" stroke-width="0.60"/>
<text x="683.20" y="70.38" font-size="8.98" text-anchor="middle" textLength="19.60" lengthAdjust="spacingAndGlyphs" transform="rotate(-90 683.20 70.38)">E/J [<tspan dx="1.53">]</tspan></text>
<text x="477.67" y="174.30" font-size="9.08" text-anchor="middle" textLength="257.81" lengthAdjust="spacingAndGlyphs">&quot;Relative irradiance on the wall of the hole&quot; θ = 30.0, R = 1.0</text>
<polyline points="388.45,194.72 390.93,194.89 393.41,195.08 395.89,195.29 398.36,195.52 400.84,195.77 403.32,196.03 405.80,196.30 408.28,196.58 410.76,196.85 413.23,197.11 415.71,197.36 418.19,197.60 420.67,197.80 423.15,197.98 425.63,198.12 428.11,198.23 430.58,198.29 433.06,198.31 435.54,198.29 438.02,198.23 440.50,198.12 442.98,197.98 445.45,197.80 447.93,197.60 450.41,197.36 452.89,197.11 455.37,196.85 457.85,196.58 460.33,196.30 462.80,196.03 465.28,195.77 467.76,195.52 470.24,195.29 472.72,195.08 475.20,194.89 477.67,194.72 480.15,194.57 482.63,194.45 485.11,194.34 487.59,194.26 490.07,194.19 492.55,194.14 495.02,194.11 497.50,194.08 499.98,194.06 502.46,194.05 504.94,194.04 507.42,194.04 509.90,194.04 512.37,194.04 514.85,194.04 517.33,194.04 519.81,194.04 522.29,194.04 524.77,194.04 527.24,194.04 529.72,194.04 532.20,194.04 534.68,194.04 537.16,194.04 539.64,194.04 542.12,194.05 544.59,194.06 547.07,194.08 549.55,194.11 552.03,194.14 554.51,194.19 556.99,194.26 559.46,194.34 561.94,194.45 564.42,194.57 566.90,194.72" fill="none" stroke="#1f77b4" stroke-width="1.30" stroke-linejoin="round"/>
<path d="M388.45 215.60v3.30" stroke="#000" stroke-width="0.95"/>
<text x="388.45" y="226.20" font-size="6.73" text-anchor="middle" textLength="11.45" lengthAdjust="spacingAndGlyphs">270</text>
<path d="M410.76 215.60v3.30" stroke="#000" stroke-width="0.95"/>
<text x="410.76" y="226.20" font-size="6.73" text-anchor="middle" textLength="11.45" lengthAdjust="spacingAndGlyphs">225</text>
<path d="M433.06 215.60v3.30" stroke="#000" stroke-width="0.95"/>
<text x="433.06" y="226.20" font-size="6.73" text-anchor="middle" textLength="11.45" lengthAdjust="spacingAndGlyphs">180</text>
<path d="M455.37 215.60v3.30" stroke="#000" stroke-width="0.95"/>
<text x="455.37" y="226.20" font-size="6.73" text-anchor="middle" textLength="11.45" lengthAdjust="spacingAndGlyphs">135</text>
<path d="M477.67 215.60v3.30" stroke="#000" stroke-width="0.95"/>
<text x="477.67" y="226.20" font-size="6.73" text-anchor="middle" textLength="7.63" lengthAdjust="spacingAndGlyphs">90</text>
<path d="M499.98 215.60v3.30" stroke="#000" stroke-width="0.95"/>
<text x="499.98" y="226.20" font-size="6.73" text-anchor="middle" textLength="7.63" lengthAdjust="spacingAndGlyphs">45</text>
<path d="M522.29 215.60v3.30" stroke="#000" stroke-width="0.95"/>
<text x="522.29" y="226.20" font-size="6.73" text-anchor="middle" textLength="3.82" lengthAdjust="spacingAndGlyphs">0</text>
<path d="M544.59 215.60v3.30" stroke="#000" stroke-width="0.95"/>
<text x="544.59" y="226.20" font-size="6.73" text-anchor="middle" textLength="9.80" lengthAdjust="spacingAndGlyphs">-45</text>
<path d="M566.90 215.60v3.30" stroke="#000" stroke-width="0.95"/>
<text x="566.90" y="226.20" font-size="6.73" text-anchor="middle" textLength="9.80" lengthAdjust="spacingAndGlyphs">-90</text>
<path d="M388.45 179.80h-3.30" stroke="#000" stroke-width="0.95"/>
<text x="371.16" y="182.70" font-size="6.53" text-anchor="start" textLength="7.51" lengthAdjust="spacingAndGlyphs">10</text>
<text x="378.67" y="180.27" font-size="4.57" text-anchor="start" textLength="2.63" lengthAdjust="spacingAndGlyphs">0</text>
<path d="M388.45 195.36h-3.30" stroke="#000" stroke-width="0.95"/>
<text x="367.70" y="198.26" font-size="6.53" text-anchor="start" textLength="7.51" lengthAdjust="spacingAndGlyphs">10</text>
<text x="375.21" y="195.83" font-size="4.57" text-anchor="start" textLength="6.09" lengthAdjust="spacingAndGlyphs">−1</text>
<path d="M388.45 210.92h-3.30" stroke="#000" stroke-width="0.95"/>
<text x="367.70" y="213.82" font-size="6.53" text-anchor="start" textLength="7.51" lengthAdjust="spacingAndGlyphs">10</text>
<text x="375.21" y="211.38" font-size="4.57" text-anchor="start" textLength="6.09" lengthAdjust="spacingAndGlyphs">−2</text>
<path d="M388.45 190.67h-2.00" stroke="#000" stroke-width="0.60"/>
<path d="M388.45 187.94h-2.00" stroke="#000" stroke-width="0.60"/>
<path d="M388.45 185.99h-2.00" stroke="#000" stroke-width="0.60"/>
<path d="M388.45 184.48h-2.00" stroke="#000" stroke-width="0.60"/>
<path d="M388.45 183.25h-2.00" stroke="#000" stroke-width="0.60"/>
<path d="M388.45 182.21h-2.00" stroke="#000" stroke-width="0.60"/>
<path d="M388.45 181.31h-2.00" stroke="#000" stroke-width="0.60"/>
<path d="M388.45 180.51h-2.00" stroke="#000" stroke-width="0.60"/>
<path d="M388.45 206.23h-2.00" stroke="#000" stroke-width="0.60"/>
<path d="M388.45 203.49h-2.00" stroke="#000" stroke-width="0.60"/>
<path d="M388.45 201.55h-2.00" stroke="#000" stroke-width="0.60"/>
<path d="M388.45 200.04h-2.00" stroke="#000" stroke-width="0.60"/>
<path d="M388.45 198.81h-2.00" stroke="#000" stroke-width="0.60"/>
<path d="M388.45 197.77h-2.00" stroke="#000" stroke-width="0.60"/>
<path d="M388.45 196.87h-2.00" stroke="#000" stroke-width="0.60"/>
<path d="M388.45 196.07h-2.00" stroke="#000" stroke-width="0.60"/>
<path d="M388.45 215.60h-2.00" stroke="#000" stroke-width="0.60"/>
<path d="M388.45 214.37h-2.00" stroke="#000" stroke-width="0.60"/>
<path d="M388.45 213.33h-2.00" stroke="#000" stroke-width="0.60"/>
<path d="M388.45 212.42h-2.00" stroke="#000" stroke-width="0.60"/>
<path d="M388.45 211.63h-2.00" stroke="#000" stroke-width="0.60"/>
<rect x="388.45" y="179.80" width="178.45" height="35.80" fill="none" stroke="#000" stroke-width="0.80"/>
<text x="361.30" y="197.90" font-size="6.73" text-anchor="middle" textLength="38.13" lengthAdjust="spacingAndGlyphs" transform="rotate(-90 361.30 197.90)">E/J [<tspan dx="1.14">]</tspan><tspan dx="0.67">(</tspan>z=75)</text>
<g clip-path="url(#c4)">
<rect x="388.45" y="233.80" width="178.45" height="2.99" fill="url(#g4_0)"/>
<rect x="388.45" y="235.79" width="178.45" height="2.99" fill="url(#g4_1)"/>
<rect x="388.45" y="237.78" width="178.45" height="2.99" fill="url(#g4_2)"/>
<rect x="388.45" y="239.78" width="178.45" height="2.99" fill="url(#g4_3)"/>
<rect x="388.45" y="241.77" width="178.45" height="2.99" fill="url(#g4_4)"/>
<rect x="388.45" y="243.76" width="178.45" height="2.99" fill="url(#g4_5)"/>
<rect x="388.45" y="245.75" width="178.45" height="2.99" fill="url(#g4_6)"/>
<rect x="388.45" y="247.74" width="178.45" height="2.99" fill="url(#g4_7)"/>
<rect x="388.45" y="249.74" width="178.45" height="2.99" fill="url(#g4_8)"/>
<rect x="388.45" y="251.73" width="178.45" height="2.99" fill="url(#g4_9)"/>
<rect x="388.45" y="253.72" width="178.45" height="2.99" fill="url(#g4_10)"/>
<rect x="388.45" y="255.71" width="178.45" height="2.99" fill="url(#g4_11)"/>
<rect x="388.45" y="257.70" width="178.45" height="2.99" fill="url(#g4_12)"/>
<rect x="388.45" y="259.70" width="178.45" height="2.99" fill="url(#g4_13)"/>
<rect x="388.45" y="261.69" width="178.45" height="2.99" fill="url(#g4_14)"/>
<rect x="388.45" y="263.68" width="178.45" height="2.99" fill="url(#g4_15)"/>
<rect x="388.45" y="265.67" width="178.45" height="2.99" fill="url(#g4_16)"/>
<rect x="388.45" y="267.66" width="178.45" height="2.99" fill="url(#g4_17)"/>
<rect x="388.45" y="269.66" width="178.45" height="2.99" fill="url(#g4_18)"/>
<rect x="388.45" y="271.65" width="178.45" height="2.99" fill="url(#g4_19)"/>
<rect x="388.45" y="273.64" width="178.45" height="2.99" fill="url(#g4_20)"/>
<rect x="388.45" y="275.63" width="178.45" height="2.99" fill="url(#g4_21)"/>
<rect x="388.45" y="277.62" width="178.45" height="2.99" fill="url(#g4_22)"/>
<rect x="388.45" y="279.62" width="178.45" height="2.99" fill="url(#g4_23)"/>
<rect x="388.45" y="281.61" width="178.45" height="2.99" fill="url(#g4_24)"/>
</g>
<rect x="388.45" y="233.80" width="178.45" height="49.80" fill="none" stroke="#000" stroke-width="0.68"/>
<path d="M389.20 283.60v3.30" stroke="#000" stroke-width="0.95"/>
<text x="388.45" y="296.20" font-size="8.77" text-anchor="middle" textLength="15.08" lengthAdjust="spacingAndGlyphs">270</text>
<path d="M411.32 283.60v3.30" stroke="#000" stroke-width="0.95"/>
<text x="410.66" y="296.20" font-size="8.77" text-anchor="middle" textLength="15.08" lengthAdjust="spacingAndGlyphs">225</text>
<path d="M433.44 283.60v3.30" stroke="#000" stroke-width="0.95"/>
<text x="432.86" y="296.20" font-size="8.77" text-anchor="middle" textLength="15.08" lengthAdjust="spacingAndGlyphs">180</text>
<path d="M455.56 283.60v3.30" stroke="#000" stroke-width="0.95"/>
<text x="455.07" y="296.20" font-size="8.77" text-anchor="middle" textLength="15.08" lengthAdjust="spacingAndGlyphs">135</text>
<path d="M477.67 283.60v3.30" stroke="#000" stroke-width="0.95"/>
<text x="477.27" y="296.20" font-size="8.77" text-anchor="middle" textLength="10.05" lengthAdjust="spacingAndGlyphs">90</text>
<path d="M499.79 283.60v3.30" stroke="#000" stroke-width="0.95"/>
<text x="499.48" y="296.20" font-size="8.77" text-anchor="middle" textLength="10.05" lengthAdjust="spacingAndGlyphs">45</text>
<path d="M521.91 283.60v3.30" stroke="#000" stroke-width="0.95"/>
<text x="521.69" y="296.20" font-size="8.77" text-anchor="middle" textLength="5.03" lengthAdjust="spacingAndGlyphs">0</text>
<path d="M544.03 283.60v3.30" stroke="#000" stroke-width="0.95"/>
<text x="543.89" y="296.20" font-size="8.77" text-anchor="middle" textLength="12.90" lengthAdjust="spacingAndGlyphs">-45</text>
<path d="M566.15 283.60v3.30" stroke="#000" stroke-width="0.95"/>
<text x="566.10" y="296.20" font-size="8.77" text-anchor="middle" textLength="12.90" lengthAdjust="spacingAndGlyphs">-90</text>
<path d="M388.45 234.29h-3.30" stroke="#000" stroke-width="0.95"/>
<text x="382.40" y="237.79" font-size="8.77" text-anchor="end" textLength="15.08" lengthAdjust="spacingAndGlyphs">100</text>
<path d="M388.45 258.70h-3.30" stroke="#000" stroke-width="0.95"/>
<text x="382.40" y="262.20" font-size="8.77" text-anchor="end" textLength="10.05" lengthAdjust="spacingAndGlyphs">75</text>
<path d="M388.45 283.11h-3.30" stroke="#000" stroke-width="0.95"/>
<text x="382.40" y="286.61" font-size="8.77" text-anchor="end" textLength="10.05" lengthAdjust="spacingAndGlyphs">50</text>
<text x="477.67" y="306.90" font-size="8.98" text-anchor="middle" textLength="18.74" lengthAdjust="spacingAndGlyphs">φ [°]</text>
<text x="360.80" y="259.60" font-size="8.98" text-anchor="middle" textLength="21.56" lengthAdjust="spacingAndGlyphs" transform="rotate(-90 360.80 259.60)">z [m]</text>
<polyline clip-path="url(#s5)" points="606.76,233.80 607.01,235.05 607.25,236.29 607.47,237.54 607.67,238.78 607.86,240.03 608.03,241.27 608.18,242.52 608.32,243.76 608.43,245.01 608.54,246.25 608.62,247.50 608.69,248.74 608.74,249.99 608.78,251.23 608.79,252.48 608.80,253.72 608.78,254.97 608.75,256.21 608.70,257.46 608.63,258.70 608.55,259.94 608.45,261.19 608.34,262.44 608.20,263.68 608.05,264.93 607.89,266.17 607.70,267.42 607.50,268.66 607.29,269.91 607.05,271.15 606.80,272.40 606.54,273.64 606.25,274.88 605.95,276.13 605.64,277.38 605.30,278.62 604.95,279.87 604.58,281.11 604.20,282.36 603.80,283.60" fill="none" stroke="#1f77b4" stroke-width="1.04" stroke-linejoin="round"/>
<path d="M591.30 233.80h-3.30" stroke="#000" stroke-width="0.95"/>
<text x="584.60" y="235.70" font-size="5.51" text-anchor="end" textLength="9.54" lengthAdjust="spacingAndGlyphs">100</text>
<path d="M591.30 258.70h-3.30" stroke="#000" stroke-width="0.95"/>
<text x="584.60" y="260.60" font-size="5.51" text-anchor="end" textLength="6.36" lengthAdjust="spacingAndGlyphs">75</text>
<path d="M591.30 283.60h-3.30" stroke="#000" stroke-width="0.95"/>
<text x="584.60" y="285.50" font-size="5.51" text-anchor="end" textLength="6.36" lengthAdjust="spacingAndGlyphs">50</text>
<path d="M627.20 283.60v3.30" stroke="#000" stroke-width="0.95"/>
<text x="623.25" y="295.20" font-size="5.51" text-anchor="start" textLength="5.85" lengthAdjust="spacingAndGlyphs">10</text>
<text x="629.10" y="293.15" font-size="3.86" text-anchor="start" textLength="2.05" lengthAdjust="spacingAndGlyphs">0</text>
<path d="M611.60 283.60v3.30" stroke="#000" stroke-width="0.95"/>
<text x="606.30" y="295.20" font-size="5.51" text-anchor="start" textLength="5.85" lengthAdjust="spacingAndGlyphs">10</text>
<text x="612.15" y="293.15" font-size="3.86" text-anchor="start" textLength="4.75" lengthAdjust="spacingAndGlyphs">−1</text>
<path d="M596.00 283.60v3.30" stroke="#000" stroke-width="0.95"/>
<text x="590.70" y="295.20" font-size="5.51" text-anchor="start" textLength="5.85" lengthAdjust="spacingAndGlyphs">10</text>
<text x="596.55" y="293.15" font-size="3.86" text-anchor="start" textLength="4.75" lengthAdjust="spacingAndGlyphs">−2</text>
<path d="M616.29 283.60v2.00" stroke="#000" stroke-width="0.60"/>
<path d="M619.04 283.60v2.00" stroke="#000" stroke-width="0.60"/>
<path d="M620.99 283.60v2.00" stroke="#000" stroke-width="0.60"/>
<path d="M622.50 283.60v2.00" stroke="#000" stroke-width="0.60"/>
<path d="M623.74 283.60v2.00" stroke="#000" stroke-width="0.60"/>
<path d="M624.78 283.60v2.00" stroke="#000" stroke-width="0.60"/>
<path d="M625.69 283.60v2.00" stroke="#000" stroke-width="0.60"/>
<path d="M626.49 283.60v2.00" stroke="#000" stroke-width="0.60"/>
<path d="M600.69 283.60v2.00" stroke="#000" stroke-width="0.60"/>
<path d="M603.44 283.60v2.00" stroke="#000" stroke-width="0.60"/>
<path d="M605.39 283.60v2.00" stroke="#000" stroke-width="0.60"/>
<path d="M606.90 283.60v2.00" stroke="#000" stroke-width="0.60"/>
<path d="M608.14 283.60v2.00" stroke="#000" stroke-width="0.60"/>
<path d="M609.18 283.60v2.00" stroke="#000" stroke-width="0.60"/>
<path d="M610.09 283.60v2.00" stroke="#000" stroke-width="0.60"/>
<path d="M610.88 283.60v2.00" stroke="#000" stroke-width="0.60"/>
<path d="M591.30 283.60v2.00" stroke="#000" stroke-width="0.60"/>
<path d="M592.54 283.60v2.00" stroke="#000" stroke-width="0.60"/>
<path d="M593.58 283.60v2.00" stroke="#000" stroke-width="0.60"/>
<path d="M594.48 283.60v2.00" stroke="#000" stroke-width="0.60"/>
<path d="M595.28 283.60v2.00" stroke="#000" stroke-width="0.60"/>
<rect x="591.30" y="233.80" width="35.90" height="49.80" fill="none" stroke="#000" stroke-width="0.72"/>
<text x="608.55" y="307.00" font-size="8.98" text-anchor="middle" textLength="54.35" lengthAdjust="spacingAndGlyphs">E/J [<tspan dx="1.53">]</tspan><tspan dx="0.90">(</tspan>φ=180)</text>
<rect x="642.00" y="164.50" width="6.90" height="133.40" fill="url(#cb)" stroke="#000" stroke-width="0.80"/>
<path d="M648.90 164.50h3.30" stroke="#000" stroke-width="0.95"/>
<text x="655.30" y="169.25" font-size="8.67" text-anchor="start" textLength="10.18" lengthAdjust="spacingAndGlyphs">10</text>
<text x="665.48" y="165.76" font-size="6.07" text-anchor="start" textLength="3.56" lengthAdjust="spacingAndGlyphs">0</text>
<path d="M648.90 222.47h3.30" stroke="#000" stroke-width="0.95"/>
<text x="655.30" y="227.22" font-size="8.67" text-anchor="start" textLength="10.18" lengthAdjust="spacingAndGlyphs">10</text>
<text x="665.48" y="223.74" font-size="6.07" text-anchor="start" textLength="8.26" lengthAdjust="spacingAndGlyphs">−1</text>
<path d="M648.90 280.45h3.30" stroke="#000" stroke-width="0.95"/>
<text x="655.30" y="285.20" font-size="8.67" text-anchor="start" textLength="10.18" lengthAdjust="spacingAndGlyphs">10</text>
<text x="665.48" y="281.71" font-size="6.07" text-anchor="start" textLength="8.26" lengthAdjust="spacingAndGlyphs">−2</text>
<path d="M648.90 205.02h2.00" stroke="#000" stroke-width="0.60"/>
<path d="M648.90 194.81h2.00" stroke="#000" stroke-width="0.60"/>
<path d="M648.90 187.57h2.00" stroke="#000" stroke-width="0.60"/>
<path d="M648.90 181.95h2.00" stroke="#000" stroke-width="0.60"/>
<path d="M648.90 177.36h2.00" stroke="#000" stroke-width="0.60"/>
<path d="M648.90 173.48h2.00" stroke="#000" stroke-width="0.60"/>
<path d="M648.90 170.12h2.00" stroke="#000" stroke-width="0.60"/>
<path d="M648.90 167.15h2.00" stroke="#000" stroke-width="0.60"/>
<path d="M648.90 263.00h2.00" stroke="#000" stroke-width="0.60"/>
<path d="M648.90 252.79h2.00" stroke="#000" stroke-width="0.60"/>
<path d="M648.90 245.54h2.00" stroke="#000" stroke-width="0.60"/>
<path d="M648.90 239.93h2.00" stroke="#000" stroke-width="0.60"/>
<path d="M648.90 235.34h2.00" stroke="#000" stroke-width="0.60"/>
<path d="M648.90 231.45h2.00" stroke="#000" stroke-width="0.60"/>
<path d="M648.90 228.09h2.00" stroke="#000" stroke-width="0.60"/>
<path d="M648.90 225.13h2.00" stroke="#000" stroke-width="0.60"/>
<path d="M648.90 297.90h2.00" stroke="#000" stroke-width="0.60"/>
<path d="M648.90 293.31h2.00" stroke="#000" stroke-width="0.60"/>
<path d="M648.90 289.43h2.00" stroke="#000" stroke-width="0.60"/>
<path d="M648.90 286.07h2.00" stroke="#000" stroke-width="0.60"/>
<path d="M648.90 283.10h2.00" stroke="#000" stroke-width="0.60"/>
<text x="683.20" y="231.60" font-size="8.98" text-anchor="middle" textLength="19.60" lengthAdjust="spacingAndGlyphs" transform="rotate(-90 683.20 231.60)">E/J [<tspan dx="1.53">]</tspan></text>
<text x="477.67" y="335.60" font-size="9.08" text-anchor="middle" textLength="257.81" lengthAdjust="spacingAndGlyphs">&quot;Relative irradiance on the wall of the hole&quot; θ = 15.0, R = 1.0</text>
<polyline points="388.45,360.35 390.93,360.51 393.41,360.70 395.89,360.90 398.36,361.12 400.84,361.36 403.32,361.62 405.80,361.88 408.28,362.14 410.76,362.40 413.23,362.66 415.71,362.90 418.19,363.12 420.67,363.32 423.15,363.49 425.63,363.63 428.11,363.73 430.58,363.79 433.06,363.82 435.54,363.79 438.02,363.73 440.50,363.63 442.98,363.49 445.45,363.32 447.93,363.12 450.41,362.90 452.89,362.66 455.37,362.40 457.85,362.14 460.33,361.88 462.80,361.62 465.28,361.36 467.76,361.12 470.24,360.90 472.72,360.70 475.20,360.51 477.67,360.35 480.15,360.21 482.63,360.09 485.11,359.99 487.59,359.91 490.07,359.85 492.55,359.80 495.02,359.76 497.50,359.74 499.98,359.72 502.46,359.71 504.94,359.70 507.42,359.70 509.90,359.69 512.37,359.69 514.85,359.69 517.33,359.69 519.81,359.69 522.29,359.69 524.77,359.69 527.24,359.69 529.72,359.69 532.20,359.69 534.68,359.69 537.16,359.70 539.64,359.70 542.12,359.71 544.59,359.72 547.07,359.74 549.55,359.76 552.03,359.80 554.51,359.85 556.99,359.91 559.46,359.99 561.94,360.09 564.42,360.21 566.90,360.35" fill="none" stroke="#1f77b4" stroke-width="1.30" stroke-linejoin="round"/>
<path d="M388.45 376.90v3.30" stroke="#000" stroke-width="0.95"/>
<text x="388.45" y="387.50" font-size="6.73" text-anchor="middle" textLength="11.45" lengthAdjust="spacingAndGlyphs">270</text>
<path d="M410.76 376.90v3.30" stroke="#000" stroke-width="0.95"/>
<text x="410.76" y="387.50" font-size="6.73" text-anchor="middle" textLength="11.45" lengthAdjust="spacingAndGlyphs">225</text>
<path d="M433.06 376.90v3.30" stroke="#000" stroke-width="0.95"/>
<text x="433.06" y="387.50" font-size="6.73" text-anchor="middle" textLength="11.45" lengthAdjust="spacingAndGlyphs">180</text>
<path d="M455.37 376.90v3.30" stroke="#000" stroke-width="0.95"/>
<text x="455.37" y="387.50" font-size="6.73" text-anchor="middle" textLength="11.45" lengthAdjust="spacingAndGlyphs">135</text>
<path d="M477.67 376.90v3.30" stroke="#000" stroke-width="0.95"/>
<text x="477.67" y="387.50" font-size="6.73" text-anchor="middle" textLength="7.63" lengthAdjust="spacingAndGlyphs">90</text>
<path d="M499.98 376.90v3.30" stroke="#000" stroke-width="0.95"/>
<text x="499.98" y="387.50" font-size="6.73" text-anchor="middle" textLength="7.63" lengthAdjust="spacingAndGlyphs">45</text>
<path d="M522.29 376.90v3.30" stroke="#000" stroke-width="0.95"/>
<text x="522.29" y="387.50" font-size="6.73" text-anchor="middle" textLength="3.82" lengthAdjust="spacingAndGlyphs">0</text>
<path d="M544.59 376.90v3.30" stroke="#000" stroke-width="0.95"/>
<text x="544.59" y="387.50" font-size="6.73" text-anchor="middle" textLength="9.80" lengthAdjust="spacingAndGlyphs">-45</text>
<path d="M566.90 376.90v3.30" stroke="#000" stroke-width="0.95"/>
<text x="566.90" y="387.50" font-size="6.73" text-anchor="middle" textLength="9.80" lengthAdjust="spacingAndGlyphs">-90</text>
<path d="M388.45 341.10h-3.30" stroke="#000" stroke-width="0.95"/>
<text x="371.16" y="344.00" font-size="6.53" text-anchor="start" textLength="7.51" lengthAdjust="spacingAndGlyphs">10</text>
<text x="378.67" y="341.57" font-size="4.57" text-anchor="start" textLength="2.63" lengthAdjust="spacingAndGlyphs">0</text>
<path d="M388.45 356.66h-3.30" stroke="#000" stroke-width="0.95"/>
<text x="367.70" y="359.56" font-size="6.53" text-anchor="start" textLength="7.51" lengthAdjust="spacingAndGlyphs">10</text>
<text x="375.21" y="357.13" font-size="4.57" text-anchor="start" textLength="6.09" lengthAdjust="spacingAndGlyphs">−1</text>
<path d="M388.45 372.22h-3.30" stroke="#000" stroke-width="0.95"/>
<text x="367.70" y="375.12" font-size="6.53" text-anchor="start" textLength="7.51" lengthAdjust="spacingAndGlyphs">10</text>
<text x="375.21" y="372.68" font-size="4.57" text-anchor="start" textLength="6.09" lengthAdjust="spacingAndGlyphs">−2</text>
<path d="M388.45 351.97h-2.00" stroke="#000" stroke-width="0.60"/>
<path d="M388.45 349.24h-2.00" stroke="#000" stroke-width="0.60"/>
<path d="M388.45 347.29h-2.00" stroke="#000" stroke-width="0.60"/>
<path d="M388.45 345.78h-2.00" stroke="#000" stroke-width="0.60"/>
<path d="M388.45 344.55h-2.00" stroke="#000" stroke-width="0.60"/>
<path d="M388.45 343.51h-2.00" stroke="#000" stroke-width="0.60"/>
<path d="M388.45 342.61h-2.00" stroke="#000" stroke-width="0.60"/>
<path d="M388.45 341.81h-2.00" stroke="#000" stroke-width="0.60"/>
<path d="M388.45 367.53h-2.00" stroke="#000" stroke-width="0.60"/>
<path d="M388.45 364.79h-2.00" stroke="#000" stroke-width="0.60"/>
<path d="M388.45 362.85h-2.00" stroke="#000" stroke-width="0.60"/>
<path d="M388.45 361.34h-2.00" stroke="#000" stroke-width="0.60"/>
<path d="M388.45 360.11h-2.00" stroke="#000" stroke-width="0.60"/>
<path d="M388.45 359.07h-2.00" stroke="#000" stroke-width="0.60"/>
<path d="M388.45 358.17h-2.00" stroke="#000" stroke-width="0.60"/>
<path d="M388.45 357.37h-2.00" stroke="#000" stroke-width="0.60"/>
<path d="M388.45 376.90h-2.00" stroke="#000" stroke-width="0.60"/>
<path d="M388.45 375.67h-2.00" stroke="#000" stroke-width="0.60"/>
<path d="M388.45 374.63h-2.00" stroke="#000" stroke-width="0.60"/>
<path d="M388.45 373.72h-2.00" stroke="#000" stroke-width="0.60"/>
<path d="M388.45 372.93h-2.00" stroke="#000" stroke-width="0.60"/>
<rect x="388.45" y="341.10" width="178.45" height="35.80" fill="none" stroke="#000" stroke-width="0.80"/>
<text x="361.30" y="359.20" font-size="6.73" text-anchor="middle" textLength="38.13" lengthAdjust="spacingAndGlyphs" transform="rotate(-90 361.30 359.20)">E/J [<tspan dx="1.14">]</tspan><tspan dx="0.67">(</tspan>z=75)</text>
<g clip-path="url(#c5)">
<rect x="388.45" y="395.10" width="178.45" height="2.99" fill="url(#g5_0)"/>
<rect x="388.45" y="397.09" width="178.45" height="2.99" fill="url(#g5_1)"/>
<rect x="388.45" y="399.08" width="178.45" height="2.99" fill="url(#g5_2)"/>
<rect x="388.45" y="401.08" width="178.45" height="2.99" fill="url(#g5_3)"/>
<rect x="388.45" y="403.07" width="178.45" height="2.99" fill="url(#g5_4)"/>
<rect x="388.45" y="405.06" width="178.45" height="2.99" fill="url(#g5_5)"/>
<rect x="388.45" y="407.05" width="178.45" height="2.99" fill="url(#g5_6)"/>
<rect x="388.45" y="409.04" width="178.45" height="2.99" fill="url(#g5_7)"/>
<rect x="388.45" y="411.04" width="178.45" height="2.99" fill="url(#g5_8)"/>
<rect x="388.45" y="413.03" width="178.45" height="2.99" fill="url(#g5_9)"/>
<rect x="388.45" y="415.02" width="178.45" height="2.99" fill="url(#g5_10)"/>
<rect x="388.45" y="417.01" width="178.45" height="2.99" fill="url(#g5_11)"/>
<rect x="388.45" y="419.00" width="178.45" height="2.99" fill="url(#g5_12)"/>
<rect x="388.45" y="421.00" width="178.45" height="2.99" fill="url(#g5_13)"/>
<rect x="388.45" y="422.99" width="178.45" height="2.99" fill="url(#g5_14)"/>
<rect x="388.45" y="424.98" width="178.45" height="2.99" fill="url(#g5_15)"/>
<rect x="388.45" y="426.97" width="178.45" height="2.99" fill="url(#g5_16)"/>
<rect x="388.45" y="428.96" width="178.45" height="2.99" fill="url(#g5_17)"/>
<rect x="388.45" y="430.96" width="178.45" height="2.99" fill="url(#g5_18)"/>
<rect x="388.45" y="432.95" width="178.45" height="2.99" fill="url(#g5_19)"/>
<rect x="388.45" y="434.94" width="178.45" height="2.99" fill="url(#g5_20)"/>
<rect x="388.45" y="436.93" width="178.45" height="2.99" fill="url(#g5_21)"/>
<rect x="388.45" y="438.92" width="178.45" height="2.99" fill="url(#g5_22)"/>
<rect x="388.45" y="440.92" width="178.45" height="2.99" fill="url(#g5_23)"/>
<rect x="388.45" y="442.91" width="178.45" height="2.99" fill="url(#g5_24)"/>
</g>
<rect x="388.45" y="395.10" width="178.45" height="49.80" fill="none" stroke="#000" stroke-width="0.68"/>
<path d="M389.20 444.90v3.30" stroke="#000" stroke-width="0.95"/>
<text x="388.45" y="457.50" font-size="8.77" text-anchor="middle" textLength="15.08" lengthAdjust="spacingAndGlyphs">270</text>
<path d="M411.32 444.90v3.30" stroke="#000" stroke-width="0.95"/>
<text x="410.66" y="457.50" font-size="8.77" text-anchor="middle" textLength="15.08" lengthAdjust="spacingAndGlyphs">225</text>
<path d="M433.44 444.90v3.30" stroke="#000" stroke-width="0.95"/>
<text x="432.86" y="457.50" font-size="8.77" text-anchor="middle" textLength="15.08" lengthAdjust="spacingAndGlyphs">180</text>
<path d="M455.56 444.90v3.30" stroke="#000" stroke-width="0.95"/>
<text x="455.07" y="457.50" font-size="8.77" text-anchor="middle" textLength="15.08" lengthAdjust="spacingAndGlyphs">135</text>
<path d="M477.67 444.90v3.30" stroke="#000" stroke-width="0.95"/>
<text x="477.27" y="457.50" font-size="8.77" text-anchor="middle" textLength="10.05" lengthAdjust="spacingAndGlyphs">90</text>
<path d="M499.79 444.90v3.30" stroke="#000" stroke-width="0.95"/>
<text x="499.48" y="457.50" font-size="8.77" text-anchor="middle" textLength="10.05" lengthAdjust="spacingAndGlyphs">45</text>
<path d="M521.91 444.90v3.30" stroke="#000" stroke-width="0.95"/>
<text x="521.69" y="457.50" font-size="8.77" text-anchor="middle" textLength="5.03" lengthAdjust="spacingAndGlyphs">0</text>
<path d="M544.03 444.90v3.30" stroke="#000" stroke-width="0.95"/>
<text x="543.89" y="457.50" font-size="8.77" text-anchor="middle" textLength="12.90" lengthAdjust="spacingAndGlyphs">-45</text>
<path d="M566.15 444.90v3.30" stroke="#000" stroke-width="0.95"/>
<text x="566.10" y="457.50" font-size="8.77" text-anchor="middle" textLength="12.90" lengthAdjust="spacingAndGlyphs">-90</text>
<path d="M388.45 395.59h-3.30" stroke="#000" stroke-width="0.95"/>
<text x="382.40" y="399.09" font-size="8.77" text-anchor="end" textLength="15.08" lengthAdjust="spacingAndGlyphs">100</text>
<path d="M388.45 420.00h-3.30" stroke="#000" stroke-width="0.95"/>
<text x="382.40" y="423.50" font-size="8.77" text-anchor="end" textLength="10.05" lengthAdjust="spacingAndGlyphs">75</text>
<path d="M388.45 444.41h-3.30" stroke="#000" stroke-width="0.95"/>
<text x="382.40" y="447.91" font-size="8.77" text-anchor="end" textLength="10.05" lengthAdjust="spacingAndGlyphs">50</text>
<text x="477.67" y="468.20" font-size="8.98" text-anchor="middle" textLength="18.74" lengthAdjust="spacingAndGlyphs">φ [°]</text>
<text x="360.80" y="420.90" font-size="8.98" text-anchor="middle" textLength="21.56" lengthAdjust="spacingAndGlyphs" transform="rotate(-90 360.80 420.90)">z [m]</text>
<polyline clip-path="url(#s6)" points="604.89,395.10 605.26,396.35 605.60,397.59 605.88,398.84 606.12,400.08 606.32,401.33 606.47,402.57 606.58,403.81 606.65,405.06 606.67,406.31 606.66,407.55 606.60,408.80 606.50,410.04 606.37,411.29 606.19,412.53 605.98,413.78 605.74,415.02 605.46,416.27 605.14,417.51 604.80,418.76 604.42,420.00 604.02,421.25 603.58,422.49 603.13,423.74 602.64,424.98 602.14,426.23 601.62,427.47 601.07,428.72 600.51,429.96 599.94,431.21 599.35,432.45 598.76,433.70 598.15,434.94 597.55,436.19 596.93,437.43 596.32,438.68 595.71,439.92 595.10,441.17 594.51,442.41 593.92,443.66 593.34,444.90" fill="none" stroke="#1f77b4" stroke-width="1.04" stroke-linejoin="round"/>
<path d="M591.30 395.10h-3.30" stroke="#000" stroke-width="0.95"/>
<text x="584.60" y="397.00" font-size="5.51" text-anchor="end" textLength="9.54" lengthAdjust="spacingAndGlyphs">100</text>
<path d="M591.30 420.00h-3.30" stroke="#000" stroke-width="0.95"/>
<text x="584.60" y="421.90" font-size="5.51" text-anchor="end" textLength="6.36" lengthAdjust="spacingAndGlyphs">75</text>
<path d="M591.30 444.90h-3.30" stroke="#000" stroke-width="0.95"/>
<text x="584.60" y="446.80" font-size="5.51" text-anchor="end" textLength="6.36" lengthAdjust="spacingAndGlyphs">50</text>
<path d="M627.20 444.90v3.30" stroke="#000" stroke-width="0.95"/>
<text x="623.25" y="456.50" font-size="5.51" text-anchor="start" textLength="5.85" lengthAdjust="spacingAndGlyphs">10</text>
<text x="629.10" y="454.45" font-size="3.86" text-anchor="start" textLength="2.05" lengthAdjust="spacingAndGlyphs">0</text>
<path d="M611.60 444.90v3.30" stroke="#000" stroke-width="0.95"/>
<text x="606.30" y="456.50" font-size="5.51" text-anchor="start" textLength="5.85" lengthAdjust="spacingAndGlyphs">10</text>
<text x="612.15" y="454.45" font-size="3.86" text-anchor="start" textLength="4.75" lengthAdjust="spacingAndGlyphs">−1</text>
<path d="M596.00 444.90v3.30" stroke="#000" stroke-width="0.95"/>
<text x="590.70" y="456.50" font-size="5.51" text-anchor="start" textLength="5.85" lengthAdjust="spacingAndGlyphs">10</text>
<text x="596.55" y="454.45" font-size="3.86" text-anchor="start" textLength="4.75" lengthAdjust="spacingAndGlyphs">−2</text>
<path d="M616.29 444.90v2.00" stroke="#000" stroke-width="0.60"/>
<path d="M619.04 444.90v2.00" stroke="#000" stroke-width="0.60"/>
<path d="M620.99 444.90v2.00" stroke="#000" stroke-width="0.60"/>
<path d="M622.50 444.90v2.00" stroke="#000" stroke-width="0.60"/>
<path d="M623.74 444.90v2.00" stroke="#000" stroke-width="0.60"/>
<path d="M624.78 444.90v2.00" stroke="#000" stroke-width="0.60"/>
<path d="M625.69 444.90v2.00" stroke="#000" stroke-width="0.60"/>
<path d="M626.49 444.90v2.00" stroke="#000" stroke-width="0.60"/>
<path d="M600.69 444.90v2.00" stroke="#000" stroke-width="0.60"/>
<path d="M603.44 444.90v2.00" stroke="#000" stroke-width="0.60"/>
<path d="M605.39 444.90v2.00" stroke="#000" stroke-width="0.60"/>
<path d="M606.90 444.90v2.00" stroke="#000" stroke-width="0.60"/>
<path d="M608.14 444.90v2.00" stroke="#000" stroke-width="0.60"/>
<path d="M609.18 444.90v2.00" stroke="#000" stroke-width="0.60"/>
<path d="M610.09 444.90v2.00" stroke="#000" stroke-width="0.60"/>
<path d="M610.88 444.90v2.00" stroke="#000" stroke-width="0.60"/>
<path d="M591.30 444.90v2.00" stroke="#000" stroke-width="0.60"/>
<path d="M592.54 444.90v2.00" stroke="#000" stroke-width="0.60"/>
<path d="M593.58 444.90v2.00" stroke="#000" stroke-width="0.60"/>
<path d="M594.48 444.90v2.00" stroke="#000" stroke-width="0.60"/>
<path d="M595.28 444.90v2.00" stroke="#000" stroke-width="0.60"/>
<rect x="591.30" y="395.10" width="35.90" height="49.80" fill="none" stroke="#000" stroke-width="0.72"/>
<text x="608.55" y="468.30" font-size="8.98" text-anchor="middle" textLength="54.35" lengthAdjust="spacingAndGlyphs">E/J [<tspan dx="1.53">]</tspan><tspan dx="0.90">(</tspan>φ=180)</text>
<rect x="642.00" y="325.50" width="6.90" height="133.80" fill="url(#cb)" stroke="#000" stroke-width="0.80"/>
<path d="M648.90 325.50h3.30" stroke="#000" stroke-width="0.95"/>
<text x="655.30" y="330.25" font-size="8.67" text-anchor="start" textLength="10.18" lengthAdjust="spacingAndGlyphs">10</text>
<text x="665.48" y="326.76" font-size="6.07" text-anchor="start" textLength="3.56" lengthAdjust="spacingAndGlyphs">0</text>
<path d="M648.90 383.65h3.30" stroke="#000" stroke-width="0.95"/>
<text x="655.30" y="388.40" font-size="8.67" text-anchor="start" textLength="10.18" lengthAdjust="spacingAndGlyphs">10</text>
<text x="665.48" y="384.91" font-size="6.07" text-anchor="start" textLength="8.26" lengthAdjust="spacingAndGlyphs">−1</text>
<path d="M648.90 441.80h3.30" stroke="#000" stroke-width="0.95"/>
<text x="655.30" y="446.55" font-size="8.67" text-anchor="start" textLength="10.18" lengthAdjust="spacingAndGlyphs">10</text>
<text x="665.48" y="443.06" font-size="6.07" text-anchor="start" textLength="8.26" lengthAdjust="spacingAndGlyphs">−2</text>
<path d="M648.90 366.14h2.00" stroke="#000" stroke-width="0.60"/>
<path d="M648.90 355.90h2.00" stroke="#000" stroke-width="0.60"/>
<path d="M648.90 348.64h2.00" stroke="#000" stroke-width="0.60"/>
<path d="M648.90 343.00h2.00" stroke="#000" stroke-width="0.60"/>
<path d="M648.90 338.40h2.00" stroke="#000" stroke-width="0.60"/>
<path d="M648.90 334.51h2.00" stroke="#000" stroke-width="0.60"/>
<path d="M648.90 331.14h2.00" stroke="#000" stroke-width="0.60"/>
<path d="M648.90 328.16h2.00" stroke="#000" stroke-width="0.60"/>
<path d="M648.90 424.29h2.00" stroke="#000" stroke-width="0.60"/>
<path d="M648.90 414.05h2.00" stroke="#000" stroke-width="0.60"/>
<path d="M648.90 406.79h2.00" stroke="#000" stroke-width="0.60"/>
<path d="M648.90 401.15h2.00" stroke="#000" stroke-width="0.60"/>
<path d="M648.90 396.55h2.00" stroke="#000" stroke-width="0.60"/>
<path d="M648.90 392.66h2.00" stroke="#000" stroke-width="0.60"/>
<path d="M648.90 389.28h2.00" stroke="#000" stroke-width="0.60"/>
<path d="M648.90 386.31h2.00" stroke="#000" stroke-width="0.60"/>
<path d="M648.90 459.30h2.00" stroke="#000" stroke-width="0.60"/>
<path d="M648.90 454.70h2.00" stroke="#000" stroke-width="0.60"/>
<path d="M648.90 450.80h2.00" stroke="#000" stroke-width="0.60"/>
<path d="M648.90 447.43h2.00" stroke="#000" stroke-width="0.60"/>
<path d="M648.90 444.46h2.00" stroke="#000" stroke-width="0.60"/>
<text x="683.20" y="392.80" font-size="8.98" text-anchor="middle" textLength="19.60" lengthAdjust="spacingAndGlyphs" transform="rotate(-90 683.20 392.80)">E/J [<tspan dx="1.53">]</tspan></text>
</g>
</svg>
</body></html>
